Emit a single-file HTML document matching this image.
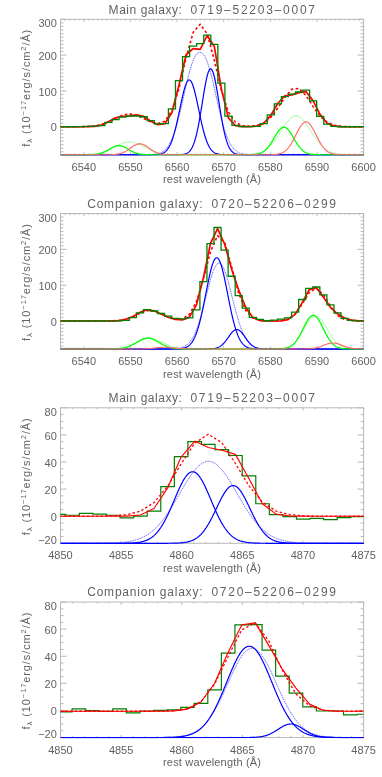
<!DOCTYPE html>
<html><head><meta charset="utf-8"><title>spectra</title>
<style>html,body{margin:0;padding:0;background:#fff}svg{display:block;will-change:transform}</style>
</head><body>
<svg width="382" height="777" viewBox="0 0 382 777">
<rect width="382" height="777" fill="#fff"/>
<defs>
<clipPath id="c0"><rect x="60.50" y="18.80" width="303.10" height="136.70"/></clipPath>
<clipPath id="c1"><rect x="60.50" y="213.05" width="303.10" height="136.70"/></clipPath>
<clipPath id="c2"><rect x="60.50" y="407.30" width="303.10" height="136.70"/></clipPath>
<clipPath id="c3"><rect x="60.50" y="601.55" width="303.10" height="136.70"/></clipPath>
</defs>
<g font-family="'Liberation Sans', sans-serif" fill="#626262">
<text x="108.6" y="13.7" font-size="12" textLength="73.3" lengthAdjust="spacing">Main galaxy:</text>
<text x="190.4" y="13.7" font-size="12" textLength="124.6" lengthAdjust="spacing">0719–52203–0007</text>
<text x="83.82" y="170.8" font-size="11" text-anchor="middle">6540</text>
<text x="130.45" y="170.8" font-size="11" text-anchor="middle">6550</text>
<text x="177.08" y="170.8" font-size="11" text-anchor="middle">6560</text>
<text x="223.71" y="170.8" font-size="11" text-anchor="middle">6570</text>
<text x="270.34" y="170.8" font-size="11" text-anchor="middle">6580</text>
<text x="316.97" y="170.8" font-size="11" text-anchor="middle">6590</text>
<text x="363.6" y="170.8" font-size="11" text-anchor="middle">6600</text>
<text x="212" y="183.4" font-size="11" text-anchor="middle" textLength="98" lengthAdjust="spacing">rest wavelength (&#197;)</text>
<text x="56.8" y="131.45" font-size="11" text-anchor="end">0</text>
<text x="56.8" y="95.64" font-size="11" text-anchor="end">100</text>
<text x="56.8" y="59.82" font-size="11" text-anchor="end">200</text>
<text x="56.8" y="27.3" font-size="11" text-anchor="end">300</text>
<text transform="translate(29.6,88.25) rotate(-90)" font-size="11" text-anchor="middle" textLength="117" lengthAdjust="spacing">f<tspan font-size="8" dy="2.5">&#955;</tspan><tspan dy="-2.5"> (10</tspan><tspan font-size="7.5" dy="-4">&#8722;17</tspan><tspan dy="4">erg/s/cm</tspan><tspan font-size="7.5" dy="-4">2</tspan><tspan dy="4">/&#197;)</tspan></text>
</g>
<path d="M60.5 19.3H363.6V154.8H60.5ZM60.5 154.8v-1.35M60.5 19.3v1.35M65.16 154.8v-1.35M65.16 19.3v1.35M69.83 154.8v-1.35M69.83 19.3v1.35M74.49 154.8v-1.35M74.49 19.3v1.35M79.15 154.8v-1.35M79.15 19.3v1.35M83.82 154.8v-2.7M83.82 19.3v2.7M88.48 154.8v-1.35M88.48 19.3v1.35M93.14 154.8v-1.35M93.14 19.3v1.35M97.8 154.8v-1.35M97.8 19.3v1.35M102.47 154.8v-1.35M102.47 19.3v1.35M107.13 154.8v-1.35M107.13 19.3v1.35M111.79 154.8v-1.35M111.79 19.3v1.35M116.46 154.8v-1.35M116.46 19.3v1.35M121.12 154.8v-1.35M121.12 19.3v1.35M125.78 154.8v-1.35M125.78 19.3v1.35M130.45 154.8v-2.7M130.45 19.3v2.7M135.11 154.8v-1.35M135.11 19.3v1.35M139.77 154.8v-1.35M139.77 19.3v1.35M144.44 154.8v-1.35M144.44 19.3v1.35M149.1 154.8v-1.35M149.1 19.3v1.35M153.76 154.8v-1.35M153.76 19.3v1.35M158.42 154.8v-1.35M158.42 19.3v1.35M163.09 154.8v-1.35M163.09 19.3v1.35M167.75 154.8v-1.35M167.75 19.3v1.35M172.41 154.8v-1.35M172.41 19.3v1.35M177.08 154.8v-2.7M177.08 19.3v2.7M181.74 154.8v-1.35M181.74 19.3v1.35M186.4 154.8v-1.35M186.4 19.3v1.35M191.07 154.8v-1.35M191.07 19.3v1.35M195.73 154.8v-1.35M195.73 19.3v1.35M200.39 154.8v-1.35M200.39 19.3v1.35M205.06 154.8v-1.35M205.06 19.3v1.35M209.72 154.8v-1.35M209.72 19.3v1.35M214.38 154.8v-1.35M214.38 19.3v1.35M219.04 154.8v-1.35M219.04 19.3v1.35M223.71 154.8v-2.7M223.71 19.3v2.7M228.37 154.8v-1.35M228.37 19.3v1.35M233.03 154.8v-1.35M233.03 19.3v1.35M237.7 154.8v-1.35M237.7 19.3v1.35M242.36 154.8v-1.35M242.36 19.3v1.35M247.02 154.8v-1.35M247.02 19.3v1.35M251.69 154.8v-1.35M251.69 19.3v1.35M256.35 154.8v-1.35M256.35 19.3v1.35M261.01 154.8v-1.35M261.01 19.3v1.35M265.68 154.8v-1.35M265.68 19.3v1.35M270.34 154.8v-2.7M270.34 19.3v2.7M275 154.8v-1.35M275 19.3v1.35M279.66 154.8v-1.35M279.66 19.3v1.35M284.33 154.8v-1.35M284.33 19.3v1.35M288.99 154.8v-1.35M288.99 19.3v1.35M293.65 154.8v-1.35M293.65 19.3v1.35M298.32 154.8v-1.35M298.32 19.3v1.35M302.98 154.8v-1.35M302.98 19.3v1.35M307.64 154.8v-1.35M307.64 19.3v1.35M312.31 154.8v-1.35M312.31 19.3v1.35M316.97 154.8v-2.7M316.97 19.3v2.7M321.63 154.8v-1.35M321.63 19.3v1.35M326.3 154.8v-1.35M326.3 19.3v1.35M330.96 154.8v-1.35M330.96 19.3v1.35M335.62 154.8v-1.35M335.62 19.3v1.35M340.28 154.8v-1.35M340.28 19.3v1.35M344.95 154.8v-1.35M344.95 19.3v1.35M349.61 154.8v-1.35M349.61 19.3v1.35M354.27 154.8v-1.35M354.27 19.3v1.35M358.94 154.8v-1.35M358.94 19.3v1.35M363.6 154.8v-2.7M363.6 19.3v2.7M60.5 151.83h3M363.6 151.83h-3M60.5 148.25h3M363.6 148.25h-3M60.5 144.66h3M363.6 144.66h-3M60.5 141.08h3M363.6 141.08h-3M60.5 137.5h3M363.6 137.5h-3M60.5 133.92h3M363.6 133.92h-3M60.5 130.34h3M363.6 130.34h-3M60.5 126.75h6M363.6 126.75h-6M60.5 123.17h3M363.6 123.17h-3M60.5 119.59h3M363.6 119.59h-3M60.5 116.01h3M363.6 116.01h-3M60.5 112.43h3M363.6 112.43h-3M60.5 108.85h3M363.6 108.85h-3M60.5 105.26h3M363.6 105.26h-3M60.5 101.68h3M363.6 101.68h-3M60.5 98.1h3M363.6 98.1h-3M60.5 94.52h3M363.6 94.52h-3M60.5 90.94h6M363.6 90.94h-6M60.5 87.35h3M363.6 87.35h-3M60.5 83.77h3M363.6 83.77h-3M60.5 80.19h3M363.6 80.19h-3M60.5 76.61h3M363.6 76.61h-3M60.5 73.03h3M363.6 73.03h-3M60.5 69.45h3M363.6 69.45h-3M60.5 65.86h3M363.6 65.86h-3M60.5 62.28h3M363.6 62.28h-3M60.5 58.7h3M363.6 58.7h-3M60.5 55.12h6M363.6 55.12h-6M60.5 51.54h3M363.6 51.54h-3M60.5 47.95h3M363.6 47.95h-3M60.5 44.37h3M363.6 44.37h-3M60.5 40.79h3M363.6 40.79h-3M60.5 37.21h3M363.6 37.21h-3M60.5 33.63h3M363.6 33.63h-3M60.5 30.05h3M363.6 30.05h-3M60.5 26.46h3M363.6 26.46h-3M60.5 22.88h3M363.6 22.88h-3M60.5 19.3h6M363.6 19.3h-6" fill="none" stroke="#b8b8b8" stroke-width="1"/>
<g clip-path="url(#c0)" fill="none" stroke-linejoin="round">
<polyline points="60.5,154.8 61,154.8 61.5,154.8 62,154.8 62.5,154.8 63,154.8 63.5,154.8 64,154.8 64.5,154.8 65,154.8 65.5,154.8 66,154.8 66.5,154.8 67,154.8 67.5,154.8 68,154.8 68.5,154.8 69,154.8 69.5,154.8 70,154.8 70.5,154.8 71,154.8 71.5,154.8 72,154.8 72.5,154.8 73,154.8 73.5,154.8 74,154.8 74.5,154.8 75,154.8 75.5,154.8 76,154.8 76.5,154.8 77,154.8 77.5,154.8 78,154.8 78.5,154.8 79,154.8 79.5,154.8 80,154.8 80.5,154.8 81,154.8 81.5,154.8 82,154.8 82.5,154.8 83,154.8 83.5,154.8 84,154.8 84.5,154.8 85,154.8 85.5,154.8 86,154.8 86.5,154.8 87,154.8 87.5,154.8 88,154.8 88.5,154.8 89,154.8 89.5,154.8 90,154.8 90.5,154.8 91,154.8 91.5,154.8 92,154.8 92.5,154.8 93,154.8 93.5,154.8 94,154.8 94.5,154.8 95,154.8 95.5,154.8 96,154.8 96.5,154.8 97,154.8 97.5,154.8 98,154.8 98.5,154.8 99,154.8 99.5,154.8 100,154.8 100.5,154.8 101,154.8 101.5,154.8 102,154.8 102.5,154.8 103,154.8 103.5,154.8 104,154.8 104.5,154.8 105,154.8 105.5,154.8 106,154.8 106.5,154.8 107,154.8 107.5,154.8 108,154.8 108.5,154.8 109,154.8 109.5,154.8 110,154.8 110.5,154.8 111,154.8 111.5,154.8 112,154.8 112.5,154.8 113,154.8 113.5,154.8 114,154.8 114.5,154.8 115,154.8 115.5,154.8 116,154.8 116.5,154.8 117,154.8 117.5,154.8 118,154.8 118.5,154.8 119,154.8 119.5,154.8 120,154.8 120.5,154.8 121,154.8 121.5,154.8 122,154.8 122.5,154.8 123,154.8 123.5,154.8 124,154.8 124.5,154.8 125,154.8 125.5,154.8 126,154.8 126.5,154.8 127,154.8 127.5,154.8 128,154.8 128.5,154.8 129,154.8 129.5,154.8 130,154.8 130.5,154.8 131,154.8 131.5,154.8 132,154.8 132.5,154.8 133,154.8 133.5,154.8 134,154.8 134.5,154.8 135,154.8 135.5,154.8 136,154.8 136.5,154.8 137,154.8 137.5,154.8 138,154.8 138.5,154.8 139,154.8 139.5,154.8 140,154.8 140.5,154.79 141,154.79 141.5,154.79 142,154.79 142.5,154.79 143,154.79 143.5,154.78 144,154.78 144.5,154.78 145,154.77 145.5,154.77 146,154.76 146.5,154.76 147,154.75 147.5,154.74 148,154.73 148.5,154.72 149,154.7 149.5,154.69 150,154.67 150.5,154.65 151,154.63 151.5,154.6 152,154.57 152.5,154.53 153,154.5 153.5,154.45 154,154.4 154.5,154.34 155,154.28 155.5,154.21 156,154.13 156.5,154.04 157,153.94 157.5,153.83 158,153.71 158.5,153.57 159,153.42 159.5,153.25 160,153.06 160.5,152.86 161,152.63 161.5,152.38 162,152.11 162.5,151.82 163,151.49 163.5,151.14 164,150.76 164.5,150.34 165,149.89 165.5,149.4 166,148.87 166.5,148.3 167,147.69 167.5,147.03 168,146.33 168.5,145.58 169,144.78 169.5,143.92 170,143.01 170.5,142.05 171,141.02 171.5,139.94 172,138.8 172.5,137.6 173,136.34 173.5,135.02 174,133.63 174.5,132.19 175,130.68 175.5,129.11 176,127.48 176.5,125.79 177,124.04 177.5,122.24 178,120.38 178.5,118.47 179,116.51 179.5,114.51 180,112.47 180.5,110.38 181,108.26 181.5,106.12 182,103.94 182.5,101.75 183,99.54 183.5,97.31 184,95.09 184.5,92.86 185,90.65 185.5,88.44 186,86.25 186.5,84.09 187,81.96 187.5,79.87 188,77.82 188.5,75.81 189,73.86 189.5,71.97 190,70.15 190.5,68.4 191,66.72 191.5,65.12 192,63.6 192.5,62.18 193,60.84 193.5,59.6 194,58.45 194.5,57.41 195,56.46 195.5,55.61 196,54.87 196.5,54.22 197,53.68 197.5,53.24 198,52.89 198.5,52.63 199,52.47 199.5,52.38 200,52.36 200.5,52.4 201,52.51 201.5,52.7 202,52.98 202.5,53.36 203,53.83 203.5,54.4 204,55.08 204.5,55.85 205,56.73 205.5,57.71 206,58.78 206.5,59.96 207,61.23 207.5,62.59 208,64.04 208.5,65.58 209,67.21 209.5,68.91 210,70.68 210.5,72.53 211,74.43 211.5,76.4 212,78.42 212.5,80.48 213,82.59 213.5,84.73 214,86.9 214.5,89.09 215,91.3 215.5,93.52 216,95.75 216.5,97.97 217,100.19 217.5,102.4 218,104.59 218.5,106.75 219,108.89 219.5,111 220,113.08 220.5,115.11 221,117.1 221.5,119.04 222,120.94 222.5,122.78 223,124.56 223.5,126.29 224,127.97 224.5,129.58 225,131.13 225.5,132.62 226,134.05 226.5,135.42 227,136.72 227.5,137.96 228,139.15 228.5,140.27 229,141.33 229.5,142.34 230,143.29 230.5,144.18 231,145.02 231.5,145.81 232,146.54 232.5,147.23 233,147.88 233.5,148.47 234,149.03 234.5,149.55 235,150.02 235.5,150.47 236,150.87 236.5,151.25 237,151.59 237.5,151.91 238,152.2 238.5,152.46 239,152.7 239.5,152.92 240,153.12 240.5,153.3 241,153.46 241.5,153.61 242,153.74 242.5,153.86 243,153.97 243.5,154.07 244,154.15 244.5,154.23 245,154.3 245.5,154.36 246,154.42 246.5,154.46 247,154.51 247.5,154.54 248,154.58 248.5,154.61 249,154.63 249.5,154.66 250,154.68 250.5,154.69 251,154.71 251.5,154.72 252,154.73 252.5,154.74 253,154.75 253.5,154.76 254,154.76 254.5,154.77 255,154.77 255.5,154.78 256,154.78 256.5,154.78 257,154.79 257.5,154.79 258,154.79 258.5,154.79 259,154.79 259.5,154.79 260,154.8 260.5,154.8 261,154.8 261.5,154.8 262,154.8 262.5,154.8 263,154.8 263.5,154.8 264,154.8 264.5,154.8 265,154.8 265.5,154.8 266,154.8 266.5,154.8 267,154.8 267.5,154.8 268,154.8 268.5,154.8 269,154.8 269.5,154.8 270,154.8 270.5,154.8 271,154.8 271.5,154.8 272,154.8 272.5,154.8 273,154.8 273.5,154.8 274,154.8 274.5,154.8 275,154.8 275.5,154.8 276,154.8 276.5,154.8 277,154.8 277.5,154.8 278,154.8 278.5,154.8 279,154.8 279.5,154.8 280,154.8 280.5,154.8 281,154.8 281.5,154.8 282,154.8 282.5,154.8 283,154.8 283.5,154.8 284,154.8 284.5,154.8 285,154.8 285.5,154.8 286,154.8 286.5,154.8 287,154.8 287.5,154.8 288,154.8 288.5,154.8 289,154.8 289.5,154.8 290,154.8 290.5,154.8 291,154.8 291.5,154.8 292,154.8 292.5,154.8 293,154.8 293.5,154.8 294,154.8 294.5,154.8 295,154.8 295.5,154.8 296,154.8 296.5,154.8 297,154.8 297.5,154.8 298,154.8 298.5,154.8 299,154.8 299.5,154.8 300,154.8 300.5,154.8 301,154.8 301.5,154.8 302,154.8 302.5,154.8 303,154.8 303.5,154.8 304,154.8 304.5,154.8 305,154.8 305.5,154.8 306,154.8 306.5,154.8 307,154.8 307.5,154.8 308,154.8 308.5,154.8 309,154.8 309.5,154.8 310,154.8 310.5,154.8 311,154.8 311.5,154.8 312,154.8 312.5,154.8 313,154.8 313.5,154.8 314,154.8 314.5,154.8 315,154.8 315.5,154.8 316,154.8 316.5,154.8 317,154.8 317.5,154.8 318,154.8 318.5,154.8 319,154.8 319.5,154.8 320,154.8 320.5,154.8 321,154.8 321.5,154.8 322,154.8 322.5,154.8 323,154.8 323.5,154.8 324,154.8 324.5,154.8 325,154.8 325.5,154.8 326,154.8 326.5,154.8 327,154.8 327.5,154.8 328,154.8 328.5,154.8 329,154.8 329.5,154.8 330,154.8 330.5,154.8 331,154.8 331.5,154.8 332,154.8 332.5,154.8 333,154.8 333.5,154.8 334,154.8 334.5,154.8 335,154.8 335.5,154.8 336,154.8 336.5,154.8 337,154.8 337.5,154.8 338,154.8 338.5,154.8 339,154.8 339.5,154.8 340,154.8 340.5,154.8 341,154.8 341.5,154.8 342,154.8 342.5,154.8 343,154.8 343.5,154.8 344,154.8 344.5,154.8 345,154.8 345.5,154.8 346,154.8 346.5,154.8 347,154.8 347.5,154.8 348,154.8 348.5,154.8 349,154.8 349.5,154.8 350,154.8 350.5,154.8 351,154.8 351.5,154.8 352,154.8 352.5,154.8 353,154.8 353.5,154.8 354,154.8 354.5,154.8 355,154.8 355.5,154.8 356,154.8 356.5,154.8 357,154.8 357.5,154.8 358,154.8 358.5,154.8 359,154.8 359.5,154.8 360,154.8 360.5,154.8 361,154.8 361.5,154.8 362,154.8 362.5,154.8 363,154.8 363.5,154.8 364,154.8" stroke="#4848ff" stroke-width="0.85" stroke-dasharray="1.6,0.8"/>
<polyline points="60.5,154.8 61,154.8 61.5,154.8 62,154.8 62.5,154.8 63,154.8 63.5,154.8 64,154.8 64.5,154.8 65,154.8 65.5,154.8 66,154.8 66.5,154.8 67,154.8 67.5,154.8 68,154.8 68.5,154.8 69,154.8 69.5,154.8 70,154.8 70.5,154.8 71,154.8 71.5,154.8 72,154.8 72.5,154.8 73,154.8 73.5,154.8 74,154.8 74.5,154.8 75,154.8 75.5,154.8 76,154.8 76.5,154.8 77,154.8 77.5,154.8 78,154.8 78.5,154.8 79,154.8 79.5,154.8 80,154.8 80.5,154.8 81,154.8 81.5,154.8 82,154.8 82.5,154.8 83,154.8 83.5,154.8 84,154.8 84.5,154.8 85,154.8 85.5,154.8 86,154.8 86.5,154.8 87,154.8 87.5,154.8 88,154.8 88.5,154.8 89,154.8 89.5,154.8 90,154.8 90.5,154.8 91,154.8 91.5,154.8 92,154.8 92.5,154.8 93,154.8 93.5,154.8 94,154.8 94.5,154.8 95,154.8 95.5,154.8 96,154.8 96.5,154.8 97,154.8 97.5,154.8 98,154.8 98.5,154.8 99,154.8 99.5,154.8 100,154.8 100.5,154.8 101,154.8 101.5,154.8 102,154.8 102.5,154.8 103,154.8 103.5,154.8 104,154.8 104.5,154.8 105,154.8 105.5,154.8 106,154.8 106.5,154.8 107,154.8 107.5,154.8 108,154.8 108.5,154.8 109,154.8 109.5,154.8 110,154.8 110.5,154.8 111,154.8 111.5,154.8 112,154.8 112.5,154.8 113,154.8 113.5,154.8 114,154.8 114.5,154.8 115,154.8 115.5,154.8 116,154.8 116.5,154.8 117,154.8 117.5,154.8 118,154.8 118.5,154.8 119,154.8 119.5,154.8 120,154.8 120.5,154.8 121,154.8 121.5,154.8 122,154.8 122.5,154.8 123,154.8 123.5,154.8 124,154.8 124.5,154.8 125,154.8 125.5,154.8 126,154.8 126.5,154.8 127,154.8 127.5,154.8 128,154.8 128.5,154.8 129,154.8 129.5,154.8 130,154.8 130.5,154.8 131,154.8 131.5,154.8 132,154.8 132.5,154.8 133,154.8 133.5,154.8 134,154.8 134.5,154.8 135,154.8 135.5,154.8 136,154.8 136.5,154.8 137,154.8 137.5,154.8 138,154.8 138.5,154.8 139,154.8 139.5,154.8 140,154.8 140.5,154.8 141,154.8 141.5,154.8 142,154.8 142.5,154.8 143,154.8 143.5,154.8 144,154.8 144.5,154.8 145,154.8 145.5,154.8 146,154.8 146.5,154.8 147,154.8 147.5,154.8 148,154.8 148.5,154.8 149,154.8 149.5,154.8 150,154.8 150.5,154.8 151,154.8 151.5,154.8 152,154.8 152.5,154.8 153,154.8 153.5,154.8 154,154.8 154.5,154.8 155,154.8 155.5,154.8 156,154.8 156.5,154.8 157,154.8 157.5,154.8 158,154.8 158.5,154.8 159,154.8 159.5,154.8 160,154.8 160.5,154.8 161,154.8 161.5,154.8 162,154.8 162.5,154.8 163,154.8 163.5,154.8 164,154.8 164.5,154.8 165,154.8 165.5,154.8 166,154.8 166.5,154.8 167,154.8 167.5,154.8 168,154.8 168.5,154.8 169,154.8 169.5,154.8 170,154.8 170.5,154.8 171,154.8 171.5,154.8 172,154.8 172.5,154.8 173,154.8 173.5,154.8 174,154.8 174.5,154.8 175,154.8 175.5,154.8 176,154.8 176.5,154.8 177,154.8 177.5,154.8 178,154.8 178.5,154.8 179,154.8 179.5,154.8 180,154.8 180.5,154.8 181,154.8 181.5,154.8 182,154.8 182.5,154.8 183,154.8 183.5,154.8 184,154.8 184.5,154.8 185,154.8 185.5,154.8 186,154.8 186.5,154.8 187,154.8 187.5,154.8 188,154.8 188.5,154.8 189,154.8 189.5,154.8 190,154.8 190.5,154.8 191,154.8 191.5,154.8 192,154.8 192.5,154.8 193,154.8 193.5,154.8 194,154.8 194.5,154.8 195,154.8 195.5,154.8 196,154.8 196.5,154.8 197,154.8 197.5,154.8 198,154.8 198.5,154.8 199,154.8 199.5,154.8 200,154.8 200.5,154.8 201,154.8 201.5,154.8 202,154.8 202.5,154.8 203,154.8 203.5,154.8 204,154.8 204.5,154.8 205,154.8 205.5,154.8 206,154.8 206.5,154.8 207,154.8 207.5,154.8 208,154.8 208.5,154.8 209,154.8 209.5,154.8 210,154.8 210.5,154.8 211,154.8 211.5,154.8 212,154.8 212.5,154.8 213,154.8 213.5,154.8 214,154.8 214.5,154.8 215,154.8 215.5,154.8 216,154.8 216.5,154.8 217,154.8 217.5,154.8 218,154.8 218.5,154.8 219,154.8 219.5,154.8 220,154.8 220.5,154.8 221,154.8 221.5,154.8 222,154.8 222.5,154.8 223,154.8 223.5,154.8 224,154.8 224.5,154.8 225,154.8 225.5,154.8 226,154.8 226.5,154.8 227,154.8 227.5,154.8 228,154.8 228.5,154.8 229,154.8 229.5,154.8 230,154.8 230.5,154.8 231,154.8 231.5,154.8 232,154.8 232.5,154.8 233,154.79 233.5,154.79 234,154.79 234.5,154.79 235,154.79 235.5,154.79 236,154.79 236.5,154.79 237,154.78 237.5,154.78 238,154.78 238.5,154.78 239,154.77 239.5,154.77 240,154.77 240.5,154.76 241,154.76 241.5,154.75 242,154.74 242.5,154.74 243,154.73 243.5,154.72 244,154.71 244.5,154.7 245,154.69 245.5,154.67 246,154.66 246.5,154.64 247,154.62 247.5,154.6 248,154.58 248.5,154.55 249,154.53 249.5,154.5 250,154.46 250.5,154.43 251,154.39 251.5,154.34 252,154.29 252.5,154.24 253,154.18 253.5,154.12 254,154.05 254.5,153.98 255,153.9 255.5,153.82 256,153.72 256.5,153.62 257,153.51 257.5,153.4 258,153.27 258.5,153.14 259,152.99 259.5,152.84 260,152.67 260.5,152.49 261,152.3 261.5,152.1 262,151.88 262.5,151.65 263,151.41 263.5,151.15 264,150.88 264.5,150.59 265,150.28 265.5,149.96 266,149.62 266.5,149.26 267,148.88 267.5,148.49 268,148.07 268.5,147.64 269,147.19 269.5,146.72 270,146.23 270.5,145.72 271,145.19 271.5,144.64 272,144.07 272.5,143.49 273,142.88 273.5,142.26 274,141.61 274.5,140.95 275,140.28 275.5,139.59 276,138.88 276.5,138.16 277,137.42 277.5,136.68 278,135.92 278.5,135.15 279,134.37 279.5,133.59 280,132.81 280.5,132.01 281,131.22 281.5,130.43 282,129.64 282.5,128.85 283,128.06 283.5,127.29 284,126.52 284.5,125.77 285,125.03 285.5,124.3 286,123.59 286.5,122.9 287,122.23 287.5,121.59 288,120.97 288.5,120.37 289,119.81 289.5,119.28 290,118.78 290.5,118.31 291,117.88 291.5,117.48 292,117.13 292.5,116.81 293,116.53 293.5,116.3 294,116.1 294.5,115.95 295,115.84 295.5,115.78 296,115.76 296.5,115.78 297,115.85 297.5,115.96 298,116.11 298.5,116.31 299,116.55 299.5,116.83 300,117.15 300.5,117.5 301,117.9 301.5,118.34 302,118.8 302.5,119.31 303,119.84 303.5,120.41 304,121 304.5,121.62 305,122.27 305.5,122.94 306,123.63 306.5,124.34 307,125.07 307.5,125.81 308,126.57 308.5,127.33 309,128.11 309.5,128.89 310,129.68 310.5,130.47 311,131.27 311.5,132.06 312,132.85 312.5,133.64 313,134.42 313.5,135.2 314,135.96 314.5,136.72 315,137.47 315.5,138.2 316,138.92 316.5,139.63 317,140.32 317.5,140.99 318,141.65 318.5,142.29 319,142.92 319.5,143.52 320,144.11 320.5,144.67 321,145.22 321.5,145.75 322,146.26 322.5,146.75 323,147.22 323.5,147.67 324,148.1 324.5,148.51 325,148.9 325.5,149.28 326,149.64 326.5,149.98 327,150.3 327.5,150.6 328,150.89 328.5,151.17 329,151.42 329.5,151.67 330,151.89 330.5,152.11 331,152.31 331.5,152.5 332,152.68 332.5,152.84 333,153 333.5,153.14 334,153.28 334.5,153.4 335,153.52 335.5,153.63 336,153.73 336.5,153.82 337,153.91 337.5,153.99 338,154.06 338.5,154.13 339,154.19 339.5,154.24 340,154.3 340.5,154.34 341,154.39 341.5,154.43 342,154.46 342.5,154.5 343,154.53 343.5,154.55 344,154.58 344.5,154.6 345,154.62 345.5,154.64 346,154.66 346.5,154.67 347,154.69 347.5,154.7 348,154.71 348.5,154.72 349,154.73 349.5,154.74 350,154.74 350.5,154.75 351,154.76 351.5,154.76 352,154.77 352.5,154.77 353,154.77 353.5,154.78 354,154.78 354.5,154.78 355,154.78 355.5,154.79 356,154.79 356.5,154.79 357,154.79 357.5,154.79 358,154.79 358.5,154.79 359,154.79 359.5,154.8 360,154.8 360.5,154.8 361,154.8 361.5,154.8 362,154.8 362.5,154.8 363,154.8 363.5,154.8 364,154.8" stroke="#60f460" stroke-width="0.9" stroke-dasharray="1.6,0.8"/>
<polyline points="60.5,154.8 61,154.8 61.5,154.8 62,154.8 62.5,154.8 63,154.8 63.5,154.8 64,154.8 64.5,154.8 65,154.8 65.5,154.8 66,154.8 66.5,154.8 67,154.8 67.5,154.8 68,154.8 68.5,154.8 69,154.8 69.5,154.8 70,154.8 70.5,154.79 71,154.79 71.5,154.79 72,154.79 72.5,154.79 73,154.79 73.5,154.79 74,154.79 74.5,154.79 75,154.78 75.5,154.78 76,154.78 76.5,154.78 77,154.77 77.5,154.77 78,154.77 78.5,154.76 79,154.76 79.5,154.75 80,154.75 80.5,154.74 81,154.73 81.5,154.73 82,154.72 82.5,154.71 83,154.7 83.5,154.69 84,154.68 84.5,154.66 85,154.65 85.5,154.63 86,154.62 86.5,154.6 87,154.58 87.5,154.56 88,154.53 88.5,154.5 89,154.48 89.5,154.45 90,154.41 90.5,154.38 91,154.34 91.5,154.3 92,154.25 92.5,154.21 93,154.15 93.5,154.1 94,154.04 94.5,153.98 95,153.91 95.5,153.84 96,153.76 96.5,153.68 97,153.6 97.5,153.51 98,153.41 98.5,153.31 99,153.21 99.5,153.09 100,152.98 100.5,152.85 101,152.72 101.5,152.59 102,152.44 102.5,152.3 103,152.14 103.5,151.98 104,151.81 104.5,151.64 105,151.46 105.5,151.27 106,151.07 106.5,150.87 107,150.67 107.5,150.46 108,150.24 108.5,150.02 109,149.79 109.5,149.55 110,149.32 110.5,149.07 111,148.83 111.5,148.58 112,148.32 112.5,148.07 113,147.81 113.5,147.55 114,147.29 114.5,147.03 115,146.77 115.5,146.5 116,146.24 116.5,145.98 117,145.73 117.5,145.47 118,145.23 118.5,144.98 119,144.74 119.5,144.51 120,144.28 120.5,144.06 121,143.84 121.5,143.64 122,143.44 122.5,143.25 123,143.08 123.5,142.91 124,142.76 124.5,142.61 125,142.48 125.5,142.36 126,142.26 126.5,142.17 127,142.09 127.5,142.02 128,141.97 128.5,141.94 129,141.91 129.5,141.91 130,141.91 130.5,141.93 131,141.97 131.5,142.02 132,142.08 132.5,142.16 133,142.25 133.5,142.36 134,142.48 134.5,142.61 135,142.75 135.5,142.9 136,143.07 136.5,143.24 137,143.43 137.5,143.63 138,143.83 138.5,144.04 139,144.26 139.5,144.49 140,144.73 140.5,144.97 141,145.21 141.5,145.46 142,145.71 142.5,145.97 143,146.23 143.5,146.49 144,146.75 144.5,147.01 145,147.27 145.5,147.54 146,147.8 146.5,148.05 147,148.31 147.5,148.56 148,148.81 148.5,149.06 149,149.3 149.5,149.54 150,149.78 150.5,150 151,150.23 151.5,150.45 152,150.66 152.5,150.86 153,151.06 153.5,151.26 154,151.45 154.5,151.63 155,151.8 155.5,151.97 156,152.13 156.5,152.29 157,152.44 157.5,152.58 158,152.72 158.5,152.85 159,152.97 159.5,153.09 160,153.2 160.5,153.31 161,153.41 161.5,153.5 162,153.59 162.5,153.68 163,153.76 163.5,153.84 164,153.91 164.5,153.97 165,154.04 165.5,154.1 166,154.15 166.5,154.2 167,154.25 167.5,154.3 168,154.34 168.5,154.38 169,154.41 169.5,154.44 170,154.48 170.5,154.5 171,154.53 171.5,154.55 172,154.58 172.5,154.6 173,154.62 173.5,154.63 174,154.65 174.5,154.66 175,154.68 175.5,154.69 176,154.7 176.5,154.71 177,154.72 177.5,154.73 178,154.73 178.5,154.74 179,154.75 179.5,154.75 180,154.76 180.5,154.76 181,154.77 181.5,154.77 182,154.77 182.5,154.78 183,154.78 183.5,154.78 184,154.78 184.5,154.79 185,154.79 185.5,154.79 186,154.79 186.5,154.79 187,154.79 187.5,154.79 188,154.79 188.5,154.79 189,154.8 189.5,154.8 190,154.8 190.5,154.8 191,154.8 191.5,154.8 192,154.8 192.5,154.8 193,154.8 193.5,154.8 194,154.8 194.5,154.8 195,154.8 195.5,154.8 196,154.8 196.5,154.8 197,154.8 197.5,154.8 198,154.8 198.5,154.8 199,154.8 199.5,154.8 200,154.8 200.5,154.8 201,154.8 201.5,154.8 202,154.8 202.5,154.8 203,154.8 203.5,154.8 204,154.8 204.5,154.8 205,154.8 205.5,154.8 206,154.8 206.5,154.8 207,154.8 207.5,154.8 208,154.8 208.5,154.8 209,154.8 209.5,154.8 210,154.8 210.5,154.8 211,154.8 211.5,154.8 212,154.8 212.5,154.8 213,154.8 213.5,154.8 214,154.8 214.5,154.8 215,154.8 215.5,154.8 216,154.8 216.5,154.8 217,154.8 217.5,154.8 218,154.8 218.5,154.8 219,154.8 219.5,154.8 220,154.8 220.5,154.8 221,154.8 221.5,154.8 222,154.8 222.5,154.8 223,154.8 223.5,154.8 224,154.8 224.5,154.8 225,154.8 225.5,154.8 226,154.8 226.5,154.8 227,154.8 227.5,154.8 228,154.8 228.5,154.8 229,154.8 229.5,154.8 230,154.8 230.5,154.8 231,154.8 231.5,154.8 232,154.8 232.5,154.8 233,154.8 233.5,154.8 234,154.8 234.5,154.8 235,154.8 235.5,154.8 236,154.8 236.5,154.8 237,154.8 237.5,154.8 238,154.8 238.5,154.8 239,154.8 239.5,154.8 240,154.8 240.5,154.8 241,154.8 241.5,154.8 242,154.8 242.5,154.8 243,154.8 243.5,154.8 244,154.8 244.5,154.8 245,154.8 245.5,154.8 246,154.8 246.5,154.8 247,154.8 247.5,154.8 248,154.8 248.5,154.8 249,154.8 249.5,154.8 250,154.8 250.5,154.8 251,154.8 251.5,154.8 252,154.8 252.5,154.8 253,154.8 253.5,154.8 254,154.8 254.5,154.8 255,154.8 255.5,154.8 256,154.8 256.5,154.8 257,154.8 257.5,154.8 258,154.8 258.5,154.8 259,154.8 259.5,154.8 260,154.8 260.5,154.8 261,154.8 261.5,154.8 262,154.8 262.5,154.8 263,154.8 263.5,154.8 264,154.8 264.5,154.8 265,154.8 265.5,154.8 266,154.8 266.5,154.8 267,154.8 267.5,154.8 268,154.8 268.5,154.8 269,154.8 269.5,154.8 270,154.8 270.5,154.8 271,154.8 271.5,154.8 272,154.8 272.5,154.8 273,154.8 273.5,154.8 274,154.8 274.5,154.8 275,154.8 275.5,154.8 276,154.8 276.5,154.8 277,154.8 277.5,154.8 278,154.8 278.5,154.8 279,154.8 279.5,154.8 280,154.8 280.5,154.8 281,154.8 281.5,154.8 282,154.8 282.5,154.8 283,154.8 283.5,154.8 284,154.8 284.5,154.8 285,154.8 285.5,154.8 286,154.8 286.5,154.8 287,154.8 287.5,154.8 288,154.8 288.5,154.8 289,154.8 289.5,154.8 290,154.8 290.5,154.8 291,154.8 291.5,154.8 292,154.8 292.5,154.8 293,154.8 293.5,154.8 294,154.8 294.5,154.8 295,154.8 295.5,154.8 296,154.8 296.5,154.8 297,154.8 297.5,154.8 298,154.8 298.5,154.8 299,154.8 299.5,154.8 300,154.8 300.5,154.8 301,154.8 301.5,154.8 302,154.8 302.5,154.8 303,154.8 303.5,154.8 304,154.8 304.5,154.8 305,154.8 305.5,154.8 306,154.8 306.5,154.8 307,154.8 307.5,154.8 308,154.8 308.5,154.8 309,154.8 309.5,154.8 310,154.8 310.5,154.8 311,154.8 311.5,154.8 312,154.8 312.5,154.8 313,154.8 313.5,154.8 314,154.8 314.5,154.8 315,154.8 315.5,154.8 316,154.8 316.5,154.8 317,154.8 317.5,154.8 318,154.8 318.5,154.8 319,154.8 319.5,154.8 320,154.8 320.5,154.8 321,154.8 321.5,154.8 322,154.8 322.5,154.8 323,154.8 323.5,154.8 324,154.8 324.5,154.8 325,154.8 325.5,154.8 326,154.8 326.5,154.8 327,154.8 327.5,154.8 328,154.8 328.5,154.8 329,154.8 329.5,154.8 330,154.8 330.5,154.8 331,154.8 331.5,154.8 332,154.8 332.5,154.8 333,154.8 333.5,154.8 334,154.8 334.5,154.8 335,154.8 335.5,154.8 336,154.8 336.5,154.8 337,154.8 337.5,154.8 338,154.8 338.5,154.8 339,154.8 339.5,154.8 340,154.8 340.5,154.8 341,154.8 341.5,154.8 342,154.8 342.5,154.8 343,154.8 343.5,154.8 344,154.8 344.5,154.8 345,154.8 345.5,154.8 346,154.8 346.5,154.8 347,154.8 347.5,154.8 348,154.8 348.5,154.8 349,154.8 349.5,154.8 350,154.8 350.5,154.8 351,154.8 351.5,154.8 352,154.8 352.5,154.8 353,154.8 353.5,154.8 354,154.8 354.5,154.8 355,154.8 355.5,154.8 356,154.8 356.5,154.8 357,154.8 357.5,154.8 358,154.8 358.5,154.8 359,154.8 359.5,154.8 360,154.8 360.5,154.8 361,154.8 361.5,154.8 362,154.8 362.5,154.8 363,154.8 363.5,154.8 364,154.8" stroke="#60f460" stroke-width="0.9" stroke-dasharray="1.6,0.8"/>
<polyline points="60.5,154.8 61,154.8 61.5,154.8 62,154.8 62.5,154.8 63,154.8 63.5,154.8 64,154.8 64.5,154.8 65,154.8 65.5,154.8 66,154.8 66.5,154.8 67,154.8 67.5,154.8 68,154.8 68.5,154.8 69,154.8 69.5,154.8 70,154.8 70.5,154.8 71,154.8 71.5,154.8 72,154.8 72.5,154.8 73,154.8 73.5,154.8 74,154.8 74.5,154.8 75,154.8 75.5,154.8 76,154.8 76.5,154.8 77,154.8 77.5,154.8 78,154.8 78.5,154.8 79,154.8 79.5,154.8 80,154.8 80.5,154.8 81,154.8 81.5,154.8 82,154.8 82.5,154.8 83,154.8 83.5,154.8 84,154.8 84.5,154.8 85,154.8 85.5,154.8 86,154.8 86.5,154.8 87,154.8 87.5,154.8 88,154.8 88.5,154.8 89,154.8 89.5,154.8 90,154.8 90.5,154.8 91,154.8 91.5,154.8 92,154.8 92.5,154.8 93,154.8 93.5,154.8 94,154.8 94.5,154.8 95,154.8 95.5,154.8 96,154.8 96.5,154.8 97,154.8 97.5,154.8 98,154.8 98.5,154.8 99,154.8 99.5,154.8 100,154.8 100.5,154.8 101,154.8 101.5,154.8 102,154.8 102.5,154.8 103,154.8 103.5,154.8 104,154.8 104.5,154.8 105,154.8 105.5,154.8 106,154.8 106.5,154.8 107,154.8 107.5,154.8 108,154.8 108.5,154.8 109,154.8 109.5,154.8 110,154.8 110.5,154.8 111,154.8 111.5,154.8 112,154.8 112.5,154.8 113,154.8 113.5,154.8 114,154.8 114.5,154.8 115,154.8 115.5,154.8 116,154.8 116.5,154.8 117,154.8 117.5,154.8 118,154.8 118.5,154.8 119,154.8 119.5,154.8 120,154.8 120.5,154.8 121,154.8 121.5,154.8 122,154.8 122.5,154.8 123,154.8 123.5,154.8 124,154.8 124.5,154.8 125,154.8 125.5,154.8 126,154.8 126.5,154.8 127,154.8 127.5,154.8 128,154.8 128.5,154.8 129,154.8 129.5,154.8 130,154.8 130.5,154.8 131,154.8 131.5,154.8 132,154.8 132.5,154.8 133,154.8 133.5,154.8 134,154.8 134.5,154.8 135,154.8 135.5,154.8 136,154.8 136.5,154.8 137,154.8 137.5,154.8 138,154.8 138.5,154.8 139,154.8 139.5,154.8 140,154.8 140.5,154.8 141,154.8 141.5,154.8 142,154.8 142.5,154.8 143,154.8 143.5,154.8 144,154.8 144.5,154.8 145,154.8 145.5,154.8 146,154.8 146.5,154.8 147,154.8 147.5,154.8 148,154.79 148.5,154.79 149,154.79 149.5,154.79 150,154.79 150.5,154.78 151,154.78 151.5,154.77 152,154.77 152.5,154.76 153,154.75 153.5,154.74 154,154.73 154.5,154.71 155,154.69 155.5,154.67 156,154.64 156.5,154.61 157,154.57 157.5,154.53 158,154.47 158.5,154.41 159,154.34 159.5,154.25 160,154.16 160.5,154.04 161,153.92 161.5,153.77 162,153.59 162.5,153.4 163,153.18 163.5,152.92 164,152.64 164.5,152.31 165,151.95 165.5,151.54 166,151.09 166.5,150.58 167,150.02 167.5,149.39 168,148.7 168.5,147.95 169,147.12 169.5,146.22 170,145.23 170.5,144.17 171,143.01 171.5,141.77 172,140.44 172.5,139.01 173,137.49 173.5,135.88 174,134.18 174.5,132.39 175,130.5 175.5,128.54 176,126.49 176.5,124.37 177,122.18 177.5,119.93 178,117.63 178.5,115.29 179,112.91 179.5,110.52 180,108.12 180.5,105.73 181,103.36 181.5,101.03 182,98.75 182.5,96.53 183,94.4 183.5,92.36 184,90.43 184.5,88.62 185,86.96 185.5,85.45 186,84.1 186.5,82.93 187,81.94 187.5,81.14 188,80.54 188.5,80.15 189,79.96 189.5,79.98 190,80.21 190.5,80.64 191,81.28 191.5,82.12 192,83.14 192.5,84.35 193,85.73 193.5,87.28 194,88.97 194.5,90.8 195,92.75 195.5,94.81 196,96.96 196.5,99.19 197,101.49 197.5,103.83 198,106.2 198.5,108.59 199,110.99 199.5,113.38 200,115.75 200.5,118.08 201,120.38 201.5,122.61 202,124.79 202.5,126.9 203,128.93 203.5,130.88 204,132.75 204.5,134.52 205,136.21 205.5,137.8 206,139.3 206.5,140.71 207,142.02 207.5,143.25 208,144.38 208.5,145.43 209,146.4 209.5,147.29 210,148.1 210.5,148.85 211,149.52 211.5,150.13 212,150.68 212.5,151.18 213,151.63 213.5,152.02 214,152.38 214.5,152.7 215,152.98 215.5,153.22 216,153.44 216.5,153.63 217,153.8 217.5,153.94 218,154.07 218.5,154.18 219,154.27 219.5,154.35 220,154.42 220.5,154.48 221,154.53 221.5,154.58 222,154.61 222.5,154.65 223,154.67 223.5,154.69 224,154.71 224.5,154.73 225,154.74 225.5,154.75 226,154.76 226.5,154.77 227,154.77 227.5,154.78 228,154.78 228.5,154.79 229,154.79 229.5,154.79 230,154.79 230.5,154.79 231,154.8 231.5,154.8 232,154.8 232.5,154.8 233,154.8 233.5,154.8 234,154.8 234.5,154.8 235,154.8 235.5,154.8 236,154.8 236.5,154.8 237,154.8 237.5,154.8 238,154.8 238.5,154.8 239,154.8 239.5,154.8 240,154.8 240.5,154.8 241,154.8 241.5,154.8 242,154.8 242.5,154.8 243,154.8 243.5,154.8 244,154.8 244.5,154.8 245,154.8 245.5,154.8 246,154.8 246.5,154.8 247,154.8 247.5,154.8 248,154.8 248.5,154.8 249,154.8 249.5,154.8 250,154.8 250.5,154.8 251,154.8 251.5,154.8 252,154.8 252.5,154.8 253,154.8 253.5,154.8 254,154.8 254.5,154.8 255,154.8 255.5,154.8 256,154.8 256.5,154.8 257,154.8 257.5,154.8 258,154.8 258.5,154.8 259,154.8 259.5,154.8 260,154.8 260.5,154.8 261,154.8 261.5,154.8 262,154.8 262.5,154.8 263,154.8 263.5,154.8 264,154.8 264.5,154.8 265,154.8 265.5,154.8 266,154.8 266.5,154.8 267,154.8 267.5,154.8 268,154.8 268.5,154.8 269,154.8 269.5,154.8 270,154.8 270.5,154.8 271,154.8 271.5,154.8 272,154.8 272.5,154.8 273,154.8 273.5,154.8 274,154.8 274.5,154.8 275,154.8 275.5,154.8 276,154.8 276.5,154.8 277,154.8 277.5,154.8 278,154.8 278.5,154.8 279,154.8 279.5,154.8 280,154.8 280.5,154.8 281,154.8 281.5,154.8 282,154.8 282.5,154.8 283,154.8 283.5,154.8 284,154.8 284.5,154.8 285,154.8 285.5,154.8 286,154.8 286.5,154.8 287,154.8 287.5,154.8 288,154.8 288.5,154.8 289,154.8 289.5,154.8 290,154.8 290.5,154.8 291,154.8 291.5,154.8 292,154.8 292.5,154.8 293,154.8 293.5,154.8 294,154.8 294.5,154.8 295,154.8 295.5,154.8 296,154.8 296.5,154.8 297,154.8 297.5,154.8 298,154.8 298.5,154.8 299,154.8 299.5,154.8 300,154.8 300.5,154.8 301,154.8 301.5,154.8 302,154.8 302.5,154.8 303,154.8 303.5,154.8 304,154.8 304.5,154.8 305,154.8 305.5,154.8 306,154.8 306.5,154.8 307,154.8 307.5,154.8 308,154.8 308.5,154.8 309,154.8 309.5,154.8 310,154.8 310.5,154.8 311,154.8 311.5,154.8 312,154.8 312.5,154.8 313,154.8 313.5,154.8 314,154.8 314.5,154.8 315,154.8 315.5,154.8 316,154.8 316.5,154.8 317,154.8 317.5,154.8 318,154.8 318.5,154.8 319,154.8 319.5,154.8 320,154.8 320.5,154.8 321,154.8 321.5,154.8 322,154.8 322.5,154.8 323,154.8 323.5,154.8 324,154.8 324.5,154.8 325,154.8 325.5,154.8 326,154.8 326.5,154.8 327,154.8 327.5,154.8 328,154.8 328.5,154.8 329,154.8 329.5,154.8 330,154.8 330.5,154.8 331,154.8 331.5,154.8 332,154.8 332.5,154.8 333,154.8 333.5,154.8 334,154.8 334.5,154.8 335,154.8 335.5,154.8 336,154.8 336.5,154.8 337,154.8 337.5,154.8 338,154.8 338.5,154.8 339,154.8 339.5,154.8 340,154.8 340.5,154.8 341,154.8 341.5,154.8 342,154.8 342.5,154.8 343,154.8 343.5,154.8 344,154.8 344.5,154.8 345,154.8 345.5,154.8 346,154.8 346.5,154.8 347,154.8 347.5,154.8 348,154.8 348.5,154.8 349,154.8 349.5,154.8 350,154.8 350.5,154.8 351,154.8 351.5,154.8 352,154.8 352.5,154.8 353,154.8 353.5,154.8 354,154.8 354.5,154.8 355,154.8 355.5,154.8 356,154.8 356.5,154.8 357,154.8 357.5,154.8 358,154.8 358.5,154.8 359,154.8 359.5,154.8 360,154.8 360.5,154.8 361,154.8 361.5,154.8 362,154.8 362.5,154.8 363,154.8 363.5,154.8 364,154.8" stroke="#0000ff" stroke-width="1.2"/>
<polyline points="60.5,154.8 61,154.8 61.5,154.8 62,154.8 62.5,154.8 63,154.8 63.5,154.8 64,154.8 64.5,154.8 65,154.8 65.5,154.8 66,154.8 66.5,154.8 67,154.8 67.5,154.8 68,154.8 68.5,154.8 69,154.8 69.5,154.8 70,154.8 70.5,154.8 71,154.8 71.5,154.8 72,154.8 72.5,154.8 73,154.8 73.5,154.8 74,154.8 74.5,154.8 75,154.8 75.5,154.8 76,154.8 76.5,154.8 77,154.8 77.5,154.8 78,154.8 78.5,154.8 79,154.8 79.5,154.8 80,154.8 80.5,154.8 81,154.8 81.5,154.8 82,154.8 82.5,154.8 83,154.8 83.5,154.8 84,154.8 84.5,154.8 85,154.8 85.5,154.8 86,154.8 86.5,154.8 87,154.8 87.5,154.8 88,154.8 88.5,154.8 89,154.8 89.5,154.8 90,154.8 90.5,154.8 91,154.8 91.5,154.8 92,154.8 92.5,154.8 93,154.8 93.5,154.8 94,154.8 94.5,154.8 95,154.8 95.5,154.8 96,154.8 96.5,154.8 97,154.8 97.5,154.8 98,154.8 98.5,154.8 99,154.8 99.5,154.8 100,154.8 100.5,154.8 101,154.8 101.5,154.8 102,154.8 102.5,154.8 103,154.8 103.5,154.8 104,154.8 104.5,154.8 105,154.8 105.5,154.8 106,154.8 106.5,154.8 107,154.8 107.5,154.8 108,154.8 108.5,154.8 109,154.8 109.5,154.8 110,154.8 110.5,154.8 111,154.8 111.5,154.8 112,154.8 112.5,154.8 113,154.8 113.5,154.8 114,154.8 114.5,154.8 115,154.8 115.5,154.8 116,154.8 116.5,154.8 117,154.8 117.5,154.8 118,154.8 118.5,154.8 119,154.8 119.5,154.8 120,154.8 120.5,154.8 121,154.8 121.5,154.8 122,154.8 122.5,154.8 123,154.8 123.5,154.8 124,154.8 124.5,154.8 125,154.8 125.5,154.8 126,154.8 126.5,154.8 127,154.8 127.5,154.8 128,154.8 128.5,154.8 129,154.8 129.5,154.8 130,154.8 130.5,154.8 131,154.8 131.5,154.8 132,154.8 132.5,154.8 133,154.8 133.5,154.8 134,154.8 134.5,154.8 135,154.8 135.5,154.8 136,154.8 136.5,154.8 137,154.8 137.5,154.8 138,154.8 138.5,154.8 139,154.8 139.5,154.8 140,154.8 140.5,154.8 141,154.8 141.5,154.8 142,154.8 142.5,154.8 143,154.8 143.5,154.8 144,154.8 144.5,154.8 145,154.8 145.5,154.8 146,154.8 146.5,154.8 147,154.8 147.5,154.8 148,154.8 148.5,154.8 149,154.8 149.5,154.8 150,154.8 150.5,154.8 151,154.8 151.5,154.8 152,154.8 152.5,154.8 153,154.8 153.5,154.8 154,154.8 154.5,154.8 155,154.8 155.5,154.8 156,154.8 156.5,154.8 157,154.8 157.5,154.8 158,154.8 158.5,154.8 159,154.8 159.5,154.8 160,154.8 160.5,154.8 161,154.8 161.5,154.8 162,154.8 162.5,154.8 163,154.8 163.5,154.8 164,154.8 164.5,154.8 165,154.8 165.5,154.8 166,154.8 166.5,154.8 167,154.8 167.5,154.8 168,154.8 168.5,154.8 169,154.8 169.5,154.8 170,154.8 170.5,154.8 171,154.8 171.5,154.8 172,154.8 172.5,154.8 173,154.8 173.5,154.8 174,154.79 174.5,154.79 175,154.79 175.5,154.79 176,154.78 176.5,154.78 177,154.77 177.5,154.77 178,154.76 178.5,154.75 179,154.74 179.5,154.72 180,154.7 180.5,154.67 181,154.64 181.5,154.61 182,154.56 182.5,154.51 183,154.44 183.5,154.37 184,154.27 184.5,154.16 185,154.04 185.5,153.88 186,153.7 186.5,153.49 187,153.25 187.5,152.96 188,152.64 188.5,152.26 189,151.83 189.5,151.33 190,150.77 190.5,150.14 191,149.42 191.5,148.62 192,147.72 192.5,146.72 193,145.61 193.5,144.39 194,143.05 194.5,141.58 195,139.98 195.5,138.25 196,136.38 196.5,134.37 197,132.23 197.5,129.95 198,127.54 198.5,125.01 199,122.35 199.5,119.58 200,116.72 200.5,113.77 201,110.74 201.5,107.67 202,104.56 202.5,101.44 203,98.32 203.5,95.24 204,92.22 204.5,89.28 205,86.44 205.5,83.74 206,81.2 206.5,78.84 207,76.68 207.5,74.75 208,73.06 208.5,71.64 209,70.5 209.5,69.65 210,69.1 210.5,68.85 211,68.91 211.5,69.28 212,69.95 212.5,70.92 213,72.17 213.5,73.7 214,75.48 214.5,77.51 215,79.75 215.5,82.18 216,84.79 216.5,87.55 217,90.43 217.5,93.41 218,96.46 218.5,99.55 219,102.67 219.5,105.79 220,108.89 220.5,111.95 221,114.94 221.5,117.86 222,120.69 222.5,123.41 223,126.03 223.5,128.51 224,130.87 224.5,133.1 225,135.18 225.5,137.14 226,138.95 226.5,140.63 227,142.18 227.5,143.59 228,144.89 228.5,146.06 229,147.13 229.5,148.09 230,148.95 230.5,149.71 231,150.4 231.5,151 232,151.54 232.5,152 233,152.41 233.5,152.77 234,153.08 234.5,153.35 235,153.58 235.5,153.78 236,153.95 236.5,154.09 237,154.21 237.5,154.31 238,154.4 238.5,154.47 239,154.53 239.5,154.58 240,154.62 240.5,154.66 241,154.68 241.5,154.71 242,154.73 242.5,154.74 243,154.75 243.5,154.76 244,154.77 244.5,154.78 245,154.78 245.5,154.79 246,154.79 246.5,154.79 247,154.79 247.5,154.79 248,154.8 248.5,154.8 249,154.8 249.5,154.8 250,154.8 250.5,154.8 251,154.8 251.5,154.8 252,154.8 252.5,154.8 253,154.8 253.5,154.8 254,154.8 254.5,154.8 255,154.8 255.5,154.8 256,154.8 256.5,154.8 257,154.8 257.5,154.8 258,154.8 258.5,154.8 259,154.8 259.5,154.8 260,154.8 260.5,154.8 261,154.8 261.5,154.8 262,154.8 262.5,154.8 263,154.8 263.5,154.8 264,154.8 264.5,154.8 265,154.8 265.5,154.8 266,154.8 266.5,154.8 267,154.8 267.5,154.8 268,154.8 268.5,154.8 269,154.8 269.5,154.8 270,154.8 270.5,154.8 271,154.8 271.5,154.8 272,154.8 272.5,154.8 273,154.8 273.5,154.8 274,154.8 274.5,154.8 275,154.8 275.5,154.8 276,154.8 276.5,154.8 277,154.8 277.5,154.8 278,154.8 278.5,154.8 279,154.8 279.5,154.8 280,154.8 280.5,154.8 281,154.8 281.5,154.8 282,154.8 282.5,154.8 283,154.8 283.5,154.8 284,154.8 284.5,154.8 285,154.8 285.5,154.8 286,154.8 286.5,154.8 287,154.8 287.5,154.8 288,154.8 288.5,154.8 289,154.8 289.5,154.8 290,154.8 290.5,154.8 291,154.8 291.5,154.8 292,154.8 292.5,154.8 293,154.8 293.5,154.8 294,154.8 294.5,154.8 295,154.8 295.5,154.8 296,154.8 296.5,154.8 297,154.8 297.5,154.8 298,154.8 298.5,154.8 299,154.8 299.5,154.8 300,154.8 300.5,154.8 301,154.8 301.5,154.8 302,154.8 302.5,154.8 303,154.8 303.5,154.8 304,154.8 304.5,154.8 305,154.8 305.5,154.8 306,154.8 306.5,154.8 307,154.8 307.5,154.8 308,154.8 308.5,154.8 309,154.8 309.5,154.8 310,154.8 310.5,154.8 311,154.8 311.5,154.8 312,154.8 312.5,154.8 313,154.8 313.5,154.8 314,154.8 314.5,154.8 315,154.8 315.5,154.8 316,154.8 316.5,154.8 317,154.8 317.5,154.8 318,154.8 318.5,154.8 319,154.8 319.5,154.8 320,154.8 320.5,154.8 321,154.8 321.5,154.8 322,154.8 322.5,154.8 323,154.8 323.5,154.8 324,154.8 324.5,154.8 325,154.8 325.5,154.8 326,154.8 326.5,154.8 327,154.8 327.5,154.8 328,154.8 328.5,154.8 329,154.8 329.5,154.8 330,154.8 330.5,154.8 331,154.8 331.5,154.8 332,154.8 332.5,154.8 333,154.8 333.5,154.8 334,154.8 334.5,154.8 335,154.8 335.5,154.8 336,154.8 336.5,154.8 337,154.8 337.5,154.8 338,154.8 338.5,154.8 339,154.8 339.5,154.8 340,154.8 340.5,154.8 341,154.8 341.5,154.8 342,154.8 342.5,154.8 343,154.8 343.5,154.8 344,154.8 344.5,154.8 345,154.8 345.5,154.8 346,154.8 346.5,154.8 347,154.8 347.5,154.8 348,154.8 348.5,154.8 349,154.8 349.5,154.8 350,154.8 350.5,154.8 351,154.8 351.5,154.8 352,154.8 352.5,154.8 353,154.8 353.5,154.8 354,154.8 354.5,154.8 355,154.8 355.5,154.8 356,154.8 356.5,154.8 357,154.8 357.5,154.8 358,154.8 358.5,154.8 359,154.8 359.5,154.8 360,154.8 360.5,154.8 361,154.8 361.5,154.8 362,154.8 362.5,154.8 363,154.8 363.5,154.8 364,154.8" stroke="#0000ff" stroke-width="1.2"/>
<polyline points="60.5,154.8 61,154.8 61.5,154.8 62,154.8 62.5,154.8 63,154.8 63.5,154.8 64,154.8 64.5,154.8 65,154.8 65.5,154.8 66,154.8 66.5,154.8 67,154.8 67.5,154.8 68,154.8 68.5,154.8 69,154.8 69.5,154.8 70,154.8 70.5,154.8 71,154.8 71.5,154.8 72,154.8 72.5,154.8 73,154.8 73.5,154.8 74,154.8 74.5,154.8 75,154.8 75.5,154.8 76,154.8 76.5,154.8 77,154.8 77.5,154.8 78,154.8 78.5,154.8 79,154.8 79.5,154.8 80,154.8 80.5,154.8 81,154.8 81.5,154.8 82,154.8 82.5,154.8 83,154.79 83.5,154.79 84,154.79 84.5,154.79 85,154.79 85.5,154.78 86,154.78 86.5,154.78 87,154.77 87.5,154.77 88,154.76 88.5,154.75 89,154.74 89.5,154.73 90,154.72 90.5,154.71 91,154.69 91.5,154.67 92,154.65 92.5,154.63 93,154.6 93.5,154.57 94,154.53 94.5,154.49 95,154.44 95.5,154.39 96,154.33 96.5,154.27 97,154.2 97.5,154.12 98,154.03 98.5,153.94 99,153.83 99.5,153.72 100,153.59 100.5,153.45 101,153.31 101.5,153.15 102,152.98 102.5,152.8 103,152.6 103.5,152.4 104,152.18 104.5,151.95 105,151.71 105.5,151.46 106,151.2 106.5,150.94 107,150.66 107.5,150.38 108,150.09 108.5,149.79 109,149.49 109.5,149.19 110,148.9 110.5,148.6 111,148.3 111.5,148.02 112,147.74 112.5,147.47 113,147.21 113.5,146.96 114,146.73 114.5,146.52 115,146.32 115.5,146.15 116,146 116.5,145.87 117,145.76 117.5,145.68 118,145.63 118.5,145.6 119,145.6 119.5,145.62 120,145.67 120.5,145.75 121,145.85 121.5,145.98 122,146.12 122.5,146.3 123,146.49 123.5,146.7 124,146.93 124.5,147.17 125,147.43 125.5,147.69 126,147.97 126.5,148.26 127,148.55 127.5,148.85 128,149.15 128.5,149.45 129,149.75 129.5,150.04 130,150.33 130.5,150.62 131,150.89 131.5,151.16 132,151.43 132.5,151.68 133,151.92 133.5,152.15 134,152.37 134.5,152.57 135,152.77 135.5,152.95 136,153.12 136.5,153.28 137,153.43 137.5,153.57 138,153.7 138.5,153.81 139,153.92 139.5,154.02 140,154.11 140.5,154.19 141,154.26 141.5,154.33 142,154.38 142.5,154.44 143,154.48 143.5,154.52 144,154.56 144.5,154.59 145,154.62 145.5,154.65 146,154.67 146.5,154.69 147,154.71 147.5,154.72 148,154.73 148.5,154.74 149,154.75 149.5,154.76 150,154.77 150.5,154.77 151,154.78 151.5,154.78 152,154.78 152.5,154.79 153,154.79 153.5,154.79 154,154.79 154.5,154.79 155,154.8 155.5,154.8 156,154.8 156.5,154.8 157,154.8 157.5,154.8 158,154.8 158.5,154.8 159,154.8 159.5,154.8 160,154.8 160.5,154.8 161,154.8 161.5,154.8 162,154.8 162.5,154.8 163,154.8 163.5,154.8 164,154.8 164.5,154.8 165,154.8 165.5,154.8 166,154.8 166.5,154.8 167,154.8 167.5,154.8 168,154.8 168.5,154.8 169,154.8 169.5,154.8 170,154.8 170.5,154.8 171,154.8 171.5,154.8 172,154.8 172.5,154.8 173,154.8 173.5,154.8 174,154.8 174.5,154.8 175,154.8 175.5,154.8 176,154.8 176.5,154.8 177,154.8 177.5,154.8 178,154.8 178.5,154.8 179,154.8 179.5,154.8 180,154.8 180.5,154.8 181,154.8 181.5,154.8 182,154.8 182.5,154.8 183,154.8 183.5,154.8 184,154.8 184.5,154.8 185,154.8 185.5,154.8 186,154.8 186.5,154.8 187,154.8 187.5,154.8 188,154.8 188.5,154.8 189,154.8 189.5,154.8 190,154.8 190.5,154.8 191,154.8 191.5,154.8 192,154.8 192.5,154.8 193,154.8 193.5,154.8 194,154.8 194.5,154.8 195,154.8 195.5,154.8 196,154.8 196.5,154.8 197,154.8 197.5,154.8 198,154.8 198.5,154.8 199,154.8 199.5,154.8 200,154.8 200.5,154.8 201,154.8 201.5,154.8 202,154.8 202.5,154.8 203,154.8 203.5,154.8 204,154.8 204.5,154.8 205,154.8 205.5,154.8 206,154.8 206.5,154.8 207,154.8 207.5,154.8 208,154.8 208.5,154.8 209,154.8 209.5,154.8 210,154.8 210.5,154.8 211,154.8 211.5,154.8 212,154.8 212.5,154.8 213,154.8 213.5,154.8 214,154.8 214.5,154.8 215,154.8 215.5,154.8 216,154.8 216.5,154.8 217,154.8 217.5,154.8 218,154.8 218.5,154.8 219,154.8 219.5,154.8 220,154.8 220.5,154.8 221,154.8 221.5,154.8 222,154.8 222.5,154.8 223,154.8 223.5,154.8 224,154.8 224.5,154.8 225,154.8 225.5,154.8 226,154.8 226.5,154.8 227,154.8 227.5,154.8 228,154.8 228.5,154.8 229,154.8 229.5,154.8 230,154.8 230.5,154.8 231,154.8 231.5,154.8 232,154.8 232.5,154.8 233,154.8 233.5,154.8 234,154.8 234.5,154.8 235,154.8 235.5,154.8 236,154.8 236.5,154.8 237,154.8 237.5,154.8 238,154.8 238.5,154.8 239,154.8 239.5,154.8 240,154.8 240.5,154.8 241,154.8 241.5,154.8 242,154.8 242.5,154.8 243,154.8 243.5,154.79 244,154.79 244.5,154.79 245,154.79 245.5,154.79 246,154.78 246.5,154.78 247,154.78 247.5,154.77 248,154.77 248.5,154.76 249,154.75 249.5,154.74 250,154.73 250.5,154.72 251,154.7 251.5,154.68 252,154.66 252.5,154.64 253,154.61 253.5,154.57 254,154.54 254.5,154.49 255,154.44 255.5,154.38 256,154.32 256.5,154.24 257,154.16 257.5,154.06 258,153.96 258.5,153.84 259,153.7 259.5,153.55 260,153.38 260.5,153.2 261,152.99 261.5,152.77 262,152.52 262.5,152.25 263,151.95 263.5,151.62 264,151.27 264.5,150.89 265,150.48 265.5,150.05 266,149.57 266.5,149.07 267,148.54 267.5,147.97 268,147.37 268.5,146.74 269,146.08 269.5,145.39 270,144.67 270.5,143.93 271,143.16 271.5,142.37 272,141.56 272.5,140.73 273,139.89 273.5,139.04 274,138.19 274.5,137.34 275,136.49 275.5,135.65 276,134.82 276.5,134.01 277,133.22 277.5,132.47 278,131.74 278.5,131.06 279,130.42 279.5,129.82 280,129.28 280.5,128.8 281,128.37 281.5,128.01 282,127.71 282.5,127.49 283,127.33 283.5,127.24 284,127.22 284.5,127.28 285,127.41 285.5,127.6 286,127.87 286.5,128.2 287,128.6 287.5,129.06 288,129.58 288.5,130.15 289,130.77 289.5,131.43 290,132.14 290.5,132.88 291,133.66 291.5,134.45 292,135.27 292.5,136.11 293,136.96 293.5,137.81 294,138.66 294.5,139.51 295,140.36 295.5,141.19 296,142.01 296.5,142.81 297,143.59 297.5,144.34 298,145.07 298.5,145.78 299,146.45 299.5,147.1 300,147.71 300.5,148.29 301,148.84 301.5,149.35 302,149.84 302.5,150.29 303,150.72 303.5,151.11 304,151.47 304.5,151.81 305,152.12 305.5,152.4 306,152.66 306.5,152.89 307,153.11 307.5,153.3 308,153.48 308.5,153.64 309,153.78 309.5,153.9 310,154.02 310.5,154.12 311,154.21 311.5,154.29 312,154.36 312.5,154.42 313,154.47 313.5,154.52 314,154.56 314.5,154.59 315,154.62 315.5,154.65 316,154.67 316.5,154.69 317,154.71 317.5,154.72 318,154.74 318.5,154.75 319,154.76 319.5,154.76 320,154.77 320.5,154.77 321,154.78 321.5,154.78 322,154.79 322.5,154.79 323,154.79 323.5,154.79 324,154.79 324.5,154.79 325,154.8 325.5,154.8 326,154.8 326.5,154.8 327,154.8 327.5,154.8 328,154.8 328.5,154.8 329,154.8 329.5,154.8 330,154.8 330.5,154.8 331,154.8 331.5,154.8 332,154.8 332.5,154.8 333,154.8 333.5,154.8 334,154.8 334.5,154.8 335,154.8 335.5,154.8 336,154.8 336.5,154.8 337,154.8 337.5,154.8 338,154.8 338.5,154.8 339,154.8 339.5,154.8 340,154.8 340.5,154.8 341,154.8 341.5,154.8 342,154.8 342.5,154.8 343,154.8 343.5,154.8 344,154.8 344.5,154.8 345,154.8 345.5,154.8 346,154.8 346.5,154.8 347,154.8 347.5,154.8 348,154.8 348.5,154.8 349,154.8 349.5,154.8 350,154.8 350.5,154.8 351,154.8 351.5,154.8 352,154.8 352.5,154.8 353,154.8 353.5,154.8 354,154.8 354.5,154.8 355,154.8 355.5,154.8 356,154.8 356.5,154.8 357,154.8 357.5,154.8 358,154.8 358.5,154.8 359,154.8 359.5,154.8 360,154.8 360.5,154.8 361,154.8 361.5,154.8 362,154.8 362.5,154.8 363,154.8 363.5,154.8 364,154.8" stroke="#00ff00" stroke-width="1.3"/>
<polyline points="60.5,154.8 61,154.8 61.5,154.8 62,154.8 62.5,154.8 63,154.8 63.5,154.8 64,154.8 64.5,154.8 65,154.8 65.5,154.8 66,154.8 66.5,154.8 67,154.8 67.5,154.8 68,154.8 68.5,154.8 69,154.8 69.5,154.8 70,154.8 70.5,154.8 71,154.8 71.5,154.8 72,154.8 72.5,154.8 73,154.8 73.5,154.8 74,154.8 74.5,154.8 75,154.8 75.5,154.8 76,154.8 76.5,154.8 77,154.8 77.5,154.8 78,154.8 78.5,154.8 79,154.8 79.5,154.8 80,154.8 80.5,154.8 81,154.8 81.5,154.8 82,154.8 82.5,154.8 83,154.8 83.5,154.8 84,154.8 84.5,154.8 85,154.8 85.5,154.8 86,154.8 86.5,154.8 87,154.8 87.5,154.8 88,154.8 88.5,154.8 89,154.8 89.5,154.8 90,154.8 90.5,154.8 91,154.8 91.5,154.8 92,154.8 92.5,154.8 93,154.8 93.5,154.8 94,154.8 94.5,154.8 95,154.8 95.5,154.8 96,154.8 96.5,154.8 97,154.8 97.5,154.8 98,154.8 98.5,154.8 99,154.8 99.5,154.8 100,154.8 100.5,154.8 101,154.8 101.5,154.8 102,154.8 102.5,154.8 103,154.8 103.5,154.79 104,154.79 104.5,154.79 105,154.79 105.5,154.79 106,154.78 106.5,154.78 107,154.78 107.5,154.77 108,154.77 108.5,154.76 109,154.75 109.5,154.74 110,154.73 110.5,154.72 111,154.71 111.5,154.69 112,154.67 112.5,154.65 113,154.62 113.5,154.59 114,154.56 114.5,154.52 115,154.48 115.5,154.43 116,154.37 116.5,154.31 117,154.24 117.5,154.17 118,154.08 118.5,153.98 119,153.88 119.5,153.76 120,153.64 120.5,153.5 121,153.35 121.5,153.19 122,153.01 122.5,152.82 123,152.62 123.5,152.4 124,152.17 124.5,151.92 125,151.66 125.5,151.39 126,151.1 126.5,150.81 127,150.5 127.5,150.17 128,149.84 128.5,149.5 129,149.16 129.5,148.8 130,148.45 130.5,148.09 131,147.73 131.5,147.38 132,147.03 132.5,146.69 133,146.35 133.5,146.03 134,145.72 134.5,145.43 135,145.15 135.5,144.9 136,144.67 136.5,144.46 137,144.28 137.5,144.13 138,144 138.5,143.91 139,143.84 139.5,143.81 140,143.81 140.5,143.84 141,143.9 141.5,143.99 142,144.11 142.5,144.26 143,144.44 143.5,144.65 144,144.88 144.5,145.13 145,145.4 145.5,145.69 146,146 146.5,146.32 147,146.66 147.5,147 148,147.35 148.5,147.7 149,148.06 149.5,148.42 150,148.77 150.5,149.13 151,149.47 151.5,149.81 152,150.14 152.5,150.47 153,150.78 153.5,151.08 154,151.37 154.5,151.64 155,151.9 155.5,152.15 156,152.38 156.5,152.6 157,152.8 157.5,152.99 158,153.17 158.5,153.34 159,153.49 159.5,153.63 160,153.75 160.5,153.87 161,153.98 161.5,154.07 162,154.16 162.5,154.24 163,154.31 163.5,154.37 164,154.42 164.5,154.47 165,154.52 165.5,154.56 166,154.59 166.5,154.62 167,154.64 167.5,154.67 168,154.69 168.5,154.7 169,154.72 169.5,154.73 170,154.74 170.5,154.75 171,154.76 171.5,154.77 172,154.77 172.5,154.78 173,154.78 173.5,154.78 174,154.79 174.5,154.79 175,154.79 175.5,154.79 176,154.79 176.5,154.8 177,154.8 177.5,154.8 178,154.8 178.5,154.8 179,154.8 179.5,154.8 180,154.8 180.5,154.8 181,154.8 181.5,154.8 182,154.8 182.5,154.8 183,154.8 183.5,154.8 184,154.8 184.5,154.8 185,154.8 185.5,154.8 186,154.8 186.5,154.8 187,154.8 187.5,154.8 188,154.8 188.5,154.8 189,154.8 189.5,154.8 190,154.8 190.5,154.8 191,154.8 191.5,154.8 192,154.8 192.5,154.8 193,154.8 193.5,154.8 194,154.8 194.5,154.8 195,154.8 195.5,154.8 196,154.8 196.5,154.8 197,154.8 197.5,154.8 198,154.8 198.5,154.8 199,154.8 199.5,154.8 200,154.8 200.5,154.8 201,154.8 201.5,154.8 202,154.8 202.5,154.8 203,154.8 203.5,154.8 204,154.8 204.5,154.8 205,154.8 205.5,154.8 206,154.8 206.5,154.8 207,154.8 207.5,154.8 208,154.8 208.5,154.8 209,154.8 209.5,154.8 210,154.8 210.5,154.8 211,154.8 211.5,154.8 212,154.8 212.5,154.8 213,154.8 213.5,154.8 214,154.8 214.5,154.8 215,154.8 215.5,154.8 216,154.8 216.5,154.8 217,154.8 217.5,154.8 218,154.8 218.5,154.8 219,154.8 219.5,154.8 220,154.8 220.5,154.8 221,154.8 221.5,154.8 222,154.8 222.5,154.8 223,154.8 223.5,154.8 224,154.8 224.5,154.8 225,154.8 225.5,154.8 226,154.8 226.5,154.8 227,154.8 227.5,154.8 228,154.8 228.5,154.8 229,154.8 229.5,154.8 230,154.8 230.5,154.8 231,154.8 231.5,154.8 232,154.8 232.5,154.8 233,154.8 233.5,154.8 234,154.8 234.5,154.8 235,154.8 235.5,154.8 236,154.8 236.5,154.8 237,154.8 237.5,154.8 238,154.8 238.5,154.8 239,154.8 239.5,154.8 240,154.8 240.5,154.8 241,154.8 241.5,154.8 242,154.8 242.5,154.8 243,154.8 243.5,154.8 244,154.8 244.5,154.8 245,154.8 245.5,154.8 246,154.8 246.5,154.8 247,154.8 247.5,154.8 248,154.8 248.5,154.8 249,154.8 249.5,154.8 250,154.8 250.5,154.8 251,154.8 251.5,154.8 252,154.8 252.5,154.8 253,154.8 253.5,154.8 254,154.8 254.5,154.8 255,154.8 255.5,154.8 256,154.8 256.5,154.8 257,154.8 257.5,154.8 258,154.8 258.5,154.8 259,154.8 259.5,154.8 260,154.8 260.5,154.8 261,154.8 261.5,154.8 262,154.8 262.5,154.8 263,154.8 263.5,154.8 264,154.79 264.5,154.79 265,154.79 265.5,154.79 266,154.79 266.5,154.79 267,154.78 267.5,154.78 268,154.78 268.5,154.77 269,154.76 269.5,154.76 270,154.75 270.5,154.74 271,154.73 271.5,154.71 272,154.7 272.5,154.68 273,154.65 273.5,154.63 274,154.6 274.5,154.56 275,154.52 275.5,154.48 276,154.43 276.5,154.37 277,154.3 277.5,154.22 278,154.14 278.5,154.04 279,153.93 279.5,153.8 280,153.66 280.5,153.51 281,153.33 281.5,153.14 282,152.93 282.5,152.69 283,152.43 283.5,152.15 284,151.84 284.5,151.5 285,151.13 285.5,150.74 286,150.3 286.5,149.84 287,149.34 287.5,148.81 288,148.24 288.5,147.63 289,146.99 289.5,146.31 290,145.59 290.5,144.84 291,144.06 291.5,143.24 292,142.39 292.5,141.51 293,140.6 293.5,139.67 294,138.72 294.5,137.75 295,136.77 295.5,135.78 296,134.78 296.5,133.79 297,132.8 297.5,131.82 298,130.85 298.5,129.91 299,129 299.5,128.11 300,127.27 300.5,126.47 301,125.72 301.5,125.02 302,124.38 302.5,123.81 303,123.3 303.5,122.86 304,122.5 304.5,122.22 305,122.01 305.5,121.89 306,121.85 306.5,121.89 307,122.01 307.5,122.21 308,122.49 308.5,122.85 309,123.28 309.5,123.78 310,124.36 310.5,124.99 311,125.68 311.5,126.43 312,127.23 312.5,128.07 313,128.96 313.5,129.87 314,130.81 314.5,131.77 315,132.75 315.5,133.74 316,134.74 316.5,135.74 317,136.73 317.5,137.71 318,138.68 318.5,139.63 319,140.56 319.5,141.47 320,142.35 320.5,143.2 321,144.02 321.5,144.81 322,145.56 322.5,146.28 323,146.96 323.5,147.6 324,148.21 324.5,148.78 325,149.32 325.5,149.82 326,150.28 326.5,150.72 327,151.12 327.5,151.49 328,151.83 328.5,152.14 329,152.42 329.5,152.68 330,152.92 330.5,153.13 331,153.32 331.5,153.5 332,153.66 332.5,153.8 333,153.92 333.5,154.03 334,154.13 334.5,154.22 335,154.3 335.5,154.36 336,154.42 336.5,154.48 337,154.52 337.5,154.56 338,154.6 338.5,154.63 339,154.65 339.5,154.68 340,154.69 340.5,154.71 341,154.73 341.5,154.74 342,154.75 342.5,154.76 343,154.76 343.5,154.77 344,154.77 344.5,154.78 345,154.78 345.5,154.79 346,154.79 346.5,154.79 347,154.79 347.5,154.79 348,154.79 348.5,154.8 349,154.8 349.5,154.8 350,154.8 350.5,154.8 351,154.8 351.5,154.8 352,154.8 352.5,154.8 353,154.8 353.5,154.8 354,154.8 354.5,154.8 355,154.8 355.5,154.8 356,154.8 356.5,154.8 357,154.8 357.5,154.8 358,154.8 358.5,154.8 359,154.8 359.5,154.8 360,154.8 360.5,154.8 361,154.8 361.5,154.8 362,154.8 362.5,154.8 363,154.8 363.5,154.8 364,154.8" stroke="#ff6868" stroke-width="1.15"/>
<polyline points="51.93,126.75 58.99,126.75 66.05,126.75 73.11,126.74 80.17,126.7 87.23,126.52 94.29,125.96 101.35,124.58 108.41,122.01 115.47,118.47 122.53,115.2 129.59,113.86 136.65,115.25 143.71,118.54 150.77,121.92 157.83,123.57 164.89,121.17 171.95,110.65 179.01,88.38 186.07,57.89 193.13,32.46 200.19,24.32 207.25,33.85 214.31,60.21 221.37,90.5 228.43,112.07 235.49,122.4 242.55,125.77 249.61,126.3 256.67,125.53 263.73,122.98 270.79,117.37 277.85,108.1 284.91,97.11 291.97,89.1 299.03,88.52 306.09,95.71 313.15,106.61 320.21,116.3 327.27,122.42 334.33,125.32 341.39,126.37 348.45,126.67 355.51,126.74 362.57,126.75 369.63,126.75 376.69,126.75" stroke="#ff0000" stroke-width="1.6" stroke-dasharray="2.6,2.4"/>
<polyline points="51.93,126.75 58.99,126.75 66.05,126.75 73.11,126.75 80.17,126.75 87.23,126.72 94.29,126.46 101.35,125.15 108.41,121.76 115.47,117.75 122.53,116.27 129.59,115.99 136.65,114.89 143.71,116.44 150.77,121.22 157.83,124.76 164.89,123.7 171.95,112.5 179.01,84.75 186.07,54.75 193.13,48.58 200.19,49.4 207.25,35.48 214.31,46.45 221.37,88.83 228.43,117.85 235.49,125.73 242.55,126.69 249.61,126.69 256.67,126.17 263.73,123.42 270.79,115.37 277.85,103.27 284.91,95.73 291.97,94.82 299.03,92.59 306.09,91.71 313.15,100.87 320.21,114.64 327.27,123.27 334.33,126.14 341.39,126.69 348.45,126.75 355.51,126.75 362.57,126.75 369.63,126.75 376.69,126.75" stroke="#ff0000" stroke-width="1.7"/>
<path d="M55.46 126.75H62.52V126.75H69.58V126.75H76.64V126.65H83.7V126.47H90.76V126.22H97.82V125.68H104.88V122.31H111.94V119.7H119V117.08H126.06V116.01H133.12V116.01H140.18V116.73H147.24V120.56H154.3V123.96H161.36V123.57H168.42V108.85H175.48V80.55H182.54V56.55H189.6V46.16H196.66V43.66H203.72V35.06H210.78V44.37H217.84V83.06H224.9V116.19H231.96V125.43H239.02V126.5H246.08V126.58H253.14V126.4H260.2V123.53H267.26V114.93H274.32V103.83H281.38V96.67H288.44V94.16H295.5V92.01H302.56V90.04H309.62V100.97H316.68V116.37H323.74V124.1H330.8V126.4H337.86V126.75H344.92V126.75H351.98V126.75H359.04V126.75H366.1V126.75H373.16" stroke="#008000" stroke-width="1.3" stroke-linejoin="miter"/>
</g>
<g font-family="'Liberation Sans', sans-serif" fill="#626262">
<text x="87.2" y="207.95" font-size="12" textLength="115.3" lengthAdjust="spacing">Companion galaxy:</text>
<text x="211.4" y="207.95" font-size="12" textLength="124.6" lengthAdjust="spacing">0720–52206–0299</text>
<text x="83.82" y="365.05" font-size="11" text-anchor="middle">6540</text>
<text x="130.45" y="365.05" font-size="11" text-anchor="middle">6550</text>
<text x="177.08" y="365.05" font-size="11" text-anchor="middle">6560</text>
<text x="223.71" y="365.05" font-size="11" text-anchor="middle">6570</text>
<text x="270.34" y="365.05" font-size="11" text-anchor="middle">6580</text>
<text x="316.97" y="365.05" font-size="11" text-anchor="middle">6590</text>
<text x="363.6" y="365.05" font-size="11" text-anchor="middle">6600</text>
<text x="212" y="377.65" font-size="11" text-anchor="middle" textLength="98" lengthAdjust="spacing">rest wavelength (&#197;)</text>
<text x="56.8" y="325.7" font-size="11" text-anchor="end">0</text>
<text x="56.8" y="289.89" font-size="11" text-anchor="end">100</text>
<text x="56.8" y="254.07" font-size="11" text-anchor="end">200</text>
<text x="56.8" y="221.55" font-size="11" text-anchor="end">300</text>
<text transform="translate(29.6,282.5) rotate(-90)" font-size="11" text-anchor="middle" textLength="117" lengthAdjust="spacing">f<tspan font-size="8" dy="2.5">&#955;</tspan><tspan dy="-2.5"> (10</tspan><tspan font-size="7.5" dy="-4">&#8722;17</tspan><tspan dy="4">erg/s/cm</tspan><tspan font-size="7.5" dy="-4">2</tspan><tspan dy="4">/&#197;)</tspan></text>
</g>
<path d="M60.5 213.55H363.6V349.05H60.5ZM60.5 349.05v-1.35M60.5 213.55v1.35M65.16 349.05v-1.35M65.16 213.55v1.35M69.83 349.05v-1.35M69.83 213.55v1.35M74.49 349.05v-1.35M74.49 213.55v1.35M79.15 349.05v-1.35M79.15 213.55v1.35M83.82 349.05v-2.7M83.82 213.55v2.7M88.48 349.05v-1.35M88.48 213.55v1.35M93.14 349.05v-1.35M93.14 213.55v1.35M97.8 349.05v-1.35M97.8 213.55v1.35M102.47 349.05v-1.35M102.47 213.55v1.35M107.13 349.05v-1.35M107.13 213.55v1.35M111.79 349.05v-1.35M111.79 213.55v1.35M116.46 349.05v-1.35M116.46 213.55v1.35M121.12 349.05v-1.35M121.12 213.55v1.35M125.78 349.05v-1.35M125.78 213.55v1.35M130.45 349.05v-2.7M130.45 213.55v2.7M135.11 349.05v-1.35M135.11 213.55v1.35M139.77 349.05v-1.35M139.77 213.55v1.35M144.44 349.05v-1.35M144.44 213.55v1.35M149.1 349.05v-1.35M149.1 213.55v1.35M153.76 349.05v-1.35M153.76 213.55v1.35M158.42 349.05v-1.35M158.42 213.55v1.35M163.09 349.05v-1.35M163.09 213.55v1.35M167.75 349.05v-1.35M167.75 213.55v1.35M172.41 349.05v-1.35M172.41 213.55v1.35M177.08 349.05v-2.7M177.08 213.55v2.7M181.74 349.05v-1.35M181.74 213.55v1.35M186.4 349.05v-1.35M186.4 213.55v1.35M191.07 349.05v-1.35M191.07 213.55v1.35M195.73 349.05v-1.35M195.73 213.55v1.35M200.39 349.05v-1.35M200.39 213.55v1.35M205.06 349.05v-1.35M205.06 213.55v1.35M209.72 349.05v-1.35M209.72 213.55v1.35M214.38 349.05v-1.35M214.38 213.55v1.35M219.04 349.05v-1.35M219.04 213.55v1.35M223.71 349.05v-2.7M223.71 213.55v2.7M228.37 349.05v-1.35M228.37 213.55v1.35M233.03 349.05v-1.35M233.03 213.55v1.35M237.7 349.05v-1.35M237.7 213.55v1.35M242.36 349.05v-1.35M242.36 213.55v1.35M247.02 349.05v-1.35M247.02 213.55v1.35M251.69 349.05v-1.35M251.69 213.55v1.35M256.35 349.05v-1.35M256.35 213.55v1.35M261.01 349.05v-1.35M261.01 213.55v1.35M265.68 349.05v-1.35M265.68 213.55v1.35M270.34 349.05v-2.7M270.34 213.55v2.7M275 349.05v-1.35M275 213.55v1.35M279.66 349.05v-1.35M279.66 213.55v1.35M284.33 349.05v-1.35M284.33 213.55v1.35M288.99 349.05v-1.35M288.99 213.55v1.35M293.65 349.05v-1.35M293.65 213.55v1.35M298.32 349.05v-1.35M298.32 213.55v1.35M302.98 349.05v-1.35M302.98 213.55v1.35M307.64 349.05v-1.35M307.64 213.55v1.35M312.31 349.05v-1.35M312.31 213.55v1.35M316.97 349.05v-2.7M316.97 213.55v2.7M321.63 349.05v-1.35M321.63 213.55v1.35M326.3 349.05v-1.35M326.3 213.55v1.35M330.96 349.05v-1.35M330.96 213.55v1.35M335.62 349.05v-1.35M335.62 213.55v1.35M340.28 349.05v-1.35M340.28 213.55v1.35M344.95 349.05v-1.35M344.95 213.55v1.35M349.61 349.05v-1.35M349.61 213.55v1.35M354.27 349.05v-1.35M354.27 213.55v1.35M358.94 349.05v-1.35M358.94 213.55v1.35M363.6 349.05v-2.7M363.6 213.55v2.7M60.5 346.08h3M363.6 346.08h-3M60.5 342.5h3M363.6 342.5h-3M60.5 338.91h3M363.6 338.91h-3M60.5 335.33h3M363.6 335.33h-3M60.5 331.75h3M363.6 331.75h-3M60.5 328.17h3M363.6 328.17h-3M60.5 324.59h3M363.6 324.59h-3M60.5 321h6M363.6 321h-6M60.5 317.42h3M363.6 317.42h-3M60.5 313.84h3M363.6 313.84h-3M60.5 310.26h3M363.6 310.26h-3M60.5 306.68h3M363.6 306.68h-3M60.5 303.1h3M363.6 303.1h-3M60.5 299.51h3M363.6 299.51h-3M60.5 295.93h3M363.6 295.93h-3M60.5 292.35h3M363.6 292.35h-3M60.5 288.77h3M363.6 288.77h-3M60.5 285.19h6M363.6 285.19h-6M60.5 281.6h3M363.6 281.6h-3M60.5 278.02h3M363.6 278.02h-3M60.5 274.44h3M363.6 274.44h-3M60.5 270.86h3M363.6 270.86h-3M60.5 267.28h3M363.6 267.28h-3M60.5 263.7h3M363.6 263.7h-3M60.5 260.11h3M363.6 260.11h-3M60.5 256.53h3M363.6 256.53h-3M60.5 252.95h3M363.6 252.95h-3M60.5 249.37h6M363.6 249.37h-6M60.5 245.79h3M363.6 245.79h-3M60.5 242.2h3M363.6 242.2h-3M60.5 238.62h3M363.6 238.62h-3M60.5 235.04h3M363.6 235.04h-3M60.5 231.46h3M363.6 231.46h-3M60.5 227.88h3M363.6 227.88h-3M60.5 224.3h3M363.6 224.3h-3M60.5 220.71h3M363.6 220.71h-3M60.5 217.13h3M363.6 217.13h-3M60.5 213.55h6M363.6 213.55h-6" fill="none" stroke="#b8b8b8" stroke-width="1"/>
<g clip-path="url(#c1)" fill="none" stroke-linejoin="round">
<polyline points="60.5,349.05 61,349.05 61.5,349.05 62,349.05 62.5,349.05 63,349.05 63.5,349.05 64,349.05 64.5,349.05 65,349.05 65.5,349.05 66,349.05 66.5,349.05 67,349.05 67.5,349.05 68,349.05 68.5,349.05 69,349.05 69.5,349.05 70,349.05 70.5,349.05 71,349.05 71.5,349.05 72,349.05 72.5,349.05 73,349.05 73.5,349.05 74,349.05 74.5,349.05 75,349.05 75.5,349.05 76,349.05 76.5,349.05 77,349.05 77.5,349.05 78,349.05 78.5,349.05 79,349.05 79.5,349.05 80,349.05 80.5,349.05 81,349.05 81.5,349.05 82,349.05 82.5,349.05 83,349.05 83.5,349.05 84,349.05 84.5,349.05 85,349.05 85.5,349.05 86,349.05 86.5,349.05 87,349.05 87.5,349.05 88,349.05 88.5,349.05 89,349.05 89.5,349.05 90,349.05 90.5,349.05 91,349.05 91.5,349.05 92,349.05 92.5,349.05 93,349.05 93.5,349.05 94,349.05 94.5,349.05 95,349.05 95.5,349.05 96,349.05 96.5,349.05 97,349.05 97.5,349.05 98,349.05 98.5,349.05 99,349.05 99.5,349.05 100,349.05 100.5,349.05 101,349.05 101.5,349.05 102,349.05 102.5,349.05 103,349.05 103.5,349.05 104,349.05 104.5,349.05 105,349.05 105.5,349.05 106,349.05 106.5,349.05 107,349.05 107.5,349.05 108,349.05 108.5,349.05 109,349.05 109.5,349.05 110,349.05 110.5,349.05 111,349.05 111.5,349.05 112,349.05 112.5,349.05 113,349.05 113.5,349.05 114,349.05 114.5,349.05 115,349.05 115.5,349.05 116,349.05 116.5,349.05 117,349.05 117.5,349.05 118,349.05 118.5,349.05 119,349.05 119.5,349.05 120,349.05 120.5,349.05 121,349.05 121.5,349.05 122,349.05 122.5,349.05 123,349.05 123.5,349.05 124,349.05 124.5,349.05 125,349.05 125.5,349.05 126,349.05 126.5,349.05 127,349.05 127.5,349.05 128,349.05 128.5,349.05 129,349.05 129.5,349.05 130,349.05 130.5,349.05 131,349.05 131.5,349.05 132,349.05 132.5,349.05 133,349.05 133.5,349.05 134,349.05 134.5,349.05 135,349.05 135.5,349.05 136,349.05 136.5,349.05 137,349.05 137.5,349.05 138,349.05 138.5,349.05 139,349.05 139.5,349.05 140,349.05 140.5,349.05 141,349.05 141.5,349.05 142,349.05 142.5,349.05 143,349.05 143.5,349.05 144,349.05 144.5,349.05 145,349.05 145.5,349.05 146,349.05 146.5,349.05 147,349.05 147.5,349.05 148,349.05 148.5,349.05 149,349.05 149.5,349.05 150,349.05 150.5,349.05 151,349.05 151.5,349.05 152,349.05 152.5,349.05 153,349.05 153.5,349.05 154,349.05 154.5,349.05 155,349.05 155.5,349.05 156,349.05 156.5,349.05 157,349.05 157.5,349.05 158,349.05 158.5,349.05 159,349.05 159.5,349.05 160,349.05 160.5,349.05 161,349.05 161.5,349.04 162,349.04 162.5,349.04 163,349.04 163.5,349.04 164,349.04 164.5,349.04 165,349.03 165.5,349.03 166,349.03 166.5,349.02 167,349.02 167.5,349.01 168,349.01 168.5,349 169,348.99 169.5,348.99 170,348.98 170.5,348.96 171,348.95 171.5,348.94 172,348.92 172.5,348.9 173,348.88 173.5,348.85 174,348.83 174.5,348.79 175,348.76 175.5,348.72 176,348.67 176.5,348.62 177,348.57 177.5,348.51 178,348.44 178.5,348.36 179,348.27 179.5,348.17 180,348.07 180.5,347.95 181,347.82 181.5,347.67 182,347.51 182.5,347.34 183,347.15 183.5,346.94 184,346.71 184.5,346.45 185,346.18 185.5,345.88 186,345.56 186.5,345.2 187,344.82 187.5,344.41 188,343.96 188.5,343.48 189,342.96 189.5,342.41 190,341.81 190.5,341.17 191,340.49 191.5,339.76 192,338.99 192.5,338.17 193,337.29 193.5,336.37 194,335.39 194.5,334.36 195,333.28 195.5,332.14 196,330.94 196.5,329.69 197,328.38 197.5,327.02 198,325.6 198.5,324.12 199,322.59 199.5,321.01 200,319.38 200.5,317.7 201,315.97 201.5,314.2 202,312.38 202.5,310.53 203,308.65 203.5,306.73 204,304.79 204.5,302.83 205,300.85 205.5,298.86 206,296.86 206.5,294.87 207,292.88 207.5,290.9 208,288.94 208.5,287.01 209,285.11 209.5,283.24 210,281.42 210.5,279.66 211,277.95 211.5,276.3 212,274.73 212.5,273.24 213,271.82 213.5,270.5 214,269.27 214.5,268.14 215,267.11 215.5,266.2 216,265.39 216.5,264.7 217,264.13 217.5,263.69 218,263.36 218.5,263.16 219,263.09 219.5,263.14 220,263.32 220.5,263.62 221,264.05 221.5,264.59 222,265.26 222.5,266.04 223,266.94 223.5,267.95 224,269.06 224.5,270.27 225,271.58 225.5,272.98 226,274.46 226.5,276.02 227,277.65 227.5,279.35 228,281.11 228.5,282.92 229,284.77 229.5,286.67 230,288.59 230.5,290.55 231,292.52 231.5,294.51 232,296.51 232.5,298.5 233,300.49 233.5,302.48 234,304.44 234.5,306.39 235,308.31 235.5,310.2 236,312.06 236.5,313.88 237,315.66 237.5,317.39 238,319.08 238.5,320.73 239,322.32 239.5,323.85 240,325.34 240.5,326.77 241,328.14 241.5,329.46 242,330.72 242.5,331.93 243,333.08 243.5,334.17 244,335.21 244.5,336.2 245,337.13 245.5,338.01 246,338.85 246.5,339.63 247,340.36 247.5,341.05 248,341.7 248.5,342.3 249,342.87 249.5,343.39 250,343.88 250.5,344.33 251,344.75 251.5,345.14 252,345.49 252.5,345.82 253,346.13 253.5,346.41 254,346.66 254.5,346.9 255,347.11 255.5,347.31 256,347.48 256.5,347.65 257,347.79 257.5,347.93 258,348.05 258.5,348.16 259,348.25 259.5,348.34 260,348.42 260.5,348.49 261,348.56 261.5,348.62 262,348.67 262.5,348.71 263,348.75 263.5,348.79 264,348.82 264.5,348.85 265,348.87 265.5,348.9 266,348.92 266.5,348.93 267,348.95 267.5,348.96 268,348.97 268.5,348.98 269,348.99 269.5,349 270,349.01 270.5,349.01 271,349.02 271.5,349.02 272,349.03 272.5,349.03 273,349.03 273.5,349.04 274,349.04 274.5,349.04 275,349.04 275.5,349.04 276,349.04 276.5,349.04 277,349.05 277.5,349.05 278,349.05 278.5,349.05 279,349.05 279.5,349.05 280,349.05 280.5,349.05 281,349.05 281.5,349.05 282,349.05 282.5,349.05 283,349.05 283.5,349.05 284,349.05 284.5,349.05 285,349.05 285.5,349.05 286,349.05 286.5,349.05 287,349.05 287.5,349.05 288,349.05 288.5,349.05 289,349.05 289.5,349.05 290,349.05 290.5,349.05 291,349.05 291.5,349.05 292,349.05 292.5,349.05 293,349.05 293.5,349.05 294,349.05 294.5,349.05 295,349.05 295.5,349.05 296,349.05 296.5,349.05 297,349.05 297.5,349.05 298,349.05 298.5,349.05 299,349.05 299.5,349.05 300,349.05 300.5,349.05 301,349.05 301.5,349.05 302,349.05 302.5,349.05 303,349.05 303.5,349.05 304,349.05 304.5,349.05 305,349.05 305.5,349.05 306,349.05 306.5,349.05 307,349.05 307.5,349.05 308,349.05 308.5,349.05 309,349.05 309.5,349.05 310,349.05 310.5,349.05 311,349.05 311.5,349.05 312,349.05 312.5,349.05 313,349.05 313.5,349.05 314,349.05 314.5,349.05 315,349.05 315.5,349.05 316,349.05 316.5,349.05 317,349.05 317.5,349.05 318,349.05 318.5,349.05 319,349.05 319.5,349.05 320,349.05 320.5,349.05 321,349.05 321.5,349.05 322,349.05 322.5,349.05 323,349.05 323.5,349.05 324,349.05 324.5,349.05 325,349.05 325.5,349.05 326,349.05 326.5,349.05 327,349.05 327.5,349.05 328,349.05 328.5,349.05 329,349.05 329.5,349.05 330,349.05 330.5,349.05 331,349.05 331.5,349.05 332,349.05 332.5,349.05 333,349.05 333.5,349.05 334,349.05 334.5,349.05 335,349.05 335.5,349.05 336,349.05 336.5,349.05 337,349.05 337.5,349.05 338,349.05 338.5,349.05 339,349.05 339.5,349.05 340,349.05 340.5,349.05 341,349.05 341.5,349.05 342,349.05 342.5,349.05 343,349.05 343.5,349.05 344,349.05 344.5,349.05 345,349.05 345.5,349.05 346,349.05 346.5,349.05 347,349.05 347.5,349.05 348,349.05 348.5,349.05 349,349.05 349.5,349.05 350,349.05 350.5,349.05 351,349.05 351.5,349.05 352,349.05 352.5,349.05 353,349.05 353.5,349.05 354,349.05 354.5,349.05 355,349.05 355.5,349.05 356,349.05 356.5,349.05 357,349.05 357.5,349.05 358,349.05 358.5,349.05 359,349.05 359.5,349.05 360,349.05 360.5,349.05 361,349.05 361.5,349.05 362,349.05 362.5,349.05 363,349.05 363.5,349.05 364,349.05" stroke="#4848ff" stroke-width="0.85" stroke-dasharray="1.6,0.8"/>
<polyline points="60.5,349.05 61,349.05 61.5,349.05 62,349.05 62.5,349.05 63,349.05 63.5,349.05 64,349.05 64.5,349.05 65,349.05 65.5,349.05 66,349.05 66.5,349.05 67,349.05 67.5,349.05 68,349.05 68.5,349.05 69,349.05 69.5,349.05 70,349.05 70.5,349.05 71,349.05 71.5,349.05 72,349.05 72.5,349.05 73,349.05 73.5,349.05 74,349.05 74.5,349.05 75,349.05 75.5,349.05 76,349.05 76.5,349.05 77,349.05 77.5,349.05 78,349.05 78.5,349.05 79,349.05 79.5,349.05 80,349.05 80.5,349.05 81,349.05 81.5,349.05 82,349.05 82.5,349.05 83,349.05 83.5,349.05 84,349.05 84.5,349.05 85,349.05 85.5,349.05 86,349.05 86.5,349.05 87,349.05 87.5,349.05 88,349.05 88.5,349.05 89,349.05 89.5,349.05 90,349.05 90.5,349.05 91,349.05 91.5,349.05 92,349.05 92.5,349.05 93,349.05 93.5,349.05 94,349.05 94.5,349.05 95,349.05 95.5,349.05 96,349.05 96.5,349.05 97,349.05 97.5,349.05 98,349.05 98.5,349.05 99,349.05 99.5,349.05 100,349.05 100.5,349.05 101,349.05 101.5,349.05 102,349.05 102.5,349.05 103,349.05 103.5,349.05 104,349.05 104.5,349.05 105,349.05 105.5,349.05 106,349.05 106.5,349.05 107,349.05 107.5,349.05 108,349.05 108.5,349.05 109,349.05 109.5,349.05 110,349.05 110.5,349.05 111,349.05 111.5,349.05 112,349.05 112.5,349.05 113,349.05 113.5,349.05 114,349.05 114.5,349.05 115,349.05 115.5,349.05 116,349.05 116.5,349.05 117,349.05 117.5,349.05 118,349.05 118.5,349.05 119,349.05 119.5,349.05 120,349.05 120.5,349.05 121,349.05 121.5,349.05 122,349.05 122.5,349.05 123,349.05 123.5,349.05 124,349.05 124.5,349.05 125,349.05 125.5,349.05 126,349.05 126.5,349.05 127,349.05 127.5,349.05 128,349.05 128.5,349.05 129,349.05 129.5,349.05 130,349.05 130.5,349.05 131,349.05 131.5,349.05 132,349.05 132.5,349.05 133,349.05 133.5,349.05 134,349.05 134.5,349.05 135,349.05 135.5,349.05 136,349.05 136.5,349.05 137,349.05 137.5,349.05 138,349.05 138.5,349.05 139,349.05 139.5,349.05 140,349.05 140.5,349.05 141,349.05 141.5,349.05 142,349.05 142.5,349.05 143,349.05 143.5,349.05 144,349.05 144.5,349.05 145,349.05 145.5,349.05 146,349.05 146.5,349.05 147,349.05 147.5,349.05 148,349.05 148.5,349.05 149,349.05 149.5,349.05 150,349.05 150.5,349.05 151,349.05 151.5,349.05 152,349.05 152.5,349.05 153,349.05 153.5,349.05 154,349.05 154.5,349.05 155,349.05 155.5,349.05 156,349.05 156.5,349.05 157,349.05 157.5,349.05 158,349.05 158.5,349.05 159,349.05 159.5,349.05 160,349.05 160.5,349.05 161,349.05 161.5,349.05 162,349.05 162.5,349.05 163,349.05 163.5,349.05 164,349.05 164.5,349.05 165,349.05 165.5,349.05 166,349.05 166.5,349.05 167,349.05 167.5,349.05 168,349.05 168.5,349.05 169,349.05 169.5,349.05 170,349.05 170.5,349.05 171,349.05 171.5,349.05 172,349.05 172.5,349.05 173,349.05 173.5,349.05 174,349.05 174.5,349.05 175,349.05 175.5,349.05 176,349.05 176.5,349.05 177,349.05 177.5,349.05 178,349.05 178.5,349.05 179,349.05 179.5,349.05 180,349.05 180.5,349.05 181,349.05 181.5,349.05 182,349.05 182.5,349.05 183,349.05 183.5,349.05 184,349.05 184.5,349.05 185,349.05 185.5,349.05 186,349.05 186.5,349.05 187,349.05 187.5,349.05 188,349.05 188.5,349.05 189,349.05 189.5,349.05 190,349.05 190.5,349.05 191,349.05 191.5,349.05 192,349.05 192.5,349.05 193,349.05 193.5,349.05 194,349.05 194.5,349.05 195,349.05 195.5,349.05 196,349.05 196.5,349.05 197,349.05 197.5,349.05 198,349.05 198.5,349.05 199,349.05 199.5,349.05 200,349.05 200.5,349.05 201,349.05 201.5,349.05 202,349.05 202.5,349.05 203,349.05 203.5,349.05 204,349.05 204.5,349.05 205,349.05 205.5,349.05 206,349.05 206.5,349.05 207,349.05 207.5,349.05 208,349.05 208.5,349.05 209,349.05 209.5,349.05 210,349.05 210.5,349.05 211,349.05 211.5,349.05 212,349.05 212.5,349.05 213,349.05 213.5,349.05 214,349.05 214.5,349.05 215,349.05 215.5,349.05 216,349.05 216.5,349.05 217,349.05 217.5,349.05 218,349.05 218.5,349.05 219,349.05 219.5,349.05 220,349.05 220.5,349.05 221,349.05 221.5,349.05 222,349.05 222.5,349.05 223,349.05 223.5,349.05 224,349.05 224.5,349.05 225,349.05 225.5,349.05 226,349.05 226.5,349.05 227,349.05 227.5,349.05 228,349.05 228.5,349.05 229,349.05 229.5,349.05 230,349.05 230.5,349.05 231,349.05 231.5,349.05 232,349.05 232.5,349.05 233,349.05 233.5,349.05 234,349.05 234.5,349.05 235,349.05 235.5,349.05 236,349.05 236.5,349.05 237,349.05 237.5,349.05 238,349.05 238.5,349.05 239,349.05 239.5,349.05 240,349.05 240.5,349.05 241,349.05 241.5,349.05 242,349.05 242.5,349.05 243,349.05 243.5,349.05 244,349.05 244.5,349.05 245,349.05 245.5,349.05 246,349.05 246.5,349.05 247,349.05 247.5,349.05 248,349.05 248.5,349.05 249,349.05 249.5,349.05 250,349.05 250.5,349.05 251,349.05 251.5,349.05 252,349.05 252.5,349.05 253,349.05 253.5,349.05 254,349.05 254.5,349.05 255,349.05 255.5,349.05 256,349.05 256.5,349.05 257,349.05 257.5,349.05 258,349.05 258.5,349.05 259,349.05 259.5,349.05 260,349.05 260.5,349.05 261,349.05 261.5,349.05 262,349.05 262.5,349.05 263,349.05 263.5,349.05 264,349.05 264.5,349.05 265,349.05 265.5,349.05 266,349.05 266.5,349.05 267,349.04 267.5,349.04 268,349.04 268.5,349.04 269,349.04 269.5,349.04 270,349.03 270.5,349.03 271,349.03 271.5,349.02 272,349.02 272.5,349.01 273,349.01 273.5,349 274,348.99 274.5,348.98 275,348.97 275.5,348.96 276,348.95 276.5,348.93 277,348.91 277.5,348.89 278,348.87 278.5,348.84 279,348.81 279.5,348.78 280,348.74 280.5,348.69 281,348.64 281.5,348.59 282,348.53 282.5,348.46 283,348.38 283.5,348.3 284,348.21 284.5,348.11 285,347.99 285.5,347.87 286,347.73 286.5,347.58 287,347.41 287.5,347.24 288,347.04 288.5,346.83 289,346.6 289.5,346.35 290,346.08 290.5,345.79 291,345.48 291.5,345.14 292,344.78 292.5,344.4 293,343.99 293.5,343.56 294,343.1 294.5,342.62 295,342.1 295.5,341.56 296,341 296.5,340.4 297,339.78 297.5,339.14 298,338.47 298.5,337.77 299,337.05 299.5,336.31 300,335.54 300.5,334.76 301,333.96 301.5,333.14 302,332.31 302.5,331.47 303,330.62 303.5,329.77 304,328.91 304.5,328.06 305,327.2 305.5,326.36 306,325.52 306.5,324.7 307,323.9 307.5,323.12 308,322.36 308.5,321.63 309,320.94 309.5,320.28 310,319.65 310.5,319.07 311,318.53 311.5,318.05 312,317.61 312.5,317.22 313,316.89 313.5,316.61 314,316.39 314.5,316.24 315,316.14 315.5,316.1 316,316.12 316.5,316.2 317,316.34 317.5,316.55 318,316.81 318.5,317.12 319,317.49 319.5,317.92 320,318.39 320.5,318.92 321,319.48 321.5,320.1 322,320.75 322.5,321.43 323,322.15 323.5,322.9 324,323.68 324.5,324.48 325,325.29 325.5,326.12 326,326.97 326.5,327.82 327,328.67 327.5,329.53 328,330.39 328.5,331.24 329,332.08 329.5,332.91 330,333.73 330.5,334.54 331,335.33 331.5,336.1 332,336.84 332.5,337.57 333,338.27 333.5,338.95 334,339.61 334.5,340.23 335,340.83 335.5,341.41 336,341.95 336.5,342.47 337,342.97 337.5,343.43 338,343.87 338.5,344.29 339,344.68 339.5,345.04 340,345.38 340.5,345.7 341,346 341.5,346.27 342,346.53 342.5,346.76 343,346.98 343.5,347.18 344,347.37 344.5,347.53 345,347.69 345.5,347.83 346,347.96 346.5,348.07 347,348.18 347.5,348.28 348,348.36 348.5,348.44 349,348.51 349.5,348.57 350,348.63 350.5,348.68 351,348.72 351.5,348.76 352,348.8 352.5,348.83 353,348.86 353.5,348.88 354,348.91 354.5,348.93 355,348.94 355.5,348.96 356,348.97 356.5,348.98 357,348.99 357.5,349 358,349.01 358.5,349.01 359,349.02 359.5,349.02 360,349.03 360.5,349.03 361,349.03 361.5,349.04 362,349.04 362.5,349.04 363,349.04 363.5,349.04 364,349.04" stroke="#60f460" stroke-width="0.9" stroke-dasharray="1.6,0.8"/>
<polyline points="60.5,349.05 61,349.05 61.5,349.05 62,349.05 62.5,349.05 63,349.05 63.5,349.05 64,349.05 64.5,349.05 65,349.05 65.5,349.05 66,349.05 66.5,349.05 67,349.05 67.5,349.05 68,349.05 68.5,349.05 69,349.05 69.5,349.05 70,349.05 70.5,349.05 71,349.05 71.5,349.05 72,349.05 72.5,349.05 73,349.05 73.5,349.05 74,349.05 74.5,349.05 75,349.05 75.5,349.05 76,349.05 76.5,349.05 77,349.05 77.5,349.05 78,349.05 78.5,349.05 79,349.05 79.5,349.05 80,349.05 80.5,349.05 81,349.05 81.5,349.05 82,349.05 82.5,349.05 83,349.05 83.5,349.05 84,349.05 84.5,349.05 85,349.05 85.5,349.05 86,349.05 86.5,349.05 87,349.05 87.5,349.05 88,349.05 88.5,349.05 89,349.05 89.5,349.05 90,349.05 90.5,349.05 91,349.05 91.5,349.05 92,349.05 92.5,349.05 93,349.05 93.5,349.05 94,349.05 94.5,349.05 95,349.05 95.5,349.05 96,349.05 96.5,349.05 97,349.05 97.5,349.05 98,349.05 98.5,349.05 99,349.05 99.5,349.05 100,349.05 100.5,349.05 101,349.04 101.5,349.04 102,349.04 102.5,349.04 103,349.04 103.5,349.04 104,349.04 104.5,349.03 105,349.03 105.5,349.03 106,349.03 106.5,349.02 107,349.02 107.5,349.01 108,349.01 108.5,349 109,349 109.5,348.99 110,348.98 110.5,348.97 111,348.96 111.5,348.95 112,348.94 112.5,348.92 113,348.91 113.5,348.89 114,348.87 114.5,348.85 115,348.83 115.5,348.8 116,348.77 116.5,348.74 117,348.71 117.5,348.67 118,348.63 118.5,348.58 119,348.53 119.5,348.48 120,348.43 120.5,348.36 121,348.3 121.5,348.23 122,348.15 122.5,348.07 123,347.98 123.5,347.88 124,347.78 124.5,347.68 125,347.56 125.5,347.44 126,347.31 126.5,347.18 127,347.03 127.5,346.88 128,346.73 128.5,346.56 129,346.39 129.5,346.21 130,346.02 130.5,345.82 131,345.62 131.5,345.41 132,345.2 132.5,344.97 133,344.75 133.5,344.51 134,344.27 134.5,344.03 135,343.78 135.5,343.53 136,343.28 136.5,343.02 137,342.76 137.5,342.5 138,342.24 138.5,341.99 139,341.73 139.5,341.48 140,341.23 140.5,340.98 141,340.74 141.5,340.51 142,340.28 142.5,340.06 143,339.86 143.5,339.66 144,339.47 144.5,339.29 145,339.13 145.5,338.98 146,338.84 146.5,338.72 147,338.61 147.5,338.52 148,338.44 148.5,338.38 149,338.34 149.5,338.31 150,338.3 150.5,338.31 151,338.34 151.5,338.38 152,338.44 152.5,338.51 153,338.6 153.5,338.7 154,338.83 154.5,338.96 155,339.11 155.5,339.27 156,339.45 156.5,339.63 157,339.83 157.5,340.04 158,340.26 158.5,340.48 159,340.71 159.5,340.95 160,341.2 160.5,341.45 161,341.7 161.5,341.95 162,342.21 162.5,342.47 163,342.73 163.5,342.99 164,343.24 164.5,343.5 165,343.75 165.5,344 166,344.24 166.5,344.48 167,344.72 167.5,344.95 168,345.17 168.5,345.39 169,345.6 169.5,345.8 170,346 170.5,346.18 171,346.37 171.5,346.54 172,346.71 172.5,346.86 173,347.02 173.5,347.16 174,347.3 174.5,347.42 175,347.55 175.5,347.66 176,347.77 176.5,347.87 177,347.97 177.5,348.06 178,348.14 178.5,348.22 179,348.29 179.5,348.36 180,348.42 180.5,348.48 181,348.53 181.5,348.58 182,348.62 182.5,348.66 183,348.7 183.5,348.74 184,348.77 184.5,348.8 185,348.82 185.5,348.85 186,348.87 186.5,348.89 187,348.91 187.5,348.92 188,348.94 188.5,348.95 189,348.96 189.5,348.97 190,348.98 190.5,348.99 191,349 191.5,349 192,349.01 192.5,349.01 193,349.02 193.5,349.02 194,349.03 194.5,349.03 195,349.03 195.5,349.03 196,349.04 196.5,349.04 197,349.04 197.5,349.04 198,349.04 198.5,349.04 199,349.04 199.5,349.05 200,349.05 200.5,349.05 201,349.05 201.5,349.05 202,349.05 202.5,349.05 203,349.05 203.5,349.05 204,349.05 204.5,349.05 205,349.05 205.5,349.05 206,349.05 206.5,349.05 207,349.05 207.5,349.05 208,349.05 208.5,349.05 209,349.05 209.5,349.05 210,349.05 210.5,349.05 211,349.05 211.5,349.05 212,349.05 212.5,349.05 213,349.05 213.5,349.05 214,349.05 214.5,349.05 215,349.05 215.5,349.05 216,349.05 216.5,349.05 217,349.05 217.5,349.05 218,349.05 218.5,349.05 219,349.05 219.5,349.05 220,349.05 220.5,349.05 221,349.05 221.5,349.05 222,349.05 222.5,349.05 223,349.05 223.5,349.05 224,349.05 224.5,349.05 225,349.05 225.5,349.05 226,349.05 226.5,349.05 227,349.05 227.5,349.05 228,349.05 228.5,349.05 229,349.05 229.5,349.05 230,349.05 230.5,349.05 231,349.05 231.5,349.05 232,349.05 232.5,349.05 233,349.05 233.5,349.05 234,349.05 234.5,349.05 235,349.05 235.5,349.05 236,349.05 236.5,349.05 237,349.05 237.5,349.05 238,349.05 238.5,349.05 239,349.05 239.5,349.05 240,349.05 240.5,349.05 241,349.05 241.5,349.05 242,349.05 242.5,349.05 243,349.05 243.5,349.05 244,349.05 244.5,349.05 245,349.05 245.5,349.05 246,349.05 246.5,349.05 247,349.05 247.5,349.05 248,349.05 248.5,349.05 249,349.05 249.5,349.05 250,349.05 250.5,349.05 251,349.05 251.5,349.05 252,349.05 252.5,349.05 253,349.05 253.5,349.05 254,349.05 254.5,349.05 255,349.05 255.5,349.05 256,349.05 256.5,349.05 257,349.05 257.5,349.05 258,349.05 258.5,349.05 259,349.05 259.5,349.05 260,349.05 260.5,349.05 261,349.05 261.5,349.05 262,349.05 262.5,349.05 263,349.05 263.5,349.05 264,349.05 264.5,349.05 265,349.05 265.5,349.05 266,349.05 266.5,349.05 267,349.05 267.5,349.05 268,349.05 268.5,349.05 269,349.05 269.5,349.05 270,349.05 270.5,349.05 271,349.05 271.5,349.05 272,349.05 272.5,349.05 273,349.05 273.5,349.05 274,349.05 274.5,349.05 275,349.05 275.5,349.05 276,349.05 276.5,349.05 277,349.05 277.5,349.05 278,349.05 278.5,349.05 279,349.05 279.5,349.05 280,349.05 280.5,349.05 281,349.05 281.5,349.05 282,349.05 282.5,349.05 283,349.05 283.5,349.05 284,349.05 284.5,349.05 285,349.05 285.5,349.05 286,349.05 286.5,349.05 287,349.05 287.5,349.05 288,349.05 288.5,349.05 289,349.05 289.5,349.05 290,349.05 290.5,349.05 291,349.05 291.5,349.05 292,349.05 292.5,349.05 293,349.05 293.5,349.05 294,349.05 294.5,349.05 295,349.05 295.5,349.05 296,349.05 296.5,349.05 297,349.05 297.5,349.05 298,349.05 298.5,349.05 299,349.05 299.5,349.05 300,349.05 300.5,349.05 301,349.05 301.5,349.05 302,349.05 302.5,349.05 303,349.05 303.5,349.05 304,349.05 304.5,349.05 305,349.05 305.5,349.05 306,349.05 306.5,349.05 307,349.05 307.5,349.05 308,349.05 308.5,349.05 309,349.05 309.5,349.05 310,349.05 310.5,349.05 311,349.05 311.5,349.05 312,349.05 312.5,349.05 313,349.05 313.5,349.05 314,349.05 314.5,349.05 315,349.05 315.5,349.05 316,349.05 316.5,349.05 317,349.05 317.5,349.05 318,349.05 318.5,349.05 319,349.05 319.5,349.05 320,349.05 320.5,349.05 321,349.05 321.5,349.05 322,349.05 322.5,349.05 323,349.05 323.5,349.05 324,349.05 324.5,349.05 325,349.05 325.5,349.05 326,349.05 326.5,349.05 327,349.05 327.5,349.05 328,349.05 328.5,349.05 329,349.05 329.5,349.05 330,349.05 330.5,349.05 331,349.05 331.5,349.05 332,349.05 332.5,349.05 333,349.05 333.5,349.05 334,349.05 334.5,349.05 335,349.05 335.5,349.05 336,349.05 336.5,349.05 337,349.05 337.5,349.05 338,349.05 338.5,349.05 339,349.05 339.5,349.05 340,349.05 340.5,349.05 341,349.05 341.5,349.05 342,349.05 342.5,349.05 343,349.05 343.5,349.05 344,349.05 344.5,349.05 345,349.05 345.5,349.05 346,349.05 346.5,349.05 347,349.05 347.5,349.05 348,349.05 348.5,349.05 349,349.05 349.5,349.05 350,349.05 350.5,349.05 351,349.05 351.5,349.05 352,349.05 352.5,349.05 353,349.05 353.5,349.05 354,349.05 354.5,349.05 355,349.05 355.5,349.05 356,349.05 356.5,349.05 357,349.05 357.5,349.05 358,349.05 358.5,349.05 359,349.05 359.5,349.05 360,349.05 360.5,349.05 361,349.05 361.5,349.05 362,349.05 362.5,349.05 363,349.05 363.5,349.05 364,349.05" stroke="#60f460" stroke-width="0.9" stroke-dasharray="1.6,0.8"/>
<polyline points="60.5,349.05 61,349.05 61.5,349.05 62,349.05 62.5,349.05 63,349.05 63.5,349.05 64,349.05 64.5,349.05 65,349.05 65.5,349.05 66,349.05 66.5,349.05 67,349.05 67.5,349.05 68,349.05 68.5,349.05 69,349.05 69.5,349.05 70,349.05 70.5,349.05 71,349.05 71.5,349.05 72,349.05 72.5,349.05 73,349.05 73.5,349.05 74,349.05 74.5,349.05 75,349.05 75.5,349.05 76,349.05 76.5,349.05 77,349.05 77.5,349.05 78,349.05 78.5,349.05 79,349.05 79.5,349.05 80,349.05 80.5,349.05 81,349.05 81.5,349.05 82,349.05 82.5,349.05 83,349.05 83.5,349.05 84,349.05 84.5,349.05 85,349.05 85.5,349.05 86,349.05 86.5,349.05 87,349.05 87.5,349.05 88,349.05 88.5,349.05 89,349.05 89.5,349.05 90,349.05 90.5,349.05 91,349.05 91.5,349.05 92,349.05 92.5,349.05 93,349.05 93.5,349.05 94,349.05 94.5,349.05 95,349.05 95.5,349.05 96,349.05 96.5,349.05 97,349.05 97.5,349.05 98,349.05 98.5,349.05 99,349.05 99.5,349.05 100,349.05 100.5,349.05 101,349.05 101.5,349.05 102,349.05 102.5,349.05 103,349.05 103.5,349.05 104,349.05 104.5,349.05 105,349.05 105.5,349.05 106,349.05 106.5,349.05 107,349.05 107.5,349.05 108,349.05 108.5,349.05 109,349.05 109.5,349.05 110,349.05 110.5,349.05 111,349.05 111.5,349.05 112,349.05 112.5,349.05 113,349.05 113.5,349.05 114,349.05 114.5,349.05 115,349.05 115.5,349.05 116,349.05 116.5,349.05 117,349.05 117.5,349.05 118,349.05 118.5,349.05 119,349.05 119.5,349.05 120,349.05 120.5,349.05 121,349.05 121.5,349.05 122,349.05 122.5,349.05 123,349.05 123.5,349.05 124,349.05 124.5,349.05 125,349.05 125.5,349.05 126,349.05 126.5,349.05 127,349.05 127.5,349.05 128,349.05 128.5,349.05 129,349.05 129.5,349.05 130,349.05 130.5,349.05 131,349.05 131.5,349.05 132,349.05 132.5,349.05 133,349.05 133.5,349.05 134,349.05 134.5,349.05 135,349.05 135.5,349.05 136,349.05 136.5,349.05 137,349.05 137.5,349.05 138,349.05 138.5,349.05 139,349.05 139.5,349.05 140,349.05 140.5,349.05 141,349.05 141.5,349.05 142,349.05 142.5,349.05 143,349.05 143.5,349.05 144,349.05 144.5,349.05 145,349.05 145.5,349.05 146,349.05 146.5,349.05 147,349.05 147.5,349.05 148,349.05 148.5,349.05 149,349.05 149.5,349.05 150,349.05 150.5,349.05 151,349.05 151.5,349.05 152,349.05 152.5,349.05 153,349.05 153.5,349.05 154,349.05 154.5,349.05 155,349.05 155.5,349.05 156,349.05 156.5,349.05 157,349.05 157.5,349.05 158,349.05 158.5,349.05 159,349.05 159.5,349.05 160,349.05 160.5,349.05 161,349.05 161.5,349.05 162,349.05 162.5,349.05 163,349.05 163.5,349.05 164,349.05 164.5,349.05 165,349.05 165.5,349.05 166,349.05 166.5,349.05 167,349.05 167.5,349.05 168,349.05 168.5,349.05 169,349.04 169.5,349.04 170,349.04 170.5,349.04 171,349.04 171.5,349.03 172,349.03 172.5,349.03 173,349.02 173.5,349.02 174,349.01 174.5,349 175,348.99 175.5,348.98 176,348.97 176.5,348.95 177,348.94 177.5,348.91 178,348.89 178.5,348.86 179,348.83 179.5,348.79 180,348.75 180.5,348.7 181,348.64 181.5,348.57 182,348.5 182.5,348.41 183,348.31 183.5,348.2 184,348.07 184.5,347.92 185,347.76 185.5,347.58 186,347.37 186.5,347.14 187,346.88 187.5,346.59 188,346.27 188.5,345.91 189,345.52 189.5,345.08 190,344.6 190.5,344.08 191,343.5 191.5,342.87 192,342.18 192.5,341.43 193,340.61 193.5,339.73 194,338.78 194.5,337.75 195,336.65 195.5,335.47 196,334.21 196.5,332.87 197,331.44 197.5,329.93 198,328.33 198.5,326.64 199,324.87 199.5,323.01 200,321.07 200.5,319.05 201,316.95 201.5,314.78 202,312.54 202.5,310.23 203,307.87 203.5,305.45 204,302.99 204.5,300.49 205,297.97 205.5,295.43 206,292.88 206.5,290.33 207,287.8 207.5,285.3 208,282.83 208.5,280.41 209,278.06 209.5,275.78 210,273.59 210.5,271.49 211,269.51 211.5,267.64 212,265.92 212.5,264.33 213,262.89 213.5,261.62 214,260.52 214.5,259.59 215,258.84 215.5,258.28 216,257.91 216.5,257.73 217,257.75 217.5,257.95 218,258.35 218.5,258.94 219,259.71 219.5,260.67 220,261.8 220.5,263.1 221,264.55 221.5,266.16 222,267.91 222.5,269.79 223,271.79 223.5,273.9 224,276.11 224.5,278.4 225,280.77 225.5,283.19 226,285.66 226.5,288.17 227,290.71 227.5,293.25 228,295.8 228.5,298.34 229,300.86 229.5,303.35 230,305.81 230.5,308.22 231,310.58 231.5,312.87 232,315.11 232.5,317.27 233,319.35 233.5,321.36 234,323.29 234.5,325.14 235,326.89 235.5,328.57 236,330.15 236.5,331.65 237,333.07 237.5,334.4 238,335.65 238.5,336.82 239,337.91 239.5,338.92 240,339.86 240.5,340.74 241,341.54 241.5,342.28 242,342.96 242.5,343.59 243,344.16 243.5,344.68 244,345.15 244.5,345.58 245,345.97 245.5,346.32 246,346.64 246.5,346.92 247,347.17 247.5,347.4 248,347.6 248.5,347.79 249,347.95 249.5,348.09 250,348.21 250.5,348.32 251,348.42 251.5,348.51 252,348.58 252.5,348.65 253,348.7 253.5,348.75 254,348.8 254.5,348.83 255,348.87 255.5,348.89 256,348.92 256.5,348.94 257,348.96 257.5,348.97 258,348.98 258.5,348.99 259,349 259.5,349.01 260,349.02 260.5,349.02 261,349.03 261.5,349.03 262,349.03 262.5,349.04 263,349.04 263.5,349.04 264,349.04 264.5,349.04 265,349.05 265.5,349.05 266,349.05 266.5,349.05 267,349.05 267.5,349.05 268,349.05 268.5,349.05 269,349.05 269.5,349.05 270,349.05 270.5,349.05 271,349.05 271.5,349.05 272,349.05 272.5,349.05 273,349.05 273.5,349.05 274,349.05 274.5,349.05 275,349.05 275.5,349.05 276,349.05 276.5,349.05 277,349.05 277.5,349.05 278,349.05 278.5,349.05 279,349.05 279.5,349.05 280,349.05 280.5,349.05 281,349.05 281.5,349.05 282,349.05 282.5,349.05 283,349.05 283.5,349.05 284,349.05 284.5,349.05 285,349.05 285.5,349.05 286,349.05 286.5,349.05 287,349.05 287.5,349.05 288,349.05 288.5,349.05 289,349.05 289.5,349.05 290,349.05 290.5,349.05 291,349.05 291.5,349.05 292,349.05 292.5,349.05 293,349.05 293.5,349.05 294,349.05 294.5,349.05 295,349.05 295.5,349.05 296,349.05 296.5,349.05 297,349.05 297.5,349.05 298,349.05 298.5,349.05 299,349.05 299.5,349.05 300,349.05 300.5,349.05 301,349.05 301.5,349.05 302,349.05 302.5,349.05 303,349.05 303.5,349.05 304,349.05 304.5,349.05 305,349.05 305.5,349.05 306,349.05 306.5,349.05 307,349.05 307.5,349.05 308,349.05 308.5,349.05 309,349.05 309.5,349.05 310,349.05 310.5,349.05 311,349.05 311.5,349.05 312,349.05 312.5,349.05 313,349.05 313.5,349.05 314,349.05 314.5,349.05 315,349.05 315.5,349.05 316,349.05 316.5,349.05 317,349.05 317.5,349.05 318,349.05 318.5,349.05 319,349.05 319.5,349.05 320,349.05 320.5,349.05 321,349.05 321.5,349.05 322,349.05 322.5,349.05 323,349.05 323.5,349.05 324,349.05 324.5,349.05 325,349.05 325.5,349.05 326,349.05 326.5,349.05 327,349.05 327.5,349.05 328,349.05 328.5,349.05 329,349.05 329.5,349.05 330,349.05 330.5,349.05 331,349.05 331.5,349.05 332,349.05 332.5,349.05 333,349.05 333.5,349.05 334,349.05 334.5,349.05 335,349.05 335.5,349.05 336,349.05 336.5,349.05 337,349.05 337.5,349.05 338,349.05 338.5,349.05 339,349.05 339.5,349.05 340,349.05 340.5,349.05 341,349.05 341.5,349.05 342,349.05 342.5,349.05 343,349.05 343.5,349.05 344,349.05 344.5,349.05 345,349.05 345.5,349.05 346,349.05 346.5,349.05 347,349.05 347.5,349.05 348,349.05 348.5,349.05 349,349.05 349.5,349.05 350,349.05 350.5,349.05 351,349.05 351.5,349.05 352,349.05 352.5,349.05 353,349.05 353.5,349.05 354,349.05 354.5,349.05 355,349.05 355.5,349.05 356,349.05 356.5,349.05 357,349.05 357.5,349.05 358,349.05 358.5,349.05 359,349.05 359.5,349.05 360,349.05 360.5,349.05 361,349.05 361.5,349.05 362,349.05 362.5,349.05 363,349.05 363.5,349.05 364,349.05" stroke="#0000ff" stroke-width="1.2"/>
<polyline points="60.5,349.05 61,349.05 61.5,349.05 62,349.05 62.5,349.05 63,349.05 63.5,349.05 64,349.05 64.5,349.05 65,349.05 65.5,349.05 66,349.05 66.5,349.05 67,349.05 67.5,349.05 68,349.05 68.5,349.05 69,349.05 69.5,349.05 70,349.05 70.5,349.05 71,349.05 71.5,349.05 72,349.05 72.5,349.05 73,349.05 73.5,349.05 74,349.05 74.5,349.05 75,349.05 75.5,349.05 76,349.05 76.5,349.05 77,349.05 77.5,349.05 78,349.05 78.5,349.05 79,349.05 79.5,349.05 80,349.05 80.5,349.05 81,349.05 81.5,349.05 82,349.05 82.5,349.05 83,349.05 83.5,349.05 84,349.05 84.5,349.05 85,349.05 85.5,349.05 86,349.05 86.5,349.05 87,349.05 87.5,349.05 88,349.05 88.5,349.05 89,349.05 89.5,349.05 90,349.05 90.5,349.05 91,349.05 91.5,349.05 92,349.05 92.5,349.05 93,349.05 93.5,349.05 94,349.05 94.5,349.05 95,349.05 95.5,349.05 96,349.05 96.5,349.05 97,349.05 97.5,349.05 98,349.05 98.5,349.05 99,349.05 99.5,349.05 100,349.05 100.5,349.05 101,349.05 101.5,349.05 102,349.05 102.5,349.05 103,349.05 103.5,349.05 104,349.05 104.5,349.05 105,349.05 105.5,349.05 106,349.05 106.5,349.05 107,349.05 107.5,349.05 108,349.05 108.5,349.05 109,349.05 109.5,349.05 110,349.05 110.5,349.05 111,349.05 111.5,349.05 112,349.05 112.5,349.05 113,349.05 113.5,349.05 114,349.05 114.5,349.05 115,349.05 115.5,349.05 116,349.05 116.5,349.05 117,349.05 117.5,349.05 118,349.05 118.5,349.05 119,349.05 119.5,349.05 120,349.05 120.5,349.05 121,349.05 121.5,349.05 122,349.05 122.5,349.05 123,349.05 123.5,349.05 124,349.05 124.5,349.05 125,349.05 125.5,349.05 126,349.05 126.5,349.05 127,349.05 127.5,349.05 128,349.05 128.5,349.05 129,349.05 129.5,349.05 130,349.05 130.5,349.05 131,349.05 131.5,349.05 132,349.05 132.5,349.05 133,349.05 133.5,349.05 134,349.05 134.5,349.05 135,349.05 135.5,349.05 136,349.05 136.5,349.05 137,349.05 137.5,349.05 138,349.05 138.5,349.05 139,349.05 139.5,349.05 140,349.05 140.5,349.05 141,349.05 141.5,349.05 142,349.05 142.5,349.05 143,349.05 143.5,349.05 144,349.05 144.5,349.05 145,349.05 145.5,349.05 146,349.05 146.5,349.05 147,349.05 147.5,349.05 148,349.05 148.5,349.05 149,349.05 149.5,349.05 150,349.05 150.5,349.05 151,349.05 151.5,349.05 152,349.05 152.5,349.05 153,349.05 153.5,349.05 154,349.05 154.5,349.05 155,349.05 155.5,349.05 156,349.05 156.5,349.05 157,349.05 157.5,349.05 158,349.05 158.5,349.05 159,349.05 159.5,349.05 160,349.05 160.5,349.05 161,349.05 161.5,349.05 162,349.05 162.5,349.05 163,349.05 163.5,349.05 164,349.05 164.5,349.05 165,349.05 165.5,349.05 166,349.05 166.5,349.05 167,349.05 167.5,349.05 168,349.05 168.5,349.05 169,349.05 169.5,349.05 170,349.05 170.5,349.05 171,349.05 171.5,349.05 172,349.05 172.5,349.05 173,349.05 173.5,349.05 174,349.05 174.5,349.05 175,349.05 175.5,349.05 176,349.05 176.5,349.05 177,349.05 177.5,349.05 178,349.05 178.5,349.05 179,349.05 179.5,349.05 180,349.05 180.5,349.05 181,349.05 181.5,349.05 182,349.05 182.5,349.05 183,349.05 183.5,349.05 184,349.05 184.5,349.05 185,349.05 185.5,349.05 186,349.05 186.5,349.05 187,349.05 187.5,349.05 188,349.05 188.5,349.05 189,349.05 189.5,349.05 190,349.05 190.5,349.05 191,349.05 191.5,349.05 192,349.05 192.5,349.05 193,349.05 193.5,349.05 194,349.05 194.5,349.05 195,349.05 195.5,349.05 196,349.05 196.5,349.05 197,349.05 197.5,349.05 198,349.05 198.5,349.05 199,349.05 199.5,349.05 200,349.05 200.5,349.05 201,349.05 201.5,349.05 202,349.05 202.5,349.05 203,349.04 203.5,349.04 204,349.04 204.5,349.04 205,349.04 205.5,349.03 206,349.03 206.5,349.02 207,349.02 207.5,349.01 208,349 208.5,348.99 209,348.97 209.5,348.96 210,348.94 210.5,348.91 211,348.88 211.5,348.85 212,348.81 212.5,348.76 213,348.71 213.5,348.65 214,348.58 214.5,348.49 215,348.4 215.5,348.29 216,348.16 216.5,348.02 217,347.86 217.5,347.69 218,347.49 218.5,347.27 219,347.02 219.5,346.75 220,346.45 220.5,346.12 221,345.76 221.5,345.38 222,344.96 222.5,344.51 223,344.03 223.5,343.52 224,342.98 224.5,342.41 225,341.81 225.5,341.18 226,340.54 226.5,339.87 227,339.18 227.5,338.49 228,337.78 228.5,337.07 229,336.36 229.5,335.66 230,334.97 230.5,334.29 231,333.64 231.5,333.02 232,332.43 232.5,331.89 233,331.38 233.5,330.93 234,330.54 234.5,330.2 235,329.93 235.5,329.72 236,329.58 236.5,329.5 237,329.5 237.5,329.57 238,329.71 238.5,329.91 239,330.18 239.5,330.52 240,330.91 240.5,331.36 241,331.86 241.5,332.4 242,332.99 242.5,333.61 243,334.26 243.5,334.93 244,335.62 244.5,336.32 245,337.03 245.5,337.74 246,338.45 246.5,339.14 247,339.83 247.5,340.5 248,341.15 248.5,341.77 249,342.37 249.5,342.94 250,343.49 250.5,344 251,344.48 251.5,344.93 252,345.35 252.5,345.74 253,346.1 253.5,346.43 254,346.73 254.5,347 255,347.25 255.5,347.48 256,347.68 256.5,347.86 257,348.01 257.5,348.16 258,348.28 258.5,348.39 259,348.49 259.5,348.57 260,348.64 260.5,348.71 261,348.76 261.5,348.81 262,348.85 262.5,348.88 263,348.91 263.5,348.93 264,348.95 264.5,348.97 265,348.99 265.5,349 266,349.01 266.5,349.02 267,349.02 267.5,349.03 268,349.03 268.5,349.04 269,349.04 269.5,349.04 270,349.04 270.5,349.04 271,349.05 271.5,349.05 272,349.05 272.5,349.05 273,349.05 273.5,349.05 274,349.05 274.5,349.05 275,349.05 275.5,349.05 276,349.05 276.5,349.05 277,349.05 277.5,349.05 278,349.05 278.5,349.05 279,349.05 279.5,349.05 280,349.05 280.5,349.05 281,349.05 281.5,349.05 282,349.05 282.5,349.05 283,349.05 283.5,349.05 284,349.05 284.5,349.05 285,349.05 285.5,349.05 286,349.05 286.5,349.05 287,349.05 287.5,349.05 288,349.05 288.5,349.05 289,349.05 289.5,349.05 290,349.05 290.5,349.05 291,349.05 291.5,349.05 292,349.05 292.5,349.05 293,349.05 293.5,349.05 294,349.05 294.5,349.05 295,349.05 295.5,349.05 296,349.05 296.5,349.05 297,349.05 297.5,349.05 298,349.05 298.5,349.05 299,349.05 299.5,349.05 300,349.05 300.5,349.05 301,349.05 301.5,349.05 302,349.05 302.5,349.05 303,349.05 303.5,349.05 304,349.05 304.5,349.05 305,349.05 305.5,349.05 306,349.05 306.5,349.05 307,349.05 307.5,349.05 308,349.05 308.5,349.05 309,349.05 309.5,349.05 310,349.05 310.5,349.05 311,349.05 311.5,349.05 312,349.05 312.5,349.05 313,349.05 313.5,349.05 314,349.05 314.5,349.05 315,349.05 315.5,349.05 316,349.05 316.5,349.05 317,349.05 317.5,349.05 318,349.05 318.5,349.05 319,349.05 319.5,349.05 320,349.05 320.5,349.05 321,349.05 321.5,349.05 322,349.05 322.5,349.05 323,349.05 323.5,349.05 324,349.05 324.5,349.05 325,349.05 325.5,349.05 326,349.05 326.5,349.05 327,349.05 327.5,349.05 328,349.05 328.5,349.05 329,349.05 329.5,349.05 330,349.05 330.5,349.05 331,349.05 331.5,349.05 332,349.05 332.5,349.05 333,349.05 333.5,349.05 334,349.05 334.5,349.05 335,349.05 335.5,349.05 336,349.05 336.5,349.05 337,349.05 337.5,349.05 338,349.05 338.5,349.05 339,349.05 339.5,349.05 340,349.05 340.5,349.05 341,349.05 341.5,349.05 342,349.05 342.5,349.05 343,349.05 343.5,349.05 344,349.05 344.5,349.05 345,349.05 345.5,349.05 346,349.05 346.5,349.05 347,349.05 347.5,349.05 348,349.05 348.5,349.05 349,349.05 349.5,349.05 350,349.05 350.5,349.05 351,349.05 351.5,349.05 352,349.05 352.5,349.05 353,349.05 353.5,349.05 354,349.05 354.5,349.05 355,349.05 355.5,349.05 356,349.05 356.5,349.05 357,349.05 357.5,349.05 358,349.05 358.5,349.05 359,349.05 359.5,349.05 360,349.05 360.5,349.05 361,349.05 361.5,349.05 362,349.05 362.5,349.05 363,349.05 363.5,349.05 364,349.05" stroke="#0000ff" stroke-width="1.2"/>
<polyline points="60.5,349.05 61,349.05 61.5,349.05 62,349.05 62.5,349.05 63,349.05 63.5,349.05 64,349.05 64.5,349.05 65,349.05 65.5,349.05 66,349.05 66.5,349.05 67,349.05 67.5,349.05 68,349.05 68.5,349.05 69,349.05 69.5,349.05 70,349.05 70.5,349.05 71,349.05 71.5,349.05 72,349.05 72.5,349.05 73,349.05 73.5,349.05 74,349.05 74.5,349.05 75,349.05 75.5,349.05 76,349.05 76.5,349.05 77,349.05 77.5,349.05 78,349.05 78.5,349.05 79,349.05 79.5,349.05 80,349.05 80.5,349.05 81,349.05 81.5,349.05 82,349.05 82.5,349.05 83,349.05 83.5,349.05 84,349.05 84.5,349.05 85,349.05 85.5,349.05 86,349.05 86.5,349.05 87,349.05 87.5,349.05 88,349.05 88.5,349.05 89,349.05 89.5,349.05 90,349.05 90.5,349.05 91,349.05 91.5,349.05 92,349.05 92.5,349.05 93,349.05 93.5,349.05 94,349.05 94.5,349.05 95,349.05 95.5,349.05 96,349.05 96.5,349.05 97,349.05 97.5,349.05 98,349.05 98.5,349.05 99,349.05 99.5,349.05 100,349.05 100.5,349.05 101,349.05 101.5,349.05 102,349.05 102.5,349.05 103,349.05 103.5,349.05 104,349.04 104.5,349.04 105,349.04 105.5,349.04 106,349.04 106.5,349.04 107,349.04 107.5,349.03 108,349.03 108.5,349.03 109,349.02 109.5,349.02 110,349.01 110.5,349.01 111,349 111.5,348.99 112,348.98 112.5,348.97 113,348.96 113.5,348.95 114,348.93 114.5,348.92 115,348.9 115.5,348.88 116,348.85 116.5,348.83 117,348.8 117.5,348.76 118,348.73 118.5,348.69 119,348.64 119.5,348.59 120,348.54 120.5,348.48 121,348.42 121.5,348.34 122,348.27 122.5,348.18 123,348.09 123.5,348 124,347.89 124.5,347.78 125,347.65 125.5,347.52 126,347.38 126.5,347.23 127,347.08 127.5,346.91 128,346.73 128.5,346.54 129,346.35 129.5,346.14 130,345.92 130.5,345.7 131,345.46 131.5,345.22 132,344.97 132.5,344.71 133,344.44 133.5,344.17 134,343.89 134.5,343.6 135,343.31 135.5,343.02 136,342.72 136.5,342.43 137,342.13 137.5,341.84 138,341.55 138.5,341.26 139,340.97 139.5,340.7 140,340.43 140.5,340.17 141,339.92 141.5,339.68 142,339.45 142.5,339.24 143,339.05 143.5,338.87 144,338.71 144.5,338.56 145,338.44 145.5,338.33 146,338.25 146.5,338.19 147,338.15 147.5,338.13 148,338.13 148.5,338.15 149,338.2 149.5,338.27 150,338.35 150.5,338.46 151,338.59 151.5,338.74 152,338.9 152.5,339.09 153,339.28 153.5,339.5 154,339.73 154.5,339.97 155,340.22 155.5,340.48 156,340.75 156.5,341.03 157,341.32 157.5,341.6 158,341.9 158.5,342.19 159,342.49 159.5,342.78 160,343.08 160.5,343.37 161,343.66 161.5,343.94 162,344.22 162.5,344.49 163,344.76 163.5,345.02 164,345.27 164.5,345.51 165,345.74 165.5,345.97 166,346.18 166.5,346.39 167,346.58 167.5,346.77 168,346.94 168.5,347.11 169,347.26 169.5,347.41 170,347.55 170.5,347.68 171,347.8 171.5,347.91 172,348.02 172.5,348.11 173,348.2 173.5,348.28 174,348.36 174.5,348.43 175,348.49 175.5,348.55 176,348.6 176.5,348.65 177,348.7 177.5,348.73 178,348.77 178.5,348.8 179,348.83 179.5,348.86 180,348.88 180.5,348.9 181,348.92 181.5,348.94 182,348.95 182.5,348.96 183,348.97 183.5,348.98 184,348.99 184.5,349 185,349.01 185.5,349.01 186,349.02 186.5,349.02 187,349.03 187.5,349.03 188,349.03 188.5,349.04 189,349.04 189.5,349.04 190,349.04 190.5,349.04 191,349.04 191.5,349.04 192,349.05 192.5,349.05 193,349.05 193.5,349.05 194,349.05 194.5,349.05 195,349.05 195.5,349.05 196,349.05 196.5,349.05 197,349.05 197.5,349.05 198,349.05 198.5,349.05 199,349.05 199.5,349.05 200,349.05 200.5,349.05 201,349.05 201.5,349.05 202,349.05 202.5,349.05 203,349.05 203.5,349.05 204,349.05 204.5,349.05 205,349.05 205.5,349.05 206,349.05 206.5,349.05 207,349.05 207.5,349.05 208,349.05 208.5,349.05 209,349.05 209.5,349.05 210,349.05 210.5,349.05 211,349.05 211.5,349.05 212,349.05 212.5,349.05 213,349.05 213.5,349.05 214,349.05 214.5,349.05 215,349.05 215.5,349.05 216,349.05 216.5,349.05 217,349.05 217.5,349.05 218,349.05 218.5,349.05 219,349.05 219.5,349.05 220,349.05 220.5,349.05 221,349.05 221.5,349.05 222,349.05 222.5,349.05 223,349.05 223.5,349.05 224,349.05 224.5,349.05 225,349.05 225.5,349.05 226,349.05 226.5,349.05 227,349.05 227.5,349.05 228,349.05 228.5,349.05 229,349.05 229.5,349.05 230,349.05 230.5,349.05 231,349.05 231.5,349.05 232,349.05 232.5,349.05 233,349.05 233.5,349.05 234,349.05 234.5,349.05 235,349.05 235.5,349.05 236,349.05 236.5,349.05 237,349.05 237.5,349.05 238,349.05 238.5,349.05 239,349.05 239.5,349.05 240,349.05 240.5,349.05 241,349.05 241.5,349.05 242,349.05 242.5,349.05 243,349.05 243.5,349.05 244,349.05 244.5,349.05 245,349.05 245.5,349.05 246,349.05 246.5,349.05 247,349.05 247.5,349.05 248,349.05 248.5,349.05 249,349.05 249.5,349.05 250,349.05 250.5,349.05 251,349.05 251.5,349.05 252,349.05 252.5,349.05 253,349.05 253.5,349.05 254,349.05 254.5,349.05 255,349.05 255.5,349.05 256,349.05 256.5,349.05 257,349.05 257.5,349.05 258,349.05 258.5,349.05 259,349.05 259.5,349.05 260,349.05 260.5,349.05 261,349.05 261.5,349.05 262,349.05 262.5,349.05 263,349.05 263.5,349.05 264,349.05 264.5,349.05 265,349.05 265.5,349.05 266,349.05 266.5,349.05 267,349.05 267.5,349.05 268,349.05 268.5,349.05 269,349.05 269.5,349.05 270,349.05 270.5,349.05 271,349.05 271.5,349.04 272,349.04 272.5,349.04 273,349.04 273.5,349.04 274,349.03 274.5,349.03 275,349.03 275.5,349.02 276,349.02 276.5,349.01 277,349 277.5,348.99 278,348.98 278.5,348.97 279,348.95 279.5,348.93 280,348.91 280.5,348.89 281,348.86 281.5,348.83 282,348.79 282.5,348.74 283,348.69 283.5,348.64 284,348.57 284.5,348.5 285,348.41 285.5,348.32 286,348.21 286.5,348.09 287,347.95 287.5,347.8 288,347.63 288.5,347.45 289,347.24 289.5,347.01 290,346.76 290.5,346.48 291,346.17 291.5,345.84 292,345.48 292.5,345.09 293,344.66 293.5,344.2 294,343.71 294.5,343.18 295,342.61 295.5,342.01 296,341.37 296.5,340.7 297,339.98 297.5,339.23 298,338.44 298.5,337.62 299,336.77 299.5,335.88 300,334.97 300.5,334.03 301,333.07 301.5,332.09 302,331.09 302.5,330.08 303,329.06 303.5,328.04 304,327.03 304.5,326.02 305,325.03 305.5,324.06 306,323.11 306.5,322.19 307,321.31 307.5,320.47 308,319.68 308.5,318.94 309,318.26 309.5,317.64 310,317.09 310.5,316.61 311,316.21 311.5,315.88 312,315.64 312.5,315.47 313,315.39 313.5,315.39 314,315.48 314.5,315.65 315,315.9 315.5,316.23 316,316.63 316.5,317.12 317,317.67 317.5,318.29 318,318.97 318.5,319.71 319,320.51 319.5,321.35 320,322.23 320.5,323.15 321,324.1 321.5,325.07 322,326.07 322.5,327.07 323,328.09 323.5,329.11 324,330.12 324.5,331.13 325,332.13 325.5,333.11 326,334.07 326.5,335.01 327,335.92 327.5,336.81 328,337.66 328.5,338.48 329,339.27 329.5,340.01 330,340.73 330.5,341.4 331,342.04 331.5,342.64 332,343.2 332.5,343.73 333,344.22 333.5,344.68 334,345.11 334.5,345.5 335,345.86 335.5,346.19 336,346.49 336.5,346.77 337,347.02 337.5,347.25 338,347.46 338.5,347.64 339,347.81 339.5,347.96 340,348.09 340.5,348.22 341,348.32 341.5,348.42 342,348.5 342.5,348.57 343,348.64 343.5,348.7 344,348.75 344.5,348.79 345,348.83 345.5,348.86 346,348.89 346.5,348.91 347,348.93 347.5,348.95 348,348.97 348.5,348.98 349,348.99 349.5,349 350,349.01 350.5,349.02 351,349.02 351.5,349.03 352,349.03 352.5,349.03 353,349.04 353.5,349.04 354,349.04 354.5,349.04 355,349.04 355.5,349.05 356,349.05 356.5,349.05 357,349.05 357.5,349.05 358,349.05 358.5,349.05 359,349.05 359.5,349.05 360,349.05 360.5,349.05 361,349.05 361.5,349.05 362,349.05 362.5,349.05 363,349.05 363.5,349.05 364,349.05" stroke="#00ff00" stroke-width="1.3"/>
<polyline points="60.5,349.05 61,349.05 61.5,349.05 62,349.05 62.5,349.05 63,349.05 63.5,349.05 64,349.05 64.5,349.05 65,349.05 65.5,349.05 66,349.05 66.5,349.05 67,349.05 67.5,349.05 68,349.05 68.5,349.05 69,349.05 69.5,349.05 70,349.05 70.5,349.05 71,349.05 71.5,349.05 72,349.05 72.5,349.05 73,349.05 73.5,349.05 74,349.05 74.5,349.05 75,349.05 75.5,349.05 76,349.05 76.5,349.05 77,349.05 77.5,349.05 78,349.05 78.5,349.05 79,349.05 79.5,349.05 80,349.05 80.5,349.05 81,349.05 81.5,349.05 82,349.05 82.5,349.05 83,349.05 83.5,349.05 84,349.05 84.5,349.05 85,349.05 85.5,349.05 86,349.05 86.5,349.05 87,349.05 87.5,349.05 88,349.05 88.5,349.05 89,349.05 89.5,349.05 90,349.05 90.5,349.05 91,349.05 91.5,349.05 92,349.05 92.5,349.05 93,349.05 93.5,349.05 94,349.05 94.5,349.05 95,349.05 95.5,349.05 96,349.05 96.5,349.05 97,349.05 97.5,349.05 98,349.05 98.5,349.05 99,349.05 99.5,349.05 100,349.05 100.5,349.05 101,349.05 101.5,349.05 102,349.05 102.5,349.05 103,349.05 103.5,349.05 104,349.05 104.5,349.05 105,349.05 105.5,349.05 106,349.05 106.5,349.05 107,349.05 107.5,349.05 108,349.05 108.5,349.05 109,349.05 109.5,349.05 110,349.05 110.5,349.05 111,349.05 111.5,349.05 112,349.05 112.5,349.05 113,349.05 113.5,349.05 114,349.05 114.5,349.05 115,349.05 115.5,349.05 116,349.05 116.5,349.05 117,349.05 117.5,349.05 118,349.05 118.5,349.05 119,349.05 119.5,349.05 120,349.05 120.5,349.05 121,349.05 121.5,349.05 122,349.05 122.5,349.05 123,349.05 123.5,349.05 124,349.05 124.5,349.05 125,349.05 125.5,349.05 126,349.05 126.5,349.05 127,349.05 127.5,349.05 128,349.05 128.5,349.05 129,349.05 129.5,349.05 130,349.05 130.5,349.05 131,349.05 131.5,349.05 132,349.05 132.5,349.05 133,349.04 133.5,349.04 134,349.04 134.5,349.04 135,349.04 135.5,349.04 136,349.04 136.5,349.03 137,349.03 137.5,349.03 138,349.02 138.5,349.02 139,349.01 139.5,349.01 140,349 140.5,348.99 141,348.98 141.5,348.97 142,348.96 142.5,348.95 143,348.94 143.5,348.92 144,348.91 144.5,348.89 145,348.87 145.5,348.85 146,348.82 146.5,348.8 147,348.77 147.5,348.74 148,348.71 148.5,348.67 149,348.64 149.5,348.6 150,348.55 150.5,348.51 151,348.47 151.5,348.42 152,348.37 152.5,348.32 153,348.26 153.5,348.21 154,348.15 154.5,348.09 155,348.04 155.5,347.98 156,347.92 156.5,347.86 157,347.81 157.5,347.75 158,347.69 158.5,347.64 159,347.59 159.5,347.54 160,347.49 160.5,347.45 161,347.41 161.5,347.38 162,347.35 162.5,347.32 163,347.3 163.5,347.28 164,347.27 164.5,347.26 165,347.26 165.5,347.26 166,347.27 166.5,347.28 167,347.3 167.5,347.32 168,347.35 168.5,347.38 169,347.42 169.5,347.46 170,347.5 170.5,347.55 171,347.6 171.5,347.65 172,347.7 172.5,347.76 173,347.82 173.5,347.87 174,347.93 174.5,347.99 175,348.05 175.5,348.11 176,348.16 176.5,348.22 177,348.27 177.5,348.33 178,348.38 178.5,348.43 179,348.47 179.5,348.52 180,348.56 180.5,348.6 181,348.64 181.5,348.68 182,348.71 182.5,348.74 183,348.77 183.5,348.8 184,348.83 184.5,348.85 185,348.87 185.5,348.89 186,348.91 186.5,348.93 187,348.94 187.5,348.95 188,348.97 188.5,348.98 189,348.99 189.5,348.99 190,349 190.5,349.01 191,349.01 191.5,349.02 192,349.02 192.5,349.03 193,349.03 193.5,349.03 194,349.04 194.5,349.04 195,349.04 195.5,349.04 196,349.04 196.5,349.04 197,349.05 197.5,349.05 198,349.05 198.5,349.05 199,349.05 199.5,349.05 200,349.05 200.5,349.05 201,349.05 201.5,349.05 202,349.05 202.5,349.05 203,349.05 203.5,349.05 204,349.05 204.5,349.05 205,349.05 205.5,349.05 206,349.05 206.5,349.05 207,349.05 207.5,349.05 208,349.05 208.5,349.05 209,349.05 209.5,349.05 210,349.05 210.5,349.05 211,349.05 211.5,349.05 212,349.05 212.5,349.05 213,349.05 213.5,349.05 214,349.05 214.5,349.05 215,349.05 215.5,349.05 216,349.05 216.5,349.05 217,349.05 217.5,349.05 218,349.05 218.5,349.05 219,349.05 219.5,349.05 220,349.05 220.5,349.05 221,349.05 221.5,349.05 222,349.05 222.5,349.05 223,349.05 223.5,349.05 224,349.05 224.5,349.05 225,349.05 225.5,349.05 226,349.05 226.5,349.05 227,349.05 227.5,349.05 228,349.05 228.5,349.05 229,349.05 229.5,349.05 230,349.05 230.5,349.05 231,349.05 231.5,349.05 232,349.05 232.5,349.05 233,349.05 233.5,349.05 234,349.05 234.5,349.05 235,349.05 235.5,349.05 236,349.05 236.5,349.05 237,349.05 237.5,349.05 238,349.05 238.5,349.05 239,349.05 239.5,349.05 240,349.05 240.5,349.05 241,349.05 241.5,349.05 242,349.05 242.5,349.05 243,349.05 243.5,349.05 244,349.05 244.5,349.05 245,349.05 245.5,349.05 246,349.05 246.5,349.05 247,349.05 247.5,349.05 248,349.05 248.5,349.05 249,349.05 249.5,349.05 250,349.05 250.5,349.05 251,349.05 251.5,349.05 252,349.05 252.5,349.05 253,349.05 253.5,349.05 254,349.05 254.5,349.05 255,349.05 255.5,349.05 256,349.05 256.5,349.05 257,349.05 257.5,349.05 258,349.05 258.5,349.05 259,349.05 259.5,349.05 260,349.05 260.5,349.05 261,349.05 261.5,349.05 262,349.05 262.5,349.05 263,349.05 263.5,349.05 264,349.05 264.5,349.05 265,349.05 265.5,349.05 266,349.05 266.5,349.05 267,349.05 267.5,349.05 268,349.05 268.5,349.05 269,349.05 269.5,349.05 270,349.05 270.5,349.05 271,349.05 271.5,349.05 272,349.05 272.5,349.05 273,349.05 273.5,349.05 274,349.05 274.5,349.05 275,349.05 275.5,349.05 276,349.05 276.5,349.05 277,349.05 277.5,349.05 278,349.05 278.5,349.05 279,349.05 279.5,349.05 280,349.05 280.5,349.05 281,349.05 281.5,349.05 282,349.05 282.5,349.05 283,349.05 283.5,349.05 284,349.05 284.5,349.05 285,349.05 285.5,349.05 286,349.05 286.5,349.05 287,349.05 287.5,349.05 288,349.05 288.5,349.05 289,349.05 289.5,349.05 290,349.05 290.5,349.05 291,349.05 291.5,349.05 292,349.05 292.5,349.05 293,349.05 293.5,349.05 294,349.05 294.5,349.05 295,349.05 295.5,349.05 296,349.05 296.5,349.05 297,349.05 297.5,349.05 298,349.04 298.5,349.04 299,349.04 299.5,349.04 300,349.04 300.5,349.04 301,349.03 301.5,349.03 302,349.02 302.5,349.02 303,349.01 303.5,349.01 304,349 304.5,348.99 305,348.98 305.5,348.97 306,348.95 306.5,348.94 307,348.92 307.5,348.9 308,348.87 308.5,348.85 309,348.82 309.5,348.78 310,348.75 310.5,348.7 311,348.66 311.5,348.6 312,348.55 312.5,348.48 313,348.41 313.5,348.34 314,348.26 314.5,348.17 315,348.07 315.5,347.97 316,347.85 316.5,347.73 317,347.61 317.5,347.47 318,347.33 318.5,347.18 319,347.02 319.5,346.86 320,346.68 320.5,346.51 321,346.32 321.5,346.14 322,345.94 322.5,345.75 323,345.55 323.5,345.36 324,345.16 324.5,344.96 325,344.77 325.5,344.58 326,344.39 326.5,344.21 327,344.04 327.5,343.88 328,343.72 328.5,343.58 329,343.45 329.5,343.34 330,343.23 330.5,343.15 331,343.08 331.5,343.02 332,342.98 332.5,342.96 333,342.96 333.5,342.98 334,343.01 334.5,343.06 335,343.12 335.5,343.21 336,343.3 336.5,343.42 337,343.54 337.5,343.68 338,343.83 338.5,343.99 339,344.16 339.5,344.34 340,344.52 340.5,344.71 341,344.9 341.5,345.1 342,345.3 342.5,345.5 343,345.69 343.5,345.89 344,346.08 344.5,346.27 345,346.45 345.5,346.63 346,346.81 346.5,346.97 347,347.13 347.5,347.28 348,347.43 348.5,347.57 349,347.7 349.5,347.82 350,347.93 350.5,348.04 351,348.14 351.5,348.23 352,348.31 352.5,348.39 353,348.46 353.5,348.53 354,348.59 354.5,348.64 355,348.69 355.5,348.73 356,348.77 356.5,348.81 357,348.84 357.5,348.87 358,348.89 358.5,348.91 359,348.93 359.5,348.95 360,348.96 360.5,348.98 361,348.99 361.5,349 362,349 362.5,349.01 363,349.02 363.5,349.02 364,349.03" stroke="#ff6868" stroke-width="1.15"/>
<polyline points="48.21,321 55.27,321 62.32,321 69.38,321 76.43,321 83.49,321 90.54,321 97.6,321 104.65,320.99 111.71,320.9 118.76,320.51 125.82,319.31 132.87,316.76 139.93,313.22 146.98,310.57 154.04,310.79 161.09,313.7 168.15,317.15 175.2,319.24 182.26,318.97 189.31,314.49 196.37,301.97 203.42,278.98 210.48,251.69 217.53,235.62 224.59,242.45 231.64,267.03 238.7,293.31 245.75,310.39 252.81,317.97 259.86,320.36 266.92,320.9 273.97,320.94 281.03,320.59 288.08,318.96 295.14,313.91 302.19,303.95 309.25,292.56 316.3,288.12 323.36,294.64 330.41,306.35 337.47,315.36 344.52,319.5 351.58,320.72 358.63,320.97 365.69,321 372.74,321 379.8,321" stroke="#ff0000" stroke-width="1.6" stroke-dasharray="2.6,2.4"/>
<polyline points="48.21,321 55.27,321 62.32,321 69.38,321 76.43,321 83.49,321 90.54,321 97.6,321 104.65,321 111.71,320.94 118.76,320.62 125.82,319.39 132.87,316.46 139.93,312.37 146.98,309.82 154.04,310.8 161.09,314.02 168.15,317.25 175.2,319.43 182.26,319.99 189.31,317.14 196.37,305.18 203.42,277.77 210.48,243.4 217.53,228.55 224.59,244.02 231.64,269.27 238.7,290.17 245.75,307.49 252.81,317.55 259.86,320.55 266.92,320.97 273.97,320.99 281.03,320.81 288.08,319.56 295.14,314.41 302.19,302.63 309.25,289.65 316.3,287.6 323.36,297.14 330.41,307.35 337.47,313.81 344.52,317.97 351.58,320.18 358.63,320.87 365.69,320.99 372.74,321 379.8,321" stroke="#ff0000" stroke-width="1.7"/>
<path d="M51.74 321H58.8V321H65.85V321H72.91V321H79.96V321H87.02V321H94.07V321H101.12V321H108.18V321.11H115.24V320.9H122.29V320.29H129.34V317.67H136.4V312.87H143.46V309.72H150.51V310.98H157.56V313.48H164.62V316.17H171.68V318.35H178.73V318.89H185.79V317.78H192.84V309.9H199.9V281.6H206.95V243.64H214V227.52H221.06V250.08H228.12V276.23H235.17V295.57H242.23V308.11H249.28V317.42H256.33V319.32H263.39V320.75H270.44V320.11H277.5V319.21H284.56V317.96H291.61V312.05H298.67V299.51H305.72V288.41H312.78V286.98H319.83V294.86H326.89V304.89H333.94V312.91H341V318.32H348.05V320.29H355.1V320.83H362.16V321H369.21V321H376.27" stroke="#008000" stroke-width="1.3" stroke-linejoin="miter"/>
</g>
<g font-family="'Liberation Sans', sans-serif" fill="#626262">
<text x="108.6" y="402.2" font-size="12" textLength="73.3" lengthAdjust="spacing">Main galaxy:</text>
<text x="190.4" y="402.2" font-size="12" textLength="124.6" lengthAdjust="spacing">0719–52203–0007</text>
<text x="60.5" y="559.3" font-size="11" text-anchor="middle">4850</text>
<text x="121.12" y="559.3" font-size="11" text-anchor="middle">4855</text>
<text x="181.74" y="559.3" font-size="11" text-anchor="middle">4860</text>
<text x="242.36" y="559.3" font-size="11" text-anchor="middle">4865</text>
<text x="302.98" y="559.3" font-size="11" text-anchor="middle">4870</text>
<text x="363.6" y="559.3" font-size="11" text-anchor="middle">4875</text>
<text x="212" y="571.9" font-size="11" text-anchor="middle" textLength="98" lengthAdjust="spacing">rest wavelength (&#197;)</text>
<text x="56.8" y="544.1" font-size="11" text-anchor="end">−20</text>
<text x="56.8" y="520.9" font-size="11" text-anchor="end">0</text>
<text x="56.8" y="493.8" font-size="11" text-anchor="end">20</text>
<text x="56.8" y="466.7" font-size="11" text-anchor="end">40</text>
<text x="56.8" y="439.6" font-size="11" text-anchor="end">60</text>
<text x="56.8" y="415.8" font-size="11" text-anchor="end">80</text>
<text transform="translate(29.6,476.75) rotate(-90)" font-size="11" text-anchor="middle" textLength="117" lengthAdjust="spacing">f<tspan font-size="8" dy="2.5">&#955;</tspan><tspan dy="-2.5"> (10</tspan><tspan font-size="7.5" dy="-4">&#8722;17</tspan><tspan dy="4">erg/s/cm</tspan><tspan font-size="7.5" dy="-4">2</tspan><tspan dy="4">/&#197;)</tspan></text>
</g>
<path d="M60.5 407.8H363.6V543.3H60.5ZM60.5 543.3v-2.7M60.5 407.8v2.7M72.62 543.3v-1.35M72.62 407.8v1.35M84.75 543.3v-1.35M84.75 407.8v1.35M96.87 543.3v-1.35M96.87 407.8v1.35M109 543.3v-1.35M109 407.8v1.35M121.12 543.3v-2.7M121.12 407.8v2.7M133.24 543.3v-1.35M133.24 407.8v1.35M145.37 543.3v-1.35M145.37 407.8v1.35M157.49 543.3v-1.35M157.49 407.8v1.35M169.62 543.3v-1.35M169.62 407.8v1.35M181.74 543.3v-2.7M181.74 407.8v2.7M193.86 543.3v-1.35M193.86 407.8v1.35M205.99 543.3v-1.35M205.99 407.8v1.35M218.11 543.3v-1.35M218.11 407.8v1.35M230.24 543.3v-1.35M230.24 407.8v1.35M242.36 543.3v-2.7M242.36 407.8v2.7M254.48 543.3v-1.35M254.48 407.8v1.35M266.61 543.3v-1.35M266.61 407.8v1.35M278.73 543.3v-1.35M278.73 407.8v1.35M290.86 543.3v-1.35M290.86 407.8v1.35M302.98 543.3v-2.7M302.98 407.8v2.7M315.1 543.3v-1.35M315.1 407.8v1.35M327.23 543.3v-1.35M327.23 407.8v1.35M339.35 543.3v-1.35M339.35 407.8v1.35M351.48 543.3v-1.35M351.48 407.8v1.35M363.6 543.3v-2.7M363.6 407.8v2.7M60.5 543.3h6M363.6 543.3h-6M60.5 536.52h3M363.6 536.52h-3M60.5 529.75h3M363.6 529.75h-3M60.5 522.97h3M363.6 522.97h-3M60.5 516.2h6M363.6 516.2h-6M60.5 509.42h3M363.6 509.42h-3M60.5 502.65h3M363.6 502.65h-3M60.5 495.87h3M363.6 495.87h-3M60.5 489.1h6M363.6 489.1h-6M60.5 482.32h3M363.6 482.32h-3M60.5 475.55h3M363.6 475.55h-3M60.5 468.77h3M363.6 468.77h-3M60.5 462h6M363.6 462h-6M60.5 455.22h3M363.6 455.22h-3M60.5 448.45h3M363.6 448.45h-3M60.5 441.67h3M363.6 441.67h-3M60.5 434.9h6M363.6 434.9h-6M60.5 428.12h3M363.6 428.12h-3M60.5 421.35h3M363.6 421.35h-3M60.5 414.57h3M363.6 414.57h-3M60.5 407.8h6M363.6 407.8h-6" fill="none" stroke="#b8b8b8" stroke-width="1"/>
<g clip-path="url(#c2)" fill="none" stroke-linejoin="round">
<polyline points="60.5,543.3 61,543.3 61.5,543.3 62,543.3 62.5,543.3 63,543.3 63.5,543.3 64,543.3 64.5,543.3 65,543.3 65.5,543.3 66,543.3 66.5,543.3 67,543.3 67.5,543.3 68,543.3 68.5,543.3 69,543.3 69.5,543.3 70,543.3 70.5,543.3 71,543.3 71.5,543.3 72,543.3 72.5,543.3 73,543.3 73.5,543.3 74,543.3 74.5,543.3 75,543.3 75.5,543.3 76,543.3 76.5,543.3 77,543.3 77.5,543.3 78,543.3 78.5,543.3 79,543.3 79.5,543.3 80,543.3 80.5,543.3 81,543.3 81.5,543.3 82,543.29 82.5,543.29 83,543.29 83.5,543.29 84,543.29 84.5,543.29 85,543.29 85.5,543.29 86,543.29 86.5,543.29 87,543.29 87.5,543.29 88,543.29 88.5,543.29 89,543.29 89.5,543.28 90,543.28 90.5,543.28 91,543.28 91.5,543.28 92,543.28 92.5,543.28 93,543.27 93.5,543.27 94,543.27 94.5,543.27 95,543.27 95.5,543.26 96,543.26 96.5,543.26 97,543.26 97.5,543.25 98,543.25 98.5,543.25 99,543.24 99.5,543.24 100,543.23 100.5,543.23 101,543.22 101.5,543.22 102,543.21 102.5,543.21 103,543.2 103.5,543.2 104,543.19 104.5,543.18 105,543.17 105.5,543.17 106,543.16 106.5,543.15 107,543.14 107.5,543.13 108,543.12 108.5,543.11 109,543.09 109.5,543.08 110,543.07 110.5,543.05 111,543.04 111.5,543.02 112,543.01 112.5,542.99 113,542.97 113.5,542.95 114,542.93 114.5,542.91 115,542.88 115.5,542.86 116,542.83 116.5,542.81 117,542.78 117.5,542.75 118,542.72 118.5,542.69 119,542.65 119.5,542.62 120,542.58 120.5,542.54 121,542.5 121.5,542.45 122,542.41 122.5,542.36 123,542.31 123.5,542.26 124,542.2 124.5,542.15 125,542.09 125.5,542.02 126,541.96 126.5,541.89 127,541.82 127.5,541.74 128,541.67 128.5,541.59 129,541.5 129.5,541.41 130,541.32 130.5,541.22 131,541.12 131.5,541.02 132,540.91 132.5,540.8 133,540.68 133.5,540.56 134,540.43 134.5,540.3 135,540.17 135.5,540.02 136,539.88 136.5,539.72 137,539.56 137.5,539.4 138,539.23 138.5,539.05 139,538.87 139.5,538.68 140,538.48 140.5,538.28 141,538.07 141.5,537.85 142,537.63 142.5,537.4 143,537.16 143.5,536.91 144,536.66 144.5,536.39 145,536.12 145.5,535.84 146,535.55 146.5,535.26 147,534.95 147.5,534.63 148,534.31 148.5,533.98 149,533.63 149.5,533.28 150,532.92 150.5,532.55 151,532.16 151.5,531.77 152,531.37 152.5,530.96 153,530.53 153.5,530.1 154,529.65 154.5,529.2 155,528.73 155.5,528.26 156,527.77 156.5,527.27 157,526.76 157.5,526.24 158,525.71 158.5,525.17 159,524.61 159.5,524.05 160,523.47 160.5,522.89 161,522.29 161.5,521.68 162,521.06 162.5,520.43 163,519.79 163.5,519.14 164,518.47 164.5,517.8 165,517.12 165.5,516.42 166,515.72 166.5,515.01 167,514.28 167.5,513.55 168,512.81 168.5,512.06 169,511.3 169.5,510.53 170,509.76 170.5,508.97 171,508.18 171.5,507.38 172,506.57 172.5,505.76 173,504.94 173.5,504.12 174,503.28 174.5,502.45 175,501.61 175.5,500.76 176,499.91 176.5,499.06 177,498.2 177.5,497.34 178,496.48 178.5,495.62 179,494.75 179.5,493.89 180,493.02 180.5,492.16 181,491.29 181.5,490.43 182,489.57 182.5,488.71 183,487.86 183.5,487.01 184,486.16 184.5,485.32 185,484.48 185.5,483.65 186,482.83 186.5,482.01 187,481.2 187.5,480.4 188,479.61 188.5,478.82 189,478.05 189.5,477.29 190,476.54 190.5,475.8 191,475.07 191.5,474.36 192,473.66 192.5,472.98 193,472.31 193.5,471.65 194,471.01 194.5,470.39 195,469.78 195.5,469.2 196,468.63 196.5,468.07 197,467.54 197.5,467.03 198,466.53 198.5,466.06 199,465.61 199.5,465.17 200,464.76 200.5,464.37 201,464.01 201.5,463.66 202,463.34 202.5,463.04 203,462.76 203.5,462.51 204,462.28 204.5,462.08 205,461.9 205.5,461.74 206,461.61 206.5,461.5 207,461.42 207.5,461.36 208,461.33 208.5,461.32 209,461.34 209.5,461.38 210,461.45 210.5,461.54 211,461.65 211.5,461.79 212,461.96 212.5,462.15 213,462.36 213.5,462.6 214,462.86 214.5,463.14 215,463.45 215.5,463.78 216,464.13 216.5,464.51 217,464.9 217.5,465.32 218,465.76 218.5,466.22 219,466.7 219.5,467.2 220,467.72 220.5,468.26 221,468.82 221.5,469.4 222,469.99 222.5,470.61 223,471.23 223.5,471.88 224,472.54 224.5,473.21 225,473.9 225.5,474.61 226,475.33 226.5,476.06 227,476.8 227.5,477.55 228,478.32 228.5,479.09 229,479.88 229.5,480.68 230,481.48 230.5,482.29 231,483.11 231.5,483.94 232,484.77 232.5,485.61 233,486.45 233.5,487.3 234,488.16 234.5,489.01 235,489.87 235.5,490.73 236,491.6 236.5,492.46 237,493.32 237.5,494.19 238,495.05 238.5,495.92 239,496.78 239.5,497.64 240,498.5 240.5,499.36 241,500.21 241.5,501.06 242,501.9 242.5,502.74 243,503.58 243.5,504.4 244,505.23 244.5,506.05 245,506.86 245.5,507.66 246,508.46 246.5,509.25 247,510.03 247.5,510.8 248,511.57 248.5,512.32 249,513.07 249.5,513.81 250,514.54 250.5,515.26 251,515.97 251.5,516.67 252,517.36 252.5,518.04 253,518.71 253.5,519.37 254,520.01 254.5,520.65 255,521.28 255.5,521.89 256,522.5 256.5,523.09 257,523.68 257.5,524.25 258,524.81 258.5,525.36 259,525.9 259.5,526.42 260,526.94 260.5,527.45 261,527.94 261.5,528.42 262,528.9 262.5,529.36 263,529.81 263.5,530.25 264,530.68 264.5,531.1 265,531.51 265.5,531.91 266,532.3 266.5,532.68 267,533.05 267.5,533.4 268,533.75 268.5,534.09 269,534.42 269.5,534.74 270,535.06 270.5,535.36 271,535.65 271.5,535.94 272,536.22 272.5,536.49 273,536.75 273.5,537 274,537.24 274.5,537.48 275,537.71 275.5,537.93 276,538.14 276.5,538.35 277,538.55 277.5,538.75 278,538.93 278.5,539.11 279,539.29 279.5,539.46 280,539.62 280.5,539.78 281,539.93 281.5,540.07 282,540.21 282.5,540.35 283,540.48 283.5,540.6 284,540.72 284.5,540.84 285,540.95 285.5,541.06 286,541.16 286.5,541.26 287,541.35 287.5,541.44 288,541.53 288.5,541.61 289,541.69 289.5,541.77 290,541.84 290.5,541.92 291,541.98 291.5,542.05 292,542.11 292.5,542.17 293,542.22 293.5,542.28 294,542.33 294.5,542.38 295,542.43 295.5,542.47 296,542.51 296.5,542.55 297,542.59 297.5,542.63 298,542.66 298.5,542.7 299,542.73 299.5,542.76 300,542.79 300.5,542.82 301,542.84 301.5,542.87 302,542.89 302.5,542.92 303,542.94 303.5,542.96 304,542.98 304.5,542.99 305,543.01 305.5,543.03 306,543.04 306.5,543.06 307,543.07 307.5,543.09 308,543.1 308.5,543.11 309,543.12 309.5,543.13 310,543.14 310.5,543.15 311,543.16 311.5,543.17 312,543.18 312.5,543.18 313,543.19 313.5,543.2 314,543.2 314.5,543.21 315,543.22 315.5,543.22 316,543.23 316.5,543.23 317,543.24 317.5,543.24 318,543.24 318.5,543.25 319,543.25 319.5,543.25 320,543.26 320.5,543.26 321,543.26 321.5,543.26 322,543.27 322.5,543.27 323,543.27 323.5,543.27 324,543.27 324.5,543.28 325,543.28 325.5,543.28 326,543.28 326.5,543.28 327,543.28 327.5,543.28 328,543.29 328.5,543.29 329,543.29 329.5,543.29 330,543.29 330.5,543.29 331,543.29 331.5,543.29 332,543.29 332.5,543.29 333,543.29 333.5,543.29 334,543.29 334.5,543.29 335,543.29 335.5,543.3 336,543.3 336.5,543.3 337,543.3 337.5,543.3 338,543.3 338.5,543.3 339,543.3 339.5,543.3 340,543.3 340.5,543.3 341,543.3 341.5,543.3 342,543.3 342.5,543.3 343,543.3 343.5,543.3 344,543.3 344.5,543.3 345,543.3 345.5,543.3 346,543.3 346.5,543.3 347,543.3 347.5,543.3 348,543.3 348.5,543.3 349,543.3 349.5,543.3 350,543.3 350.5,543.3 351,543.3 351.5,543.3 352,543.3 352.5,543.3 353,543.3 353.5,543.3 354,543.3 354.5,543.3 355,543.3 355.5,543.3 356,543.3 356.5,543.3 357,543.3 357.5,543.3 358,543.3 358.5,543.3 359,543.3 359.5,543.3 360,543.3 360.5,543.3 361,543.3 361.5,543.3 362,543.3 362.5,543.3 363,543.3 363.5,543.3 364,543.3" stroke="#4848ff" stroke-width="0.85" stroke-dasharray="1.6,0.8"/>
<polyline points="60.5,543.3 61,543.3 61.5,543.3 62,543.3 62.5,543.3 63,543.3 63.5,543.3 64,543.3 64.5,543.3 65,543.3 65.5,543.3 66,543.3 66.5,543.3 67,543.3 67.5,543.3 68,543.3 68.5,543.3 69,543.3 69.5,543.3 70,543.3 70.5,543.3 71,543.3 71.5,543.3 72,543.3 72.5,543.3 73,543.3 73.5,543.3 74,543.3 74.5,543.3 75,543.3 75.5,543.3 76,543.3 76.5,543.3 77,543.3 77.5,543.3 78,543.3 78.5,543.3 79,543.3 79.5,543.3 80,543.3 80.5,543.3 81,543.3 81.5,543.3 82,543.3 82.5,543.3 83,543.3 83.5,543.3 84,543.3 84.5,543.3 85,543.3 85.5,543.3 86,543.3 86.5,543.3 87,543.3 87.5,543.3 88,543.3 88.5,543.3 89,543.3 89.5,543.3 90,543.3 90.5,543.3 91,543.3 91.5,543.3 92,543.3 92.5,543.3 93,543.3 93.5,543.3 94,543.3 94.5,543.3 95,543.3 95.5,543.3 96,543.3 96.5,543.3 97,543.3 97.5,543.3 98,543.3 98.5,543.3 99,543.3 99.5,543.3 100,543.3 100.5,543.3 101,543.3 101.5,543.3 102,543.3 102.5,543.3 103,543.3 103.5,543.3 104,543.3 104.5,543.3 105,543.3 105.5,543.3 106,543.3 106.5,543.3 107,543.3 107.5,543.3 108,543.3 108.5,543.3 109,543.3 109.5,543.3 110,543.3 110.5,543.3 111,543.3 111.5,543.3 112,543.3 112.5,543.3 113,543.29 113.5,543.29 114,543.29 114.5,543.29 115,543.29 115.5,543.29 116,543.29 116.5,543.29 117,543.29 117.5,543.28 118,543.28 118.5,543.28 119,543.28 119.5,543.28 120,543.27 120.5,543.27 121,543.27 121.5,543.26 122,543.26 122.5,543.25 123,543.25 123.5,543.24 124,543.24 124.5,543.23 125,543.22 125.5,543.21 126,543.21 126.5,543.2 127,543.18 127.5,543.17 128,543.16 128.5,543.15 129,543.13 129.5,543.11 130,543.1 130.5,543.08 131,543.05 131.5,543.03 132,543 132.5,542.98 133,542.95 133.5,542.91 134,542.88 134.5,542.84 135,542.8 135.5,542.75 136,542.7 136.5,542.65 137,542.6 137.5,542.53 138,542.47 138.5,542.4 139,542.32 139.5,542.24 140,542.16 140.5,542.06 141,541.96 141.5,541.86 142,541.74 142.5,541.62 143,541.49 143.5,541.35 144,541.21 144.5,541.05 145,540.88 145.5,540.71 146,540.52 146.5,540.32 147,540.11 147.5,539.88 148,539.65 148.5,539.4 149,539.13 149.5,538.85 150,538.56 150.5,538.25 151,537.92 151.5,537.58 152,537.22 152.5,536.84 153,536.45 153.5,536.03 154,535.6 154.5,535.14 155,534.67 155.5,534.17 156,533.66 156.5,533.12 157,532.56 157.5,531.98 158,531.37 158.5,530.74 159,530.09 159.5,529.42 160,528.72 160.5,528 161,527.25 161.5,526.48 162,525.69 162.5,524.87 163,524.03 163.5,523.16 164,522.28 164.5,521.37 165,520.43 165.5,519.48 166,518.51 166.5,517.51 167,516.49 167.5,515.46 168,514.4 168.5,513.33 169,512.24 169.5,511.14 170,510.02 170.5,508.89 171,507.75 171.5,506.6 172,505.43 172.5,504.26 173,503.09 173.5,501.91 174,500.72 174.5,499.54 175,498.35 175.5,497.17 176,495.99 176.5,494.82 177,493.66 177.5,492.5 178,491.36 178.5,490.23 179,489.12 179.5,488.03 180,486.95 180.5,485.9 181,484.87 181.5,483.87 182,482.9 182.5,481.95 183,481.04 183.5,480.16 184,479.32 184.5,478.51 185,477.74 185.5,477.01 186,476.33 186.5,475.68 187,475.09 187.5,474.53 188,474.03 188.5,473.57 189,473.17 189.5,472.81 190,472.5 190.5,472.25 191,472.05 191.5,471.9 192,471.8 192.5,471.76 193,471.77 193.5,471.83 194,471.95 194.5,472.12 195,472.34 195.5,472.62 196,472.94 196.5,473.32 197,473.75 197.5,474.22 198,474.74 198.5,475.32 199,475.93 199.5,476.59 200,477.29 200.5,478.04 201,478.82 201.5,479.64 202,480.5 202.5,481.39 203,482.32 203.5,483.28 204,484.26 204.5,485.27 205,486.31 205.5,487.37 206,488.46 206.5,489.56 207,490.68 207.5,491.81 208,492.96 208.5,494.11 209,495.28 209.5,496.46 210,497.64 210.5,498.82 211,500 211.5,501.19 212,502.37 212.5,503.55 213,504.73 213.5,505.89 214,507.05 214.5,508.2 215,509.34 215.5,510.47 216,511.58 216.5,512.68 217,513.76 217.5,514.82 218,515.87 218.5,516.9 219,517.9 219.5,518.89 220,519.86 220.5,520.8 221,521.73 221.5,522.63 222,523.51 222.5,524.36 223,525.19 223.5,526 224,526.79 224.5,527.55 225,528.28 225.5,529 226,529.68 226.5,530.35 227,530.99 227.5,531.61 228,532.21 228.5,532.78 229,533.33 229.5,533.86 230,534.37 230.5,534.86 231,535.32 231.5,535.77 232,536.2 232.5,536.6 233,536.99 233.5,537.36 234,537.72 234.5,538.05 235,538.37 235.5,538.68 236,538.96 236.5,539.24 237,539.5 237.5,539.74 238,539.97 238.5,540.19 239,540.4 239.5,540.59 240,540.78 240.5,540.95 241,541.11 241.5,541.27 242,541.41 242.5,541.54 243,541.67 243.5,541.79 244,541.9 244.5,542 245,542.1 245.5,542.19 246,542.28 246.5,542.35 247,542.43 247.5,542.5 248,542.56 248.5,542.62 249,542.67 249.5,542.72 250,542.77 250.5,542.81 251,542.85 251.5,542.89 252,542.93 252.5,542.96 253,542.99 253.5,543.01 254,543.04 254.5,543.06 255,543.08 255.5,543.1 256,543.12 256.5,543.14 257,543.15 257.5,543.17 258,543.18 258.5,543.19 259,543.2 259.5,543.21 260,543.22 260.5,543.23 261,543.23 261.5,543.24 262,543.25 262.5,543.25 263,543.26 263.5,543.26 264,543.26 264.5,543.27 265,543.27 265.5,543.27 266,543.28 266.5,543.28 267,543.28 267.5,543.28 268,543.28 268.5,543.29 269,543.29 269.5,543.29 270,543.29 270.5,543.29 271,543.29 271.5,543.29 272,543.29 272.5,543.29 273,543.3 273.5,543.3 274,543.3 274.5,543.3 275,543.3 275.5,543.3 276,543.3 276.5,543.3 277,543.3 277.5,543.3 278,543.3 278.5,543.3 279,543.3 279.5,543.3 280,543.3 280.5,543.3 281,543.3 281.5,543.3 282,543.3 282.5,543.3 283,543.3 283.5,543.3 284,543.3 284.5,543.3 285,543.3 285.5,543.3 286,543.3 286.5,543.3 287,543.3 287.5,543.3 288,543.3 288.5,543.3 289,543.3 289.5,543.3 290,543.3 290.5,543.3 291,543.3 291.5,543.3 292,543.3 292.5,543.3 293,543.3 293.5,543.3 294,543.3 294.5,543.3 295,543.3 295.5,543.3 296,543.3 296.5,543.3 297,543.3 297.5,543.3 298,543.3 298.5,543.3 299,543.3 299.5,543.3 300,543.3 300.5,543.3 301,543.3 301.5,543.3 302,543.3 302.5,543.3 303,543.3 303.5,543.3 304,543.3 304.5,543.3 305,543.3 305.5,543.3 306,543.3 306.5,543.3 307,543.3 307.5,543.3 308,543.3 308.5,543.3 309,543.3 309.5,543.3 310,543.3 310.5,543.3 311,543.3 311.5,543.3 312,543.3 312.5,543.3 313,543.3 313.5,543.3 314,543.3 314.5,543.3 315,543.3 315.5,543.3 316,543.3 316.5,543.3 317,543.3 317.5,543.3 318,543.3 318.5,543.3 319,543.3 319.5,543.3 320,543.3 320.5,543.3 321,543.3 321.5,543.3 322,543.3 322.5,543.3 323,543.3 323.5,543.3 324,543.3 324.5,543.3 325,543.3 325.5,543.3 326,543.3 326.5,543.3 327,543.3 327.5,543.3 328,543.3 328.5,543.3 329,543.3 329.5,543.3 330,543.3 330.5,543.3 331,543.3 331.5,543.3 332,543.3 332.5,543.3 333,543.3 333.5,543.3 334,543.3 334.5,543.3 335,543.3 335.5,543.3 336,543.3 336.5,543.3 337,543.3 337.5,543.3 338,543.3 338.5,543.3 339,543.3 339.5,543.3 340,543.3 340.5,543.3 341,543.3 341.5,543.3 342,543.3 342.5,543.3 343,543.3 343.5,543.3 344,543.3 344.5,543.3 345,543.3 345.5,543.3 346,543.3 346.5,543.3 347,543.3 347.5,543.3 348,543.3 348.5,543.3 349,543.3 349.5,543.3 350,543.3 350.5,543.3 351,543.3 351.5,543.3 352,543.3 352.5,543.3 353,543.3 353.5,543.3 354,543.3 354.5,543.3 355,543.3 355.5,543.3 356,543.3 356.5,543.3 357,543.3 357.5,543.3 358,543.3 358.5,543.3 359,543.3 359.5,543.3 360,543.3 360.5,543.3 361,543.3 361.5,543.3 362,543.3 362.5,543.3 363,543.3 363.5,543.3 364,543.3" stroke="#0000ff" stroke-width="1.2"/>
<polyline points="60.5,543.3 61,543.3 61.5,543.3 62,543.3 62.5,543.3 63,543.3 63.5,543.3 64,543.3 64.5,543.3 65,543.3 65.5,543.3 66,543.3 66.5,543.3 67,543.3 67.5,543.3 68,543.3 68.5,543.3 69,543.3 69.5,543.3 70,543.3 70.5,543.3 71,543.3 71.5,543.3 72,543.3 72.5,543.3 73,543.3 73.5,543.3 74,543.3 74.5,543.3 75,543.3 75.5,543.3 76,543.3 76.5,543.3 77,543.3 77.5,543.3 78,543.3 78.5,543.3 79,543.3 79.5,543.3 80,543.3 80.5,543.3 81,543.3 81.5,543.3 82,543.3 82.5,543.3 83,543.3 83.5,543.3 84,543.3 84.5,543.3 85,543.3 85.5,543.3 86,543.3 86.5,543.3 87,543.3 87.5,543.3 88,543.3 88.5,543.3 89,543.3 89.5,543.3 90,543.3 90.5,543.3 91,543.3 91.5,543.3 92,543.3 92.5,543.3 93,543.3 93.5,543.3 94,543.3 94.5,543.3 95,543.3 95.5,543.3 96,543.3 96.5,543.3 97,543.3 97.5,543.3 98,543.3 98.5,543.3 99,543.3 99.5,543.3 100,543.3 100.5,543.3 101,543.3 101.5,543.3 102,543.3 102.5,543.3 103,543.3 103.5,543.3 104,543.3 104.5,543.3 105,543.3 105.5,543.3 106,543.3 106.5,543.3 107,543.3 107.5,543.3 108,543.3 108.5,543.3 109,543.3 109.5,543.3 110,543.3 110.5,543.3 111,543.3 111.5,543.3 112,543.3 112.5,543.3 113,543.3 113.5,543.3 114,543.3 114.5,543.3 115,543.3 115.5,543.3 116,543.3 116.5,543.3 117,543.3 117.5,543.3 118,543.3 118.5,543.3 119,543.3 119.5,543.3 120,543.3 120.5,543.3 121,543.3 121.5,543.3 122,543.3 122.5,543.3 123,543.3 123.5,543.3 124,543.3 124.5,543.3 125,543.3 125.5,543.3 126,543.3 126.5,543.3 127,543.3 127.5,543.3 128,543.3 128.5,543.3 129,543.3 129.5,543.3 130,543.3 130.5,543.3 131,543.3 131.5,543.3 132,543.3 132.5,543.3 133,543.3 133.5,543.3 134,543.3 134.5,543.3 135,543.3 135.5,543.3 136,543.3 136.5,543.3 137,543.3 137.5,543.3 138,543.3 138.5,543.3 139,543.3 139.5,543.3 140,543.3 140.5,543.3 141,543.3 141.5,543.3 142,543.3 142.5,543.3 143,543.3 143.5,543.3 144,543.3 144.5,543.3 145,543.3 145.5,543.3 146,543.3 146.5,543.3 147,543.3 147.5,543.3 148,543.3 148.5,543.3 149,543.3 149.5,543.3 150,543.3 150.5,543.3 151,543.3 151.5,543.3 152,543.3 152.5,543.3 153,543.3 153.5,543.3 154,543.3 154.5,543.3 155,543.3 155.5,543.3 156,543.3 156.5,543.3 157,543.3 157.5,543.3 158,543.3 158.5,543.3 159,543.3 159.5,543.3 160,543.3 160.5,543.3 161,543.3 161.5,543.29 162,543.29 162.5,543.29 163,543.29 163.5,543.29 164,543.29 164.5,543.29 165,543.29 165.5,543.28 166,543.28 166.5,543.28 167,543.28 167.5,543.28 168,543.27 168.5,543.27 169,543.26 169.5,543.26 170,543.26 170.5,543.25 171,543.24 171.5,543.24 172,543.23 172.5,543.22 173,543.21 173.5,543.2 174,543.19 174.5,543.18 175,543.17 175.5,543.15 176,543.14 176.5,543.12 177,543.1 177.5,543.08 178,543.06 178.5,543.03 179,543 179.5,542.97 180,542.94 180.5,542.91 181,542.87 181.5,542.82 182,542.78 182.5,542.73 183,542.67 183.5,542.62 184,542.55 184.5,542.48 185,542.41 185.5,542.33 186,542.24 186.5,542.15 187,542.05 187.5,541.94 188,541.83 188.5,541.7 189,541.57 189.5,541.43 190,541.27 190.5,541.11 191,540.94 191.5,540.75 192,540.56 192.5,540.35 193,540.12 193.5,539.89 194,539.64 194.5,539.37 195,539.09 195.5,538.79 196,538.48 196.5,538.15 197,537.8 197.5,537.43 198,537.05 198.5,536.64 199,536.22 199.5,535.77 200,535.3 200.5,534.82 201,534.31 201.5,533.78 202,533.22 202.5,532.65 203,532.05 203.5,531.43 204,530.78 204.5,530.11 205,529.42 205.5,528.71 206,527.97 206.5,527.21 207,526.43 207.5,525.62 208,524.8 208.5,523.95 209,523.08 209.5,522.19 210,521.28 210.5,520.36 211,519.41 211.5,518.45 212,517.48 212.5,516.49 213,515.49 213.5,514.48 214,513.45 214.5,512.42 215,511.38 215.5,510.34 216,509.29 216.5,508.24 217,507.19 217.5,506.14 218,505.1 218.5,504.06 219,503.03 219.5,502.01 220,501 220.5,500.01 221,499.03 221.5,498.08 222,497.14 222.5,496.22 223,495.34 223.5,494.47 224,493.64 224.5,492.84 225,492.07 225.5,491.34 226,490.64 226.5,489.99 227,489.37 227.5,488.79 228,488.26 228.5,487.78 229,487.33 229.5,486.94 230,486.6 230.5,486.3 231,486.05 231.5,485.86 232,485.71 232.5,485.62 233,485.58 233.5,485.59 234,485.65 234.5,485.77 235,485.93 235.5,486.15 236,486.42 236.5,486.73 237,487.1 237.5,487.51 238,487.97 238.5,488.48 239,489.03 239.5,489.62 240,490.26 240.5,490.93 241,491.64 241.5,492.39 242,493.17 242.5,493.99 243,494.83 243.5,495.7 244,496.6 244.5,497.53 245,498.47 245.5,499.44 246,500.42 246.5,501.42 247,502.43 247.5,503.46 248,504.49 248.5,505.53 249,506.58 249.5,507.63 250,508.68 250.5,509.72 251,510.77 251.5,511.81 252,512.85 252.5,513.88 253,514.9 253.5,515.91 254,516.9 254.5,517.89 255,518.86 255.5,519.81 256,520.75 256.5,521.66 257,522.56 257.5,523.44 258,524.3 258.5,525.14 259,525.96 259.5,526.76 260,527.53 260.5,528.28 261,529.01 261.5,529.71 262,530.39 262.5,531.05 263,531.69 263.5,532.3 264,532.89 264.5,533.46 265,534 265.5,534.52 266,535.02 266.5,535.5 267,535.96 267.5,536.4 268,536.81 268.5,537.21 269,537.59 269.5,537.95 270,538.29 270.5,538.61 271,538.92 271.5,539.21 272,539.48 272.5,539.74 273,539.99 273.5,540.22 274,540.43 274.5,540.64 275,540.83 275.5,541.01 276,541.18 276.5,541.34 277,541.49 277.5,541.62 278,541.75 278.5,541.87 279,541.99 279.5,542.09 280,542.19 280.5,542.28 281,542.36 281.5,542.44 282,542.51 282.5,542.58 283,542.64 283.5,542.7 284,542.75 284.5,542.8 285,542.84 285.5,542.88 286,542.92 286.5,542.96 287,542.99 287.5,543.02 288,543.04 288.5,543.07 289,543.09 289.5,543.11 290,543.13 290.5,543.14 291,543.16 291.5,543.17 292,543.19 292.5,543.2 293,543.21 293.5,543.22 294,543.23 294.5,543.23 295,543.24 295.5,543.25 296,543.25 296.5,543.26 297,543.26 297.5,543.27 298,543.27 298.5,543.27 299,543.28 299.5,543.28 300,543.28 300.5,543.28 301,543.29 301.5,543.29 302,543.29 302.5,543.29 303,543.29 303.5,543.29 304,543.29 304.5,543.29 305,543.29 305.5,543.3 306,543.3 306.5,543.3 307,543.3 307.5,543.3 308,543.3 308.5,543.3 309,543.3 309.5,543.3 310,543.3 310.5,543.3 311,543.3 311.5,543.3 312,543.3 312.5,543.3 313,543.3 313.5,543.3 314,543.3 314.5,543.3 315,543.3 315.5,543.3 316,543.3 316.5,543.3 317,543.3 317.5,543.3 318,543.3 318.5,543.3 319,543.3 319.5,543.3 320,543.3 320.5,543.3 321,543.3 321.5,543.3 322,543.3 322.5,543.3 323,543.3 323.5,543.3 324,543.3 324.5,543.3 325,543.3 325.5,543.3 326,543.3 326.5,543.3 327,543.3 327.5,543.3 328,543.3 328.5,543.3 329,543.3 329.5,543.3 330,543.3 330.5,543.3 331,543.3 331.5,543.3 332,543.3 332.5,543.3 333,543.3 333.5,543.3 334,543.3 334.5,543.3 335,543.3 335.5,543.3 336,543.3 336.5,543.3 337,543.3 337.5,543.3 338,543.3 338.5,543.3 339,543.3 339.5,543.3 340,543.3 340.5,543.3 341,543.3 341.5,543.3 342,543.3 342.5,543.3 343,543.3 343.5,543.3 344,543.3 344.5,543.3 345,543.3 345.5,543.3 346,543.3 346.5,543.3 347,543.3 347.5,543.3 348,543.3 348.5,543.3 349,543.3 349.5,543.3 350,543.3 350.5,543.3 351,543.3 351.5,543.3 352,543.3 352.5,543.3 353,543.3 353.5,543.3 354,543.3 354.5,543.3 355,543.3 355.5,543.3 356,543.3 356.5,543.3 357,543.3 357.5,543.3 358,543.3 358.5,543.3 359,543.3 359.5,543.3 360,543.3 360.5,543.3 361,543.3 361.5,543.3 362,543.3 362.5,543.3 363,543.3 363.5,543.3 364,543.3" stroke="#0000ff" stroke-width="1.2"/>
<path d="M52.23 514.44H65.8V515.25H79.37V513.35H92.94V514.17H106.51V515.25H120.08V517.83H133.65V516.2H147.22V511.05H160.79V486.66H174.36V456.58H187.93V441.67H201.5V444.38H215.07V449.53H228.64V455.5H242.21V475.96H255.78V503.73H269.35V514.57H282.92V516.61H296.49V519.05H310.06V518.37H323.63V519.72H337.2V517.69H350.77V516.61H364.34V516.61H377.91" stroke="#008000" stroke-width="1.2" stroke-linejoin="miter"/>
<polyline points="45.44,516.2 59.02,516.2 72.58,516.2 86.16,516.2 99.72,516.2 113.3,516.19 126.86,516.09 140.44,514.98 154,508.49 167.57,488.18 181.14,457.03 194.71,441.06 208.29,447.53 221.86,450.26 235.43,454.35 249,478.84 262.56,503.99 276.13,514.12 289.7,516.02 303.27,516.19 316.85,516.2 330.42,516.2 343.99,516.2 357.56,516.2 371.12,516.2 384.69,516.2" stroke="#ff0000" stroke-width="1.15"/>
<polyline points="45.44,516.2 59.02,516.2 72.58,516.2 86.16,516.19 99.72,516.14 113.3,515.86 126.86,514.74 140.44,511.21 154,502.55 167.57,486.34 181.14,463.94 194.71,443.03 208.29,434.22 221.86,442.72 235.43,463.5 249,485.96 262.56,502.32 276.13,511.1 289.7,514.7 303.27,515.85 316.85,516.13 330.42,516.19 343.99,516.2 357.56,516.2 371.12,516.2 384.69,516.2" stroke="#ff0000" stroke-width="1.3" stroke-dasharray="2.4,2.2"/>
</g>
<g font-family="'Liberation Sans', sans-serif" fill="#626262">
<text x="87.2" y="596.45" font-size="12" textLength="115.3" lengthAdjust="spacing">Companion galaxy:</text>
<text x="211.4" y="596.45" font-size="12" textLength="124.6" lengthAdjust="spacing">0720–52206–0299</text>
<text x="60.5" y="753.55" font-size="11" text-anchor="middle">4850</text>
<text x="121.12" y="753.55" font-size="11" text-anchor="middle">4855</text>
<text x="181.74" y="753.55" font-size="11" text-anchor="middle">4860</text>
<text x="242.36" y="753.55" font-size="11" text-anchor="middle">4865</text>
<text x="302.98" y="753.55" font-size="11" text-anchor="middle">4870</text>
<text x="363.6" y="753.55" font-size="11" text-anchor="middle">4875</text>
<text x="212" y="766.15" font-size="11" text-anchor="middle" textLength="98" lengthAdjust="spacing">rest wavelength (&#197;)</text>
<text x="56.8" y="738.35" font-size="11" text-anchor="end">−20</text>
<text x="56.8" y="715.15" font-size="11" text-anchor="end">0</text>
<text x="56.8" y="688.05" font-size="11" text-anchor="end">20</text>
<text x="56.8" y="660.95" font-size="11" text-anchor="end">40</text>
<text x="56.8" y="633.85" font-size="11" text-anchor="end">60</text>
<text x="56.8" y="610.05" font-size="11" text-anchor="end">80</text>
<text transform="translate(29.6,671) rotate(-90)" font-size="11" text-anchor="middle" textLength="117" lengthAdjust="spacing">f<tspan font-size="8" dy="2.5">&#955;</tspan><tspan dy="-2.5"> (10</tspan><tspan font-size="7.5" dy="-4">&#8722;17</tspan><tspan dy="4">erg/s/cm</tspan><tspan font-size="7.5" dy="-4">2</tspan><tspan dy="4">/&#197;)</tspan></text>
</g>
<path d="M60.5 602.05H363.6V737.55H60.5ZM60.5 737.55v-2.7M60.5 602.05v2.7M72.62 737.55v-1.35M72.62 602.05v1.35M84.75 737.55v-1.35M84.75 602.05v1.35M96.87 737.55v-1.35M96.87 602.05v1.35M109 737.55v-1.35M109 602.05v1.35M121.12 737.55v-2.7M121.12 602.05v2.7M133.24 737.55v-1.35M133.24 602.05v1.35M145.37 737.55v-1.35M145.37 602.05v1.35M157.49 737.55v-1.35M157.49 602.05v1.35M169.62 737.55v-1.35M169.62 602.05v1.35M181.74 737.55v-2.7M181.74 602.05v2.7M193.86 737.55v-1.35M193.86 602.05v1.35M205.99 737.55v-1.35M205.99 602.05v1.35M218.11 737.55v-1.35M218.11 602.05v1.35M230.24 737.55v-1.35M230.24 602.05v1.35M242.36 737.55v-2.7M242.36 602.05v2.7M254.48 737.55v-1.35M254.48 602.05v1.35M266.61 737.55v-1.35M266.61 602.05v1.35M278.73 737.55v-1.35M278.73 602.05v1.35M290.86 737.55v-1.35M290.86 602.05v1.35M302.98 737.55v-2.7M302.98 602.05v2.7M315.1 737.55v-1.35M315.1 602.05v1.35M327.23 737.55v-1.35M327.23 602.05v1.35M339.35 737.55v-1.35M339.35 602.05v1.35M351.48 737.55v-1.35M351.48 602.05v1.35M363.6 737.55v-2.7M363.6 602.05v2.7M60.5 737.55h6M363.6 737.55h-6M60.5 730.77h3M363.6 730.77h-3M60.5 724h3M363.6 724h-3M60.5 717.22h3M363.6 717.22h-3M60.5 710.45h6M363.6 710.45h-6M60.5 703.67h3M363.6 703.67h-3M60.5 696.9h3M363.6 696.9h-3M60.5 690.12h3M363.6 690.12h-3M60.5 683.35h6M363.6 683.35h-6M60.5 676.57h3M363.6 676.57h-3M60.5 669.8h3M363.6 669.8h-3M60.5 663.02h3M363.6 663.02h-3M60.5 656.25h6M363.6 656.25h-6M60.5 649.47h3M363.6 649.47h-3M60.5 642.7h3M363.6 642.7h-3M60.5 635.92h3M363.6 635.92h-3M60.5 629.15h6M363.6 629.15h-6M60.5 622.38h3M363.6 622.38h-3M60.5 615.6h3M363.6 615.6h-3M60.5 608.82h3M363.6 608.82h-3M60.5 602.05h6M363.6 602.05h-6" fill="none" stroke="#b8b8b8" stroke-width="1"/>
<g clip-path="url(#c3)" fill="none" stroke-linejoin="round">
<polyline points="60.5,737.55 61,737.55 61.5,737.55 62,737.55 62.5,737.55 63,737.55 63.5,737.55 64,737.55 64.5,737.55 65,737.55 65.5,737.55 66,737.55 66.5,737.55 67,737.55 67.5,737.55 68,737.55 68.5,737.55 69,737.55 69.5,737.55 70,737.55 70.5,737.55 71,737.55 71.5,737.55 72,737.55 72.5,737.55 73,737.55 73.5,737.55 74,737.55 74.5,737.55 75,737.55 75.5,737.55 76,737.55 76.5,737.55 77,737.55 77.5,737.55 78,737.55 78.5,737.55 79,737.55 79.5,737.55 80,737.55 80.5,737.55 81,737.55 81.5,737.55 82,737.55 82.5,737.55 83,737.55 83.5,737.55 84,737.55 84.5,737.55 85,737.55 85.5,737.55 86,737.55 86.5,737.55 87,737.55 87.5,737.55 88,737.55 88.5,737.55 89,737.55 89.5,737.55 90,737.55 90.5,737.55 91,737.55 91.5,737.55 92,737.55 92.5,737.55 93,737.55 93.5,737.55 94,737.55 94.5,737.55 95,737.55 95.5,737.55 96,737.55 96.5,737.55 97,737.55 97.5,737.55 98,737.55 98.5,737.55 99,737.55 99.5,737.55 100,737.55 100.5,737.55 101,737.55 101.5,737.55 102,737.55 102.5,737.55 103,737.55 103.5,737.55 104,737.55 104.5,737.55 105,737.55 105.5,737.55 106,737.55 106.5,737.55 107,737.55 107.5,737.55 108,737.55 108.5,737.55 109,737.55 109.5,737.55 110,737.55 110.5,737.55 111,737.55 111.5,737.55 112,737.55 112.5,737.55 113,737.55 113.5,737.55 114,737.55 114.5,737.55 115,737.55 115.5,737.55 116,737.55 116.5,737.55 117,737.55 117.5,737.55 118,737.55 118.5,737.55 119,737.55 119.5,737.55 120,737.55 120.5,737.55 121,737.55 121.5,737.55 122,737.55 122.5,737.55 123,737.55 123.5,737.55 124,737.55 124.5,737.55 125,737.55 125.5,737.55 126,737.55 126.5,737.55 127,737.55 127.5,737.55 128,737.55 128.5,737.55 129,737.55 129.5,737.55 130,737.55 130.5,737.55 131,737.55 131.5,737.55 132,737.55 132.5,737.55 133,737.55 133.5,737.55 134,737.55 134.5,737.55 135,737.55 135.5,737.55 136,737.55 136.5,737.55 137,737.55 137.5,737.55 138,737.55 138.5,737.55 139,737.55 139.5,737.55 140,737.55 140.5,737.55 141,737.55 141.5,737.55 142,737.55 142.5,737.55 143,737.55 143.5,737.55 144,737.55 144.5,737.55 145,737.54 145.5,737.54 146,737.54 146.5,737.54 147,737.54 147.5,737.54 148,737.54 148.5,737.54 149,737.54 149.5,737.54 150,737.54 150.5,737.54 151,737.53 151.5,737.53 152,737.53 152.5,737.53 153,737.53 153.5,737.53 154,737.52 154.5,737.52 155,737.52 155.5,737.52 156,737.52 156.5,737.51 157,737.51 157.5,737.51 158,737.5 158.5,737.5 159,737.49 159.5,737.49 160,737.48 160.5,737.48 161,737.47 161.5,737.47 162,737.46 162.5,737.45 163,737.45 163.5,737.44 164,737.43 164.5,737.42 165,737.41 165.5,737.4 166,737.39 166.5,737.37 167,737.36 167.5,737.35 168,737.33 168.5,737.31 169,737.3 169.5,737.28 170,737.26 170.5,737.24 171,737.22 171.5,737.19 172,737.17 172.5,737.14 173,737.11 173.5,737.08 174,737.05 174.5,737.01 175,736.98 175.5,736.94 176,736.9 176.5,736.86 177,736.81 177.5,736.76 178,736.71 178.5,736.66 179,736.6 179.5,736.54 180,736.47 180.5,736.4 181,736.33 181.5,736.26 182,736.18 182.5,736.09 183,736.01 183.5,735.91 184,735.81 184.5,735.71 185,735.6 185.5,735.49 186,735.37 186.5,735.24 187,735.11 187.5,734.97 188,734.83 188.5,734.68 189,734.52 189.5,734.35 190,734.18 190.5,734 191,733.81 191.5,733.61 192,733.4 192.5,733.18 193,732.96 193.5,732.72 194,732.48 194.5,732.22 195,731.96 195.5,731.68 196,731.39 196.5,731.09 197,730.78 197.5,730.46 198,730.12 198.5,729.77 199,729.41 199.5,729.04 200,728.65 200.5,728.25 201,727.84 201.5,727.41 202,726.97 202.5,726.51 203,726.03 203.5,725.55 204,725.04 204.5,724.52 205,723.99 205.5,723.44 206,722.87 206.5,722.29 207,721.69 207.5,721.07 208,720.44 208.5,719.79 209,719.13 209.5,718.44 210,717.74 210.5,717.03 211,716.29 211.5,715.54 212,714.77 212.5,713.99 213,713.19 213.5,712.37 214,711.54 214.5,710.69 215,709.82 215.5,708.94 216,708.04 216.5,707.13 217,706.2 217.5,705.26 218,704.3 218.5,703.33 219,702.35 219.5,701.36 220,700.35 220.5,699.33 221,698.3 221.5,697.25 222,696.2 222.5,695.14 223,694.07 223.5,692.99 224,691.91 224.5,690.81 225,689.72 225.5,688.61 226,687.5 226.5,686.39 227,685.28 227.5,684.17 228,683.05 228.5,681.94 229,680.82 229.5,679.71 230,678.6 230.5,677.5 231,676.4 231.5,675.31 232,674.23 232.5,673.15 233,672.09 233.5,671.03 234,669.99 234.5,668.95 235,667.94 235.5,666.94 236,665.95 236.5,664.98 237,664.03 237.5,663.1 238,662.19 238.5,661.3 239,660.43 239.5,659.58 240,658.76 240.5,657.97 241,657.2 241.5,656.46 242,655.74 242.5,655.06 243,654.4 243.5,653.78 244,653.18 244.5,652.62 245,652.09 245.5,651.59 246,651.13 246.5,650.7 247,650.31 247.5,649.95 248,649.63 248.5,649.35 249,649.1 249.5,648.89 250,648.71 250.5,648.58 251,648.48 251.5,648.41 252,648.39 252.5,648.41 253,648.46 253.5,648.55 254,648.68 254.5,648.84 255,649.04 255.5,649.28 256,649.56 256.5,649.87 257,650.22 257.5,650.61 258,651.03 258.5,651.48 259,651.97 259.5,652.49 260,653.05 260.5,653.63 261,654.25 261.5,654.9 262,655.58 262.5,656.28 263,657.02 263.5,657.78 264,658.57 264.5,659.39 265,660.23 265.5,661.09 266,661.97 266.5,662.88 267,663.81 267.5,664.75 268,665.72 268.5,666.7 269,667.7 269.5,668.71 270,669.74 270.5,670.78 271,671.83 271.5,672.9 272,673.97 272.5,675.05 273,676.14 273.5,677.24 274,678.34 274.5,679.45 275,680.56 275.5,681.67 276,682.79 276.5,683.9 277,685.02 277.5,686.13 278,687.24 278.5,688.35 279,689.45 279.5,690.55 280,691.65 280.5,692.73 281,693.82 281.5,694.89 282,695.95 282.5,697.01 283,698.05 283.5,699.08 284,700.11 284.5,701.12 285,702.12 285.5,703.1 286,704.08 286.5,705.04 287,705.98 287.5,706.91 288,707.83 288.5,708.73 289,709.61 289.5,710.48 290,711.34 290.5,712.17 291,713 291.5,713.8 292,714.59 292.5,715.36 293,716.12 293.5,716.85 294,717.57 294.5,718.28 295,718.97 295.5,719.64 296,720.29 296.5,720.93 297,721.55 297.5,722.15 298,722.74 298.5,723.31 299,723.86 299.5,724.4 300,724.92 300.5,725.43 301,725.92 301.5,726.4 302,726.86 302.5,727.31 303,727.74 303.5,728.16 304,728.56 304.5,728.95 305,729.33 305.5,729.69 306,730.04 306.5,730.38 307,730.71 307.5,731.02 308,731.32 308.5,731.61 309,731.89 309.5,732.16 310,732.42 310.5,732.67 311,732.9 311.5,733.13 312,733.35 312.5,733.56 313,733.76 313.5,733.95 314,734.14 314.5,734.31 315,734.48 315.5,734.64 316,734.79 316.5,734.94 317,735.08 317.5,735.21 318,735.34 318.5,735.46 319,735.58 319.5,735.69 320,735.79 320.5,735.89 321,735.98 321.5,736.07 322,736.16 322.5,736.24 323,736.32 323.5,736.39 324,736.46 324.5,736.52 325,736.58 325.5,736.64 326,736.7 326.5,736.75 327,736.8 327.5,736.84 328,736.89 328.5,736.93 329,736.97 329.5,737.01 330,737.04 330.5,737.07 331,737.1 331.5,737.13 332,737.16 332.5,737.19 333,737.21 333.5,737.23 334,737.25 334.5,737.27 335,737.29 335.5,737.31 336,737.33 336.5,737.34 337,737.36 337.5,737.37 338,737.38 338.5,737.39 339,737.41 339.5,737.42 340,737.43 340.5,737.43 341,737.44 341.5,737.45 342,737.46 342.5,737.47 343,737.47 343.5,737.48 344,737.48 344.5,737.49 345,737.49 345.5,737.5 346,737.5 346.5,737.5 347,737.51 347.5,737.51 348,737.51 348.5,737.52 349,737.52 349.5,737.52 350,737.52 350.5,737.53 351,737.53 351.5,737.53 352,737.53 352.5,737.53 353,737.53 353.5,737.54 354,737.54 354.5,737.54 355,737.54 355.5,737.54 356,737.54 356.5,737.54 357,737.54 357.5,737.54 358,737.54 358.5,737.54 359,737.54 359.5,737.55 360,737.55 360.5,737.55 361,737.55 361.5,737.55 362,737.55 362.5,737.55 363,737.55 363.5,737.55 364,737.55" stroke="#4848ff" stroke-width="0.85" stroke-dasharray="1.6,0.8"/>
<polyline points="60.5,737.55 61,737.55 61.5,737.55 62,737.55 62.5,737.55 63,737.55 63.5,737.55 64,737.55 64.5,737.55 65,737.55 65.5,737.55 66,737.55 66.5,737.55 67,737.55 67.5,737.55 68,737.55 68.5,737.55 69,737.55 69.5,737.55 70,737.55 70.5,737.55 71,737.55 71.5,737.55 72,737.55 72.5,737.55 73,737.55 73.5,737.55 74,737.55 74.5,737.55 75,737.55 75.5,737.55 76,737.55 76.5,737.55 77,737.55 77.5,737.55 78,737.55 78.5,737.55 79,737.55 79.5,737.55 80,737.55 80.5,737.55 81,737.55 81.5,737.55 82,737.55 82.5,737.55 83,737.55 83.5,737.55 84,737.55 84.5,737.55 85,737.55 85.5,737.55 86,737.55 86.5,737.55 87,737.55 87.5,737.55 88,737.55 88.5,737.55 89,737.55 89.5,737.55 90,737.55 90.5,737.55 91,737.55 91.5,737.55 92,737.55 92.5,737.55 93,737.55 93.5,737.55 94,737.55 94.5,737.55 95,737.55 95.5,737.55 96,737.55 96.5,737.55 97,737.55 97.5,737.55 98,737.55 98.5,737.55 99,737.55 99.5,737.55 100,737.55 100.5,737.55 101,737.55 101.5,737.55 102,737.55 102.5,737.55 103,737.55 103.5,737.55 104,737.55 104.5,737.55 105,737.55 105.5,737.55 106,737.55 106.5,737.55 107,737.55 107.5,737.55 108,737.55 108.5,737.55 109,737.55 109.5,737.55 110,737.55 110.5,737.55 111,737.55 111.5,737.55 112,737.55 112.5,737.55 113,737.55 113.5,737.55 114,737.55 114.5,737.55 115,737.55 115.5,737.55 116,737.55 116.5,737.55 117,737.55 117.5,737.55 118,737.55 118.5,737.55 119,737.55 119.5,737.55 120,737.55 120.5,737.55 121,737.55 121.5,737.55 122,737.55 122.5,737.55 123,737.55 123.5,737.55 124,737.55 124.5,737.55 125,737.55 125.5,737.55 126,737.55 126.5,737.55 127,737.55 127.5,737.55 128,737.55 128.5,737.55 129,737.55 129.5,737.55 130,737.55 130.5,737.55 131,737.55 131.5,737.55 132,737.55 132.5,737.55 133,737.55 133.5,737.55 134,737.55 134.5,737.55 135,737.55 135.5,737.55 136,737.55 136.5,737.55 137,737.55 137.5,737.55 138,737.55 138.5,737.55 139,737.55 139.5,737.55 140,737.55 140.5,737.55 141,737.55 141.5,737.55 142,737.55 142.5,737.55 143,737.55 143.5,737.55 144,737.55 144.5,737.55 145,737.55 145.5,737.55 146,737.55 146.5,737.55 147,737.55 147.5,737.55 148,737.55 148.5,737.55 149,737.55 149.5,737.54 150,737.54 150.5,737.54 151,737.54 151.5,737.54 152,737.54 152.5,737.54 153,737.54 153.5,737.54 154,737.54 154.5,737.54 155,737.54 155.5,737.53 156,737.53 156.5,737.53 157,737.53 157.5,737.53 158,737.52 158.5,737.52 159,737.52 159.5,737.52 160,737.51 160.5,737.51 161,737.51 161.5,737.5 162,737.5 162.5,737.49 163,737.49 163.5,737.48 164,737.48 164.5,737.47 165,737.47 165.5,737.46 166,737.45 166.5,737.44 167,737.43 167.5,737.42 168,737.41 168.5,737.4 169,737.39 169.5,737.37 170,737.36 170.5,737.35 171,737.33 171.5,737.31 172,737.29 172.5,737.27 173,737.25 173.5,737.23 174,737.2 174.5,737.18 175,737.15 175.5,737.12 176,737.08 176.5,737.05 177,737.01 177.5,736.97 178,736.93 178.5,736.89 179,736.84 179.5,736.79 180,736.73 180.5,736.68 181,736.62 181.5,736.55 182,736.48 182.5,736.41 183,736.33 183.5,736.25 184,736.17 184.5,736.07 185,735.98 185.5,735.87 186,735.77 186.5,735.65 187,735.53 187.5,735.41 188,735.27 188.5,735.13 189,734.98 189.5,734.83 190,734.66 190.5,734.49 191,734.31 191.5,734.12 192,733.92 192.5,733.71 193,733.49 193.5,733.26 194,733.02 194.5,732.77 195,732.5 195.5,732.23 196,731.94 196.5,731.64 197,731.33 197.5,731 198,730.66 198.5,730.31 199,729.94 199.5,729.55 200,729.16 200.5,728.74 201,728.31 201.5,727.86 202,727.4 202.5,726.92 203,726.42 203.5,725.91 204,725.38 204.5,724.82 205,724.25 205.5,723.67 206,723.06 206.5,722.43 207,721.79 207.5,721.12 208,720.44 208.5,719.73 209,719.01 209.5,718.27 210,717.5 210.5,716.72 211,715.91 211.5,715.09 212,714.25 212.5,713.38 213,712.5 213.5,711.6 214,710.67 214.5,709.73 215,708.77 215.5,707.79 216,706.79 216.5,705.78 217,704.75 217.5,703.7 218,702.63 218.5,701.55 219,700.45 219.5,699.34 220,698.22 220.5,697.08 221,695.93 221.5,694.77 222,693.59 222.5,692.41 223,691.22 223.5,690.02 224,688.81 224.5,687.59 225,686.37 225.5,685.15 226,683.93 226.5,682.7 227,681.47 227.5,680.24 228,679.02 228.5,677.79 229,676.58 229.5,675.36 230,674.16 230.5,672.96 231,671.78 231.5,670.6 232,669.44 232.5,668.29 233,667.15 233.5,666.04 234,664.94 234.5,663.86 235,662.8 235.5,661.76 236,660.74 236.5,659.75 237,658.79 237.5,657.85 238,656.95 238.5,656.07 239,655.22 239.5,654.41 240,653.62 240.5,652.88 241,652.16 241.5,651.49 242,650.85 242.5,650.25 243,649.69 243.5,649.16 244,648.68 244.5,648.24 245,647.85 245.5,647.49 246,647.18 246.5,646.91 247,646.68 247.5,646.5 248,646.37 248.5,646.28 249,646.23 249.5,646.23 250,646.27 250.5,646.36 251,646.49 251.5,646.67 252,646.89 252.5,647.15 253,647.46 253.5,647.82 254,648.21 254.5,648.65 255,649.12 255.5,649.64 256,650.2 256.5,650.8 257,651.43 257.5,652.11 258,652.82 258.5,653.56 259,654.34 259.5,655.15 260,656 260.5,656.87 261,657.78 261.5,658.71 262,659.67 262.5,660.66 263,661.67 263.5,662.71 264,663.77 264.5,664.85 265,665.94 265.5,667.06 266,668.19 266.5,669.34 267,670.5 267.5,671.68 268,672.86 268.5,674.06 269,675.26 269.5,676.48 270,677.69 270.5,678.92 271,680.14 271.5,681.37 272,682.6 272.5,683.82 273,685.05 273.5,686.27 274,687.49 274.5,688.71 275,689.92 275.5,691.12 276,692.31 276.5,693.5 277,694.67 277.5,695.83 278,696.98 278.5,698.12 279,699.25 279.5,700.36 280,701.46 280.5,702.54 281,703.61 281.5,704.66 282,705.7 282.5,706.71 283,707.71 283.5,708.69 284,709.65 284.5,710.6 285,711.52 285.5,712.42 286,713.31 286.5,714.18 287,715.02 287.5,715.85 288,716.65 288.5,717.44 289,718.2 289.5,718.95 290,719.68 290.5,720.38 291,721.07 291.5,721.73 292,722.38 292.5,723.01 293,723.62 293.5,724.21 294,724.78 294.5,725.33 295,725.86 295.5,726.38 296,726.88 296.5,727.36 297,727.83 297.5,728.27 298,728.71 298.5,729.12 299,729.52 299.5,729.91 300,730.28 300.5,730.63 301,730.97 301.5,731.3 302,731.62 302.5,731.92 303,732.21 303.5,732.48 304,732.75 304.5,733 305,733.24 305.5,733.47 306,733.69 306.5,733.9 307,734.1 307.5,734.29 308,734.48 308.5,734.65 309,734.81 309.5,734.97 310,735.12 310.5,735.26 311,735.39 311.5,735.52 312,735.64 312.5,735.76 313,735.87 313.5,735.97 314,736.07 314.5,736.16 315,736.24 315.5,736.33 316,736.4 316.5,736.48 317,736.55 317.5,736.61 318,736.67 318.5,736.73 319,736.78 319.5,736.83 320,736.88 320.5,736.93 321,736.97 321.5,737.01 322,737.05 322.5,737.08 323,737.11 323.5,737.14 324,737.17 324.5,737.2 325,737.23 325.5,737.25 326,737.27 326.5,737.29 327,737.31 327.5,737.33 328,737.34 328.5,737.36 329,737.37 329.5,737.39 330,737.4 330.5,737.41 331,737.42 331.5,737.43 332,737.44 332.5,737.45 333,737.46 333.5,737.46 334,737.47 334.5,737.48 335,737.48 335.5,737.49 336,737.49 336.5,737.5 337,737.5 337.5,737.51 338,737.51 338.5,737.51 339,737.52 339.5,737.52 340,737.52 340.5,737.52 341,737.53 341.5,737.53 342,737.53 342.5,737.53 343,737.53 343.5,737.54 344,737.54 344.5,737.54 345,737.54 345.5,737.54 346,737.54 346.5,737.54 347,737.54 347.5,737.54 348,737.54 348.5,737.54 349,737.54 349.5,737.55 350,737.55 350.5,737.55 351,737.55 351.5,737.55 352,737.55 352.5,737.55 353,737.55 353.5,737.55 354,737.55 354.5,737.55 355,737.55 355.5,737.55 356,737.55 356.5,737.55 357,737.55 357.5,737.55 358,737.55 358.5,737.55 359,737.55 359.5,737.55 360,737.55 360.5,737.55 361,737.55 361.5,737.55 362,737.55 362.5,737.55 363,737.55 363.5,737.55 364,737.55" stroke="#0000ff" stroke-width="1.2"/>
<polyline points="60.5,737.55 61,737.55 61.5,737.55 62,737.55 62.5,737.55 63,737.55 63.5,737.55 64,737.55 64.5,737.55 65,737.55 65.5,737.55 66,737.55 66.5,737.55 67,737.55 67.5,737.55 68,737.55 68.5,737.55 69,737.55 69.5,737.55 70,737.55 70.5,737.55 71,737.55 71.5,737.55 72,737.55 72.5,737.55 73,737.55 73.5,737.55 74,737.55 74.5,737.55 75,737.55 75.5,737.55 76,737.55 76.5,737.55 77,737.55 77.5,737.55 78,737.55 78.5,737.55 79,737.55 79.5,737.55 80,737.55 80.5,737.55 81,737.55 81.5,737.55 82,737.55 82.5,737.55 83,737.55 83.5,737.55 84,737.55 84.5,737.55 85,737.55 85.5,737.55 86,737.55 86.5,737.55 87,737.55 87.5,737.55 88,737.55 88.5,737.55 89,737.55 89.5,737.55 90,737.55 90.5,737.55 91,737.55 91.5,737.55 92,737.55 92.5,737.55 93,737.55 93.5,737.55 94,737.55 94.5,737.55 95,737.55 95.5,737.55 96,737.55 96.5,737.55 97,737.55 97.5,737.55 98,737.55 98.5,737.55 99,737.55 99.5,737.55 100,737.55 100.5,737.55 101,737.55 101.5,737.55 102,737.55 102.5,737.55 103,737.55 103.5,737.55 104,737.55 104.5,737.55 105,737.55 105.5,737.55 106,737.55 106.5,737.55 107,737.55 107.5,737.55 108,737.55 108.5,737.55 109,737.55 109.5,737.55 110,737.55 110.5,737.55 111,737.55 111.5,737.55 112,737.55 112.5,737.55 113,737.55 113.5,737.55 114,737.55 114.5,737.55 115,737.55 115.5,737.55 116,737.55 116.5,737.55 117,737.55 117.5,737.55 118,737.55 118.5,737.55 119,737.55 119.5,737.55 120,737.55 120.5,737.55 121,737.55 121.5,737.55 122,737.55 122.5,737.55 123,737.55 123.5,737.55 124,737.55 124.5,737.55 125,737.55 125.5,737.55 126,737.55 126.5,737.55 127,737.55 127.5,737.55 128,737.55 128.5,737.55 129,737.55 129.5,737.55 130,737.55 130.5,737.55 131,737.55 131.5,737.55 132,737.55 132.5,737.55 133,737.55 133.5,737.55 134,737.55 134.5,737.55 135,737.55 135.5,737.55 136,737.55 136.5,737.55 137,737.55 137.5,737.55 138,737.55 138.5,737.55 139,737.55 139.5,737.55 140,737.55 140.5,737.55 141,737.55 141.5,737.55 142,737.55 142.5,737.55 143,737.55 143.5,737.55 144,737.55 144.5,737.55 145,737.55 145.5,737.55 146,737.55 146.5,737.55 147,737.55 147.5,737.55 148,737.55 148.5,737.55 149,737.55 149.5,737.55 150,737.55 150.5,737.55 151,737.55 151.5,737.55 152,737.55 152.5,737.55 153,737.55 153.5,737.55 154,737.55 154.5,737.55 155,737.55 155.5,737.55 156,737.55 156.5,737.55 157,737.55 157.5,737.55 158,737.55 158.5,737.55 159,737.55 159.5,737.55 160,737.55 160.5,737.55 161,737.55 161.5,737.55 162,737.55 162.5,737.55 163,737.55 163.5,737.55 164,737.55 164.5,737.55 165,737.55 165.5,737.55 166,737.55 166.5,737.55 167,737.55 167.5,737.55 168,737.55 168.5,737.55 169,737.55 169.5,737.55 170,737.55 170.5,737.55 171,737.55 171.5,737.55 172,737.55 172.5,737.55 173,737.55 173.5,737.55 174,737.55 174.5,737.55 175,737.55 175.5,737.55 176,737.55 176.5,737.55 177,737.55 177.5,737.55 178,737.55 178.5,737.55 179,737.55 179.5,737.55 180,737.55 180.5,737.55 181,737.55 181.5,737.55 182,737.55 182.5,737.55 183,737.55 183.5,737.55 184,737.55 184.5,737.55 185,737.55 185.5,737.55 186,737.55 186.5,737.55 187,737.55 187.5,737.55 188,737.55 188.5,737.55 189,737.55 189.5,737.55 190,737.55 190.5,737.55 191,737.55 191.5,737.55 192,737.55 192.5,737.55 193,737.55 193.5,737.55 194,737.55 194.5,737.55 195,737.55 195.5,737.55 196,737.55 196.5,737.55 197,737.55 197.5,737.55 198,737.55 198.5,737.55 199,737.55 199.5,737.55 200,737.55 200.5,737.55 201,737.55 201.5,737.55 202,737.55 202.5,737.55 203,737.55 203.5,737.55 204,737.55 204.5,737.55 205,737.55 205.5,737.55 206,737.55 206.5,737.55 207,737.55 207.5,737.55 208,737.55 208.5,737.55 209,737.55 209.5,737.55 210,737.55 210.5,737.55 211,737.55 211.5,737.55 212,737.55 212.5,737.55 213,737.55 213.5,737.55 214,737.55 214.5,737.55 215,737.55 215.5,737.55 216,737.55 216.5,737.55 217,737.55 217.5,737.55 218,737.55 218.5,737.55 219,737.55 219.5,737.55 220,737.55 220.5,737.55 221,737.55 221.5,737.55 222,737.55 222.5,737.55 223,737.55 223.5,737.55 224,737.55 224.5,737.55 225,737.55 225.5,737.55 226,737.55 226.5,737.55 227,737.55 227.5,737.55 228,737.55 228.5,737.55 229,737.55 229.5,737.55 230,737.55 230.5,737.55 231,737.55 231.5,737.55 232,737.55 232.5,737.55 233,737.55 233.5,737.55 234,737.55 234.5,737.55 235,737.55 235.5,737.55 236,737.55 236.5,737.55 237,737.55 237.5,737.55 238,737.55 238.5,737.55 239,737.55 239.5,737.55 240,737.55 240.5,737.54 241,737.54 241.5,737.54 242,737.54 242.5,737.54 243,737.54 243.5,737.54 244,737.53 244.5,737.53 245,737.53 245.5,737.53 246,737.52 246.5,737.52 247,737.51 247.5,737.51 248,737.5 248.5,737.5 249,737.49 249.5,737.48 250,737.47 250.5,737.46 251,737.45 251.5,737.44 252,737.42 252.5,737.41 253,737.39 253.5,737.37 254,737.34 254.5,737.32 255,737.29 255.5,737.26 256,737.23 256.5,737.19 257,737.16 257.5,737.11 258,737.07 258.5,737.01 259,736.96 259.5,736.9 260,736.83 260.5,736.76 261,736.68 261.5,736.6 262,736.51 262.5,736.42 263,736.31 263.5,736.2 264,736.09 264.5,735.96 265,735.83 265.5,735.69 266,735.54 266.5,735.38 267,735.21 267.5,735.03 268,734.85 268.5,734.65 269,734.45 269.5,734.23 270,734.01 270.5,733.78 271,733.54 271.5,733.29 272,733.03 272.5,732.76 273,732.48 273.5,732.2 274,731.91 274.5,731.61 275,731.31 275.5,731 276,730.69 276.5,730.38 277,730.06 277.5,729.74 278,729.41 278.5,729.09 279,728.77 279.5,728.45 280,728.13 280.5,727.82 281,727.51 281.5,727.21 282,726.91 282.5,726.63 283,726.35 283.5,726.08 284,725.83 284.5,725.59 285,725.36 285.5,725.15 286,724.95 286.5,724.77 287,724.61 287.5,724.46 288,724.34 288.5,724.23 289,724.14 289.5,724.08 290,724.03 290.5,724.01 291,724 291.5,724.02 292,724.05 292.5,724.11 293,724.19 293.5,724.29 294,724.41 294.5,724.54 295,724.7 295.5,724.87 296,725.06 296.5,725.27 297,725.49 297.5,725.73 298,725.97 298.5,726.24 299,726.51 299.5,726.79 300,727.08 300.5,727.38 301,727.69 301.5,728 302,728.31 302.5,728.63 303,728.95 303.5,729.28 304,729.6 304.5,729.92 305,730.24 305.5,730.56 306,730.87 306.5,731.18 307,731.49 307.5,731.79 308,732.08 308.5,732.36 309,732.64 309.5,732.91 310,733.18 310.5,733.43 311,733.68 311.5,733.91 312,734.14 312.5,734.36 313,734.57 313.5,734.76 314,734.95 314.5,735.14 315,735.31 315.5,735.47 316,735.62 316.5,735.77 317,735.91 317.5,736.03 318,736.15 318.5,736.27 319,736.37 319.5,736.47 320,736.56 320.5,736.65 321,736.73 321.5,736.8 322,736.87 322.5,736.93 323,736.99 323.5,737.04 324,737.09 324.5,737.14 325,737.18 325.5,737.22 326,737.25 326.5,737.28 327,737.31 327.5,737.33 328,737.36 328.5,737.38 329,737.4 329.5,737.41 330,737.43 330.5,737.44 331,737.46 331.5,737.47 332,737.48 332.5,737.49 333,737.49 333.5,737.5 334,737.51 334.5,737.51 335,737.52 335.5,737.52 336,737.52 336.5,737.53 337,737.53 337.5,737.53 338,737.54 338.5,737.54 339,737.54 339.5,737.54 340,737.54 340.5,737.54 341,737.54 341.5,737.55 342,737.55 342.5,737.55 343,737.55 343.5,737.55 344,737.55 344.5,737.55 345,737.55 345.5,737.55 346,737.55 346.5,737.55 347,737.55 347.5,737.55 348,737.55 348.5,737.55 349,737.55 349.5,737.55 350,737.55 350.5,737.55 351,737.55 351.5,737.55 352,737.55 352.5,737.55 353,737.55 353.5,737.55 354,737.55 354.5,737.55 355,737.55 355.5,737.55 356,737.55 356.5,737.55 357,737.55 357.5,737.55 358,737.55 358.5,737.55 359,737.55 359.5,737.55 360,737.55 360.5,737.55 361,737.55 361.5,737.55 362,737.55 362.5,737.55 363,737.55 363.5,737.55 364,737.55" stroke="#0000ff" stroke-width="1.2"/>
<path d="M58.53 711.8H72.1V708.82H85.67V710.72H99.24V711.4H112.81V708.82H126.38V712.89H139.95V710.99H153.52V710.31H167.09V709.91H180.66V707.33H194.23V703.4H207.8V689.85H221.37V653.13H234.94V624.95H248.51V624.54H262.08V650.15H275.65V676.03H289.22V693.11H302.79V706.79H316.36V710.99H329.93V710.99H343.5V714.92H357.07V714.24H370.64V714.24H384.21" stroke="#008000" stroke-width="1.2" stroke-linejoin="miter"/>
<polyline points="51.74,711.26 65.31,711.26 78.88,711.26 92.45,711.26 106.02,711.26 119.59,711.26 133.16,711.26 146.74,711.26 160.31,711.22 173.88,710.92 187.44,709.13 201.01,702.01 214.59,683.28 228.16,652.35 241.72,624.9 255.29,622.86 268.87,645.6 282.44,669.41 296,688.11 309.57,704.11 323.14,710.29 336.72,711.19 350.28,711.26 363.86,711.26 377.42,711.26 391,711.26" stroke="#ff0000" stroke-width="1.15"/>
<polyline points="51.74,711.26 65.31,711.26 78.88,711.26 92.45,711.26 106.02,711.26 119.59,711.26 133.16,711.26 146.74,711.26 160.31,711.19 173.88,710.77 187.44,708.7 201.01,701.54 214.59,684.25 228.16,656.42 241.72,629.84 255.29,622.89 268.87,641.14 282.44,670.58 296,694.01 309.57,705.91 323.14,710.05 336.72,711.06 350.28,711.24 363.86,711.26 377.42,711.26 391,711.26" stroke="#ff0000" stroke-width="1.3" stroke-dasharray="2.4,2.2"/>
</g>
</svg>
</body></html>
